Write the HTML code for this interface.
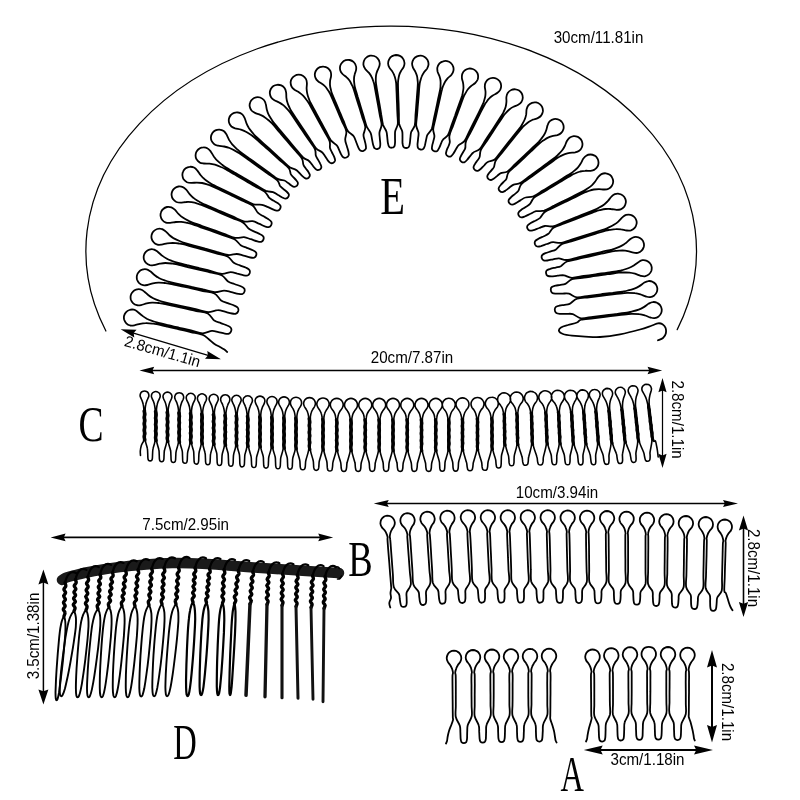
<!DOCTYPE html>
<html><head><meta charset="utf-8"><title>combs</title>
<style>
html,body{margin:0;padding:0;background:#fff;}
body{width:800px;height:800px;overflow:hidden;font-family:"Liberation Sans",sans-serif;}
svg{display:block;}
text{font-family:"Liberation Sans",sans-serif;fill:#000;}
.ser{font-family:"Liberation Serif",serif;}
</style></head><body>
<svg width="800" height="800" viewBox="0 0 800 800">
<rect width="800" height="800" fill="#fff"/>
<g opacity="0.999">
<path d="M105.9 331 A305.3 224.9 0 1 1 677.2 329.6" fill="none" stroke="#000" stroke-width="1.25" stroke-linecap="round"/>
<path d="M227.2 352.0C226.7 351.6 225.2 350.1 224.0 349.3C222.8 348.5 221.6 347.9 220.0 347.0C218.4 346.1 216.4 345.3 214.5 344.0C212.6 342.7 210.5 340.5 208.5 339.0C206.5 337.5 205.3 335.9 202.3 334.7C199.4 333.6 194.5 332.9 190.7 332.0C186.8 331.1 182.9 330.2 179.0 329.4C175.1 328.5 171.1 327.5 167.3 326.7C163.5 325.8 158.9 324.7 156.4 324.2C153.8 323.7 153.9 323.8 152.2 323.6C150.4 323.4 147.7 323.1 145.7 323.2C143.7 323.2 142.0 323.4 140.1 323.8C138.3 324.2 136.0 325.1 134.4 325.3C132.7 325.6 131.5 325.8 130.2 325.5C128.8 325.1 127.3 324.3 126.3 323.3C125.3 322.3 124.6 320.9 124.2 319.7C123.8 318.4 123.8 317.0 124.1 315.8C124.4 314.5 125.0 313.3 125.9 312.3C126.8 311.3 128.1 310.4 129.4 310.0C130.7 309.5 132.5 309.4 133.8 309.7C135.2 310.0 136.2 310.7 137.5 311.7C138.9 312.7 140.5 314.5 142.1 315.6C143.6 316.8 145.0 317.7 146.8 318.7C148.6 319.6 151.1 320.5 152.7 321.1C154.4 321.8 154.3 321.8 156.8 322.4C159.3 323.1 163.9 324.2 167.7 325.1C171.4 325.9 175.5 326.9 179.3 327.8C183.2 328.7 187.1 329.6 191.0 330.5C194.9 331.4 199.2 333.2 202.7 333.3C206.2 333.3 209.3 331.1 211.9 330.9C214.5 330.7 216.3 331.7 218.4 332.1C220.6 332.6 223.1 333.4 224.8 333.6C226.6 333.9 228.0 334.1 229.0 333.7C230.1 333.2 230.9 332.1 231.2 331.1C231.5 330.1 231.5 328.6 230.8 327.7C230.1 326.7 228.9 326.2 227.2 325.5C225.6 324.7 222.9 324.0 220.8 323.1C218.6 322.3 216.5 322.2 214.3 320.6C212.2 319.0 210.8 315.1 207.8 313.5C204.8 311.9 200.2 311.8 196.3 311.0C192.5 310.1 188.7 309.3 184.8 308.4C181.0 307.6 177.0 306.7 173.3 305.9C169.6 305.1 165.0 304.0 162.5 303.6C160.0 303.1 160.1 303.2 158.4 303.0C156.7 302.9 154.1 302.6 152.1 302.7C150.2 302.8 148.6 303.0 146.7 303.4C144.9 303.8 142.7 304.8 141.1 305.1C139.4 305.4 138.2 305.6 136.9 305.2C135.5 304.9 134.0 304.1 133.0 303.1C131.9 302.1 131.2 300.7 130.8 299.5C130.5 298.2 130.5 296.8 130.7 295.6C131.0 294.3 131.6 293.0 132.5 292.1C133.4 291.1 134.6 290.1 135.9 289.7C137.3 289.2 139.0 289.1 140.4 289.4C141.8 289.7 142.8 290.4 144.1 291.4C145.5 292.3 147.0 294.1 148.5 295.2C150.0 296.4 151.4 297.3 153.2 298.2C154.9 299.1 157.3 300.0 159.0 300.6C160.6 301.2 160.5 301.2 162.9 301.8C165.4 302.4 170.0 303.5 173.7 304.3C177.4 305.1 181.3 306.0 185.2 306.9C189.0 307.7 192.8 308.6 196.7 309.5C200.5 310.3 204.7 312.0 208.2 312.1C211.7 312.2 214.9 310.2 217.7 310.2C220.5 310.1 222.5 311.1 224.9 311.7C227.2 312.3 230.1 313.2 232.0 313.5C233.8 313.8 235.0 314.0 236.0 313.6C237.1 313.2 237.9 312.0 238.2 311.1C238.5 310.1 238.5 308.7 237.8 307.8C237.2 306.8 236.1 306.3 234.4 305.6C232.7 304.8 229.9 304.0 227.7 303.1C225.5 302.2 223.3 302.0 221.1 300.4C218.9 298.8 217.5 295.1 214.4 293.5C211.4 292.0 206.7 291.8 202.9 291.0C199.0 290.1 195.2 289.3 191.3 288.4C187.4 287.6 183.5 286.7 179.7 285.9C176.0 285.1 171.4 284.0 168.9 283.6C166.4 283.1 166.5 283.2 164.7 283.0C163.0 282.9 160.4 282.6 158.4 282.7C156.5 282.8 154.8 283.0 152.9 283.4C151.1 283.8 148.9 284.7 147.3 285.0C145.6 285.3 144.4 285.5 143.1 285.2C141.7 284.9 140.2 284.0 139.2 283.1C138.2 282.1 137.4 280.7 137.0 279.5C136.7 278.2 136.7 276.8 136.9 275.6C137.2 274.3 137.8 273.0 138.7 272.1C139.5 271.1 140.8 270.1 142.1 269.7C143.5 269.2 145.2 269.1 146.6 269.4C148.0 269.7 148.9 270.4 150.3 271.3C151.7 272.3 153.3 274.1 154.8 275.2C156.3 276.4 157.7 277.3 159.4 278.2C161.2 279.1 163.7 280.0 165.3 280.6C166.9 281.2 166.8 281.2 169.3 281.8C171.7 282.4 176.4 283.5 180.1 284.3C183.8 285.1 187.8 286.0 191.6 286.9C195.5 287.7 199.4 288.6 203.2 289.5C207.1 290.3 211.3 291.9 214.8 292.1C218.2 292.3 221.3 290.6 224.1 290.6C226.9 290.6 228.9 291.6 231.4 292.1C233.8 292.7 236.7 293.6 238.5 293.9C240.4 294.2 241.5 294.4 242.5 294.0C243.5 293.6 244.3 292.5 244.5 291.6C244.8 290.6 244.8 289.3 244.1 288.4C243.5 287.5 242.4 287.0 240.8 286.3C239.2 285.6 236.5 284.8 234.4 284.0C232.3 283.2 230.2 282.9 228.1 281.5C225.9 280.0 224.6 276.7 221.6 275.2C218.6 273.7 213.8 273.3 210.0 272.4C206.1 271.5 202.3 270.5 198.4 269.6C194.5 268.6 190.5 267.7 186.8 266.8C183.1 265.9 178.4 264.7 175.9 264.2C173.4 263.6 173.5 263.7 171.7 263.5C170.0 263.3 167.4 263.0 165.4 263.0C163.4 263.0 161.7 263.3 159.8 263.6C157.9 264.0 155.7 264.8 154.0 265.1C152.4 265.3 151.2 265.5 149.9 265.2C148.5 264.8 147.0 263.9 146.0 262.9C145.0 262.0 144.3 260.6 143.9 259.3C143.6 258.0 143.6 256.6 143.9 255.4C144.2 254.1 144.9 252.9 145.8 251.9C146.6 251.0 147.9 250.0 149.3 249.6C150.6 249.2 152.4 249.1 153.7 249.5C155.1 249.8 156.0 250.5 157.4 251.5C158.7 252.5 160.3 254.3 161.8 255.4C163.3 256.6 164.7 257.6 166.5 258.5C168.2 259.5 170.7 260.4 172.4 261.1C174.0 261.7 173.9 261.7 176.3 262.4C178.8 263.1 183.5 264.2 187.2 265.2C190.9 266.1 194.9 267.1 198.8 268.0C202.6 269.0 206.5 269.9 210.3 270.9C214.2 271.9 218.5 273.6 221.9 273.8C225.3 274.0 228.1 272.2 230.7 272.2C233.3 272.2 235.1 273.1 237.2 273.7C239.4 274.2 242.0 275.0 243.7 275.3C245.4 275.6 246.6 275.8 247.6 275.5C248.6 275.1 249.4 274.0 249.7 273.1C250.0 272.1 250.0 270.8 249.4 269.9C248.8 269.0 247.7 268.5 246.1 267.7C244.5 267.0 242.0 266.2 239.9 265.4C237.9 264.6 235.8 264.3 233.8 262.8C231.7 261.3 230.5 258.0 227.5 256.5C224.6 254.9 220.0 254.4 216.2 253.3C212.4 252.3 208.7 251.3 204.9 250.2C201.1 249.2 197.2 248.1 193.6 247.1C189.9 246.1 185.4 244.8 183.0 244.2C180.5 243.6 180.6 243.7 178.9 243.5C177.2 243.2 174.6 242.9 172.7 242.8C170.7 242.8 169.1 243.0 167.2 243.3C165.4 243.6 163.2 244.4 161.6 244.6C159.9 244.8 158.7 245.0 157.4 244.6C156.0 244.2 154.5 243.3 153.6 242.2C152.6 241.2 151.9 239.8 151.6 238.5C151.3 237.2 151.4 235.8 151.7 234.6C152.1 233.4 152.7 232.1 153.7 231.2C154.6 230.3 155.9 229.4 157.2 229.0C158.6 228.6 160.4 228.6 161.7 229.0C163.0 229.3 164.0 230.1 165.3 231.1C166.6 232.1 168.1 234.0 169.5 235.2C170.9 236.4 172.3 237.4 173.9 238.4C175.6 239.4 178.0 240.4 179.6 241.0C181.2 241.7 181.0 241.8 183.4 242.5C185.8 243.2 190.4 244.5 194.0 245.5C197.7 246.5 201.6 247.6 205.3 248.7C209.1 249.7 212.9 250.8 216.6 251.9C220.4 252.9 224.6 254.7 228.0 255.0C231.3 255.4 234.2 253.9 236.8 254.0C239.4 254.1 241.4 255.1 243.6 255.6C245.9 256.2 248.6 257.2 250.4 257.5C252.1 257.8 253.2 258.0 254.2 257.7C255.1 257.3 255.9 256.3 256.2 255.4C256.5 254.5 256.5 253.2 255.9 252.3C255.4 251.4 254.3 250.9 252.8 250.2C251.2 249.4 248.7 248.6 246.7 247.8C244.7 247.0 242.7 246.6 240.7 245.2C238.7 243.8 237.4 240.9 234.5 239.2C231.7 237.6 227.2 236.6 223.6 235.3C219.9 234.0 216.2 232.7 212.6 231.4C208.9 230.1 205.1 228.8 201.6 227.6C198.0 226.3 193.6 224.7 191.3 224.0C188.9 223.2 189.0 223.3 187.3 222.9C185.6 222.6 183.1 222.1 181.2 221.9C179.3 221.7 177.7 221.8 175.8 222.0C174.0 222.2 171.8 222.8 170.1 222.9C168.5 223.0 167.2 223.1 165.9 222.6C164.6 222.1 163.2 221.1 162.3 220.0C161.4 218.9 160.8 217.4 160.6 216.2C160.4 214.9 160.6 213.4 161.0 212.3C161.4 211.1 162.2 209.8 163.2 209.0C164.2 208.1 165.5 207.3 166.9 207.0C168.3 206.8 170.0 206.9 171.4 207.3C172.7 207.8 173.6 208.6 174.8 209.7C176.0 210.8 177.3 212.8 178.7 214.1C180.0 215.4 181.2 216.5 182.8 217.5C184.4 218.6 186.6 219.8 188.2 220.6C189.7 221.4 189.5 221.4 191.9 222.3C194.2 223.2 198.6 224.7 202.1 226.0C205.7 227.3 209.4 228.6 213.1 229.9C216.8 231.2 220.4 232.6 224.1 233.9C227.7 235.2 231.7 237.2 235.1 237.8C238.4 238.4 241.4 237.0 244.0 237.2C246.6 237.5 248.5 238.5 250.8 239.2C253.0 239.9 255.7 241.0 257.5 241.4C259.2 241.8 260.2 242.1 261.2 241.8C262.2 241.5 263.1 240.5 263.4 239.6C263.8 238.7 263.8 237.4 263.3 236.5C262.7 235.6 261.7 235.0 260.2 234.2C258.8 233.4 256.4 232.5 254.5 231.6C252.6 230.7 250.7 230.3 248.9 228.8C247.0 227.4 245.9 224.5 243.2 222.7C240.5 220.9 236.1 219.7 232.6 218.1C229.0 216.6 225.5 215.1 221.9 213.6C218.4 212.1 214.7 210.5 211.3 209.0C207.9 207.6 203.7 205.7 201.4 204.8C199.1 203.9 199.2 204.0 197.5 203.6C195.9 203.1 193.5 202.5 191.6 202.2C189.7 201.9 188.1 201.9 186.3 202.0C184.4 202.0 182.2 202.6 180.6 202.6C178.9 202.6 177.7 202.5 176.4 202.0C175.2 201.4 173.8 200.3 173.0 199.1C172.2 198.0 171.7 196.5 171.6 195.2C171.4 193.9 171.7 192.5 172.2 191.3C172.7 190.1 173.5 189.0 174.6 188.2C175.6 187.4 177.0 186.7 178.4 186.5C179.8 186.3 181.6 186.5 182.9 187.1C184.1 187.6 185.0 188.5 186.2 189.7C187.3 190.8 188.4 192.8 189.6 194.2C190.8 195.6 192.0 196.8 193.5 197.9C194.9 199.1 197.1 200.4 198.5 201.3C200.0 202.1 199.8 202.1 202.1 203.2C204.3 204.2 208.5 206.0 212.0 207.5C215.4 209.0 219.0 210.6 222.6 212.1C226.1 213.7 229.6 215.2 233.2 216.7C236.7 218.2 240.6 220.6 243.8 221.3C247.0 222.1 250.1 220.8 252.6 221.2C255.2 221.6 256.8 222.8 258.8 223.7C260.9 224.5 263.3 225.8 264.9 226.4C266.6 226.9 267.7 227.3 268.7 227.1C269.8 226.9 270.8 226.0 271.2 225.1C271.7 224.2 271.8 222.9 271.4 221.9C270.9 221.0 269.9 220.3 268.5 219.3C267.1 218.3 264.9 217.2 263.1 216.1C261.3 215.0 259.5 214.5 257.8 212.7C256.1 211.0 255.4 207.7 252.9 205.7C250.3 203.7 245.9 202.3 242.4 200.7C239.0 199.0 235.5 197.4 232.0 195.7C228.5 194.0 224.9 192.3 221.6 190.7C218.2 189.1 214.0 187.1 211.8 186.1C209.5 185.1 209.6 185.2 208.0 184.7C206.4 184.2 204.0 183.4 202.1 183.0C200.3 182.7 198.7 182.6 196.8 182.6C195.0 182.6 192.7 183.0 191.1 182.9C189.5 182.9 188.2 182.8 187.0 182.2C185.7 181.5 184.4 180.3 183.6 179.2C182.9 178.0 182.5 176.5 182.4 175.2C182.3 173.9 182.6 172.5 183.2 171.3C183.7 170.2 184.6 169.1 185.7 168.3C186.8 167.5 188.2 166.9 189.6 166.8C191.0 166.6 192.7 166.9 194.0 167.5C195.3 168.1 196.1 169.0 197.2 170.3C198.3 171.5 199.3 173.5 200.5 175.0C201.6 176.4 202.7 177.6 204.2 178.8C205.6 180.1 207.7 181.5 209.1 182.4C210.5 183.3 210.4 183.3 212.5 184.5C214.7 185.6 218.9 187.6 222.3 189.2C225.6 190.8 229.2 192.6 232.7 194.2C236.2 195.9 239.6 197.6 243.1 199.3C246.6 201.0 250.4 203.4 253.5 204.3C256.7 205.2 259.5 204.3 261.9 204.8C264.4 205.3 266.1 206.4 268.1 207.2C270.2 208.1 272.6 209.3 274.2 209.9C275.8 210.4 276.9 210.8 277.9 210.6C278.9 210.4 279.8 209.4 280.2 208.6C280.6 207.8 280.8 206.5 280.4 205.6C279.9 204.6 278.7 203.9 277.6 203.0C276.4 202.2 274.7 201.4 273.4 200.6C272.0 199.7 270.6 199.3 269.3 197.9C267.9 196.5 267.5 194.1 265.1 192.1C262.7 190.2 258.3 188.2 254.9 186.2C251.4 184.2 248.0 182.2 244.6 180.2C241.2 178.3 237.6 176.2 234.3 174.3C231.0 172.4 226.9 170.0 224.7 168.8C222.5 167.5 222.5 167.6 220.9 167.0C219.3 166.3 216.9 165.3 215.0 164.7C213.1 164.2 211.4 163.9 209.5 163.7C207.6 163.6 205.3 163.8 203.6 163.5C202.0 163.3 200.8 163.2 199.6 162.4C198.4 161.7 197.1 160.4 196.5 159.2C195.8 158.0 195.5 156.4 195.6 155.1C195.6 153.8 196.0 152.5 196.6 151.4C197.3 150.3 198.3 149.2 199.4 148.6C200.5 147.9 202.0 147.4 203.4 147.4C204.8 147.3 206.5 147.8 207.7 148.5C208.9 149.1 209.7 150.1 210.7 151.4C211.7 152.8 212.7 154.9 213.8 156.5C214.9 158.0 215.9 159.4 217.3 160.7C218.7 162.1 220.8 163.7 222.2 164.8C223.6 165.9 223.4 165.9 225.6 167.2C227.8 168.6 231.9 170.9 235.2 172.9C238.5 174.8 242.0 176.9 245.4 178.9C248.8 180.9 252.2 182.9 255.6 184.9C259.1 186.9 263.0 189.6 265.9 190.9C268.8 192.1 271.0 191.5 273.0 192.1C275.0 192.8 276.2 193.8 277.7 194.7C279.3 195.6 281.0 196.8 282.3 197.5C283.6 198.1 284.7 198.7 285.7 198.7C286.7 198.6 287.7 197.9 288.2 197.1C288.7 196.4 289.0 195.2 288.8 194.3C288.5 193.3 287.4 192.4 286.5 191.5C285.5 190.6 284.3 189.8 283.2 188.8C282.2 187.9 281.1 187.4 280.1 186.0C279.2 184.6 279.4 182.5 277.3 180.4C275.2 178.3 270.8 175.7 267.6 173.4C264.3 171.1 261.1 168.8 257.8 166.5C254.6 164.1 251.2 161.8 248.1 159.5C244.9 157.3 241.1 154.5 238.9 153.0C236.8 151.6 236.8 151.7 235.3 150.9C233.7 150.0 231.4 148.8 229.5 148.0C227.7 147.3 226.0 146.9 224.1 146.5C222.2 146.1 219.8 146.1 218.2 145.7C216.6 145.3 215.4 145.1 214.3 144.2C213.2 143.4 212.1 142.0 211.5 140.7C211.0 139.5 210.8 137.9 211.0 136.6C211.1 135.3 211.7 134.0 212.4 132.9C213.1 131.9 214.2 131.0 215.4 130.4C216.6 129.8 218.1 129.5 219.5 129.6C220.9 129.7 222.6 130.3 223.7 131.1C224.8 131.9 225.5 132.9 226.4 134.3C227.2 135.7 228.0 138.0 229.0 139.7C230.0 141.3 230.9 142.8 232.2 144.3C233.5 145.8 235.5 147.6 236.7 148.8C238.0 150.0 237.9 150.0 240.0 151.6C242.0 153.1 245.9 155.9 249.0 158.2C252.2 160.4 255.5 162.8 258.8 165.2C262.0 167.5 265.2 169.8 268.5 172.2C271.7 174.5 275.5 177.8 278.2 179.1C280.8 180.5 282.8 179.9 284.4 180.5C286.0 181.1 286.7 182.0 287.8 182.8C289.0 183.6 290.1 184.6 291.1 185.3C292.2 186.0 293.4 186.8 294.3 186.9C295.3 186.9 296.4 186.3 297.0 185.7C297.6 185.0 298.0 183.9 297.9 182.9C297.7 181.9 296.7 180.9 295.9 179.9C295.2 179.0 294.2 178.1 293.3 177.1C292.5 176.2 291.6 175.7 290.8 174.2C290.1 172.7 290.6 170.6 288.8 168.3C287.0 166.0 283.0 163.1 280.1 160.5C277.2 157.9 274.3 155.2 271.4 152.6C268.5 150.0 265.5 147.3 262.6 144.8C259.8 142.3 256.4 139.1 254.4 137.5C252.5 135.9 252.6 136.0 251.2 135.0C249.7 134.1 247.6 132.6 245.9 131.7C244.2 130.8 242.6 130.3 240.9 129.7C239.1 129.1 236.7 128.9 235.2 128.4C233.6 127.8 232.5 127.4 231.4 126.5C230.4 125.5 229.5 124.0 229.1 122.7C228.7 121.3 228.7 119.7 229.0 118.5C229.3 117.2 230.0 115.9 230.9 115.0C231.7 114.1 232.9 113.2 234.1 112.8C235.3 112.4 236.9 112.2 238.3 112.5C239.7 112.7 241.3 113.5 242.3 114.4C243.4 115.3 243.9 116.4 244.6 117.9C245.3 119.4 245.8 121.7 246.5 123.4C247.2 125.2 248.0 126.7 249.0 128.3C250.1 129.9 251.8 131.8 252.9 133.2C254.0 134.5 253.8 134.4 255.6 136.2C257.5 137.9 260.9 141.0 263.7 143.6C266.5 146.1 269.5 148.8 272.4 151.4C275.3 154.1 278.2 156.7 281.1 159.3C284.0 161.9 287.3 165.4 289.8 167.2C292.3 168.9 294.4 168.9 296.0 169.9C297.7 170.8 298.4 172.0 299.6 173.1C300.7 174.3 301.9 175.7 303.0 176.6C304.0 177.5 305.0 178.3 305.9 178.5C306.9 178.7 308.0 178.3 308.7 177.7C309.3 177.1 309.9 176.1 309.9 175.1C309.8 174.1 309.1 173.0 308.4 171.9C307.7 170.8 306.6 169.6 305.8 168.4C305.0 167.2 304.0 166.4 303.4 164.7C302.7 163.1 303.4 161.0 301.9 158.5C300.4 156.0 296.9 152.6 294.5 149.7C292.0 146.8 289.5 143.9 287.0 141.0C284.5 138.0 281.9 135.0 279.5 132.2C277.1 129.4 274.2 125.9 272.5 124.0C270.9 122.2 270.9 122.4 269.7 121.3C268.4 120.2 266.6 118.5 265.0 117.4C263.5 116.3 262.0 115.6 260.4 114.9C258.7 114.1 256.5 113.6 255.0 112.9C253.5 112.2 252.4 111.6 251.5 110.5C250.7 109.4 249.9 107.8 249.7 106.4C249.5 105.1 249.7 103.5 250.2 102.3C250.7 101.0 251.5 99.9 252.5 99.1C253.5 98.2 254.7 97.6 256.0 97.3C257.3 97.1 258.9 97.1 260.2 97.5C261.5 98.0 263.0 99.0 263.9 100.0C264.9 101.1 265.3 102.2 265.7 103.8C266.2 105.4 266.3 107.6 266.8 109.4C267.3 111.2 267.7 112.7 268.5 114.4C269.3 116.1 270.7 118.2 271.6 119.6C272.5 121.0 272.3 121.0 273.9 122.9C275.4 124.8 278.4 128.3 280.8 131.1C283.2 134.0 285.7 137.0 288.2 139.9C290.7 142.9 293.2 145.8 295.6 148.7C298.1 151.7 300.9 155.5 303.1 157.5C305.2 159.5 307.3 159.6 308.7 160.7C310.1 161.8 310.7 163.0 311.7 164.2C312.6 165.3 313.5 166.7 314.4 167.7C315.4 168.7 316.2 169.7 317.1 170.0C318.0 170.2 319.2 169.9 319.9 169.5C320.6 169.0 321.3 168.0 321.4 167.1C321.5 166.1 320.9 165.0 320.3 163.8C319.7 162.5 318.7 161.1 318.0 159.7C317.2 158.4 316.3 157.4 315.8 155.6C315.3 153.8 316.1 151.8 314.9 149.1C313.7 146.5 310.7 142.9 308.6 139.8C306.5 136.7 304.4 133.6 302.3 130.5C300.2 127.4 298.0 124.2 296.0 121.2C294.0 118.2 291.5 114.5 290.1 112.5C288.7 110.6 288.8 110.8 287.7 109.6C286.6 108.4 285.0 106.6 283.6 105.4C282.2 104.3 280.9 103.4 279.4 102.6C277.8 101.7 275.7 101.0 274.4 100.2C273.0 99.3 272.0 98.6 271.2 97.4C270.4 96.2 269.9 94.5 269.8 93.1C269.8 91.8 270.2 90.2 270.8 89.0C271.4 87.9 272.4 86.8 273.4 86.1C274.5 85.4 275.8 84.9 277.1 84.8C278.4 84.7 280.0 84.9 281.3 85.4C282.5 86.0 283.9 87.2 284.7 88.3C285.5 89.5 285.8 90.7 286.1 92.3C286.4 93.9 286.2 96.1 286.4 97.8C286.6 99.6 286.9 101.1 287.5 102.8C288.0 104.6 289.1 106.7 289.8 108.2C290.5 109.6 290.3 109.5 291.6 111.5C292.9 113.6 295.4 117.3 297.4 120.3C299.4 123.3 301.5 126.5 303.6 129.6C305.7 132.7 307.8 135.8 309.9 138.9C312.0 142.1 314.1 146.1 316.1 148.3C318.1 150.5 320.5 150.9 322.0 152.2C323.5 153.5 324.1 154.9 325.1 156.3C326.0 157.7 327.0 159.4 327.9 160.6C328.8 161.7 329.6 162.7 330.5 163.0C331.4 163.4 332.6 163.2 333.4 162.7C334.1 162.3 334.9 161.3 335.1 160.4C335.2 159.4 334.7 158.2 334.2 156.9C333.7 155.6 332.7 154.0 332.0 152.5C331.3 151.0 330.4 149.9 330.0 148.0C329.6 146.1 330.5 143.9 329.6 141.1C328.6 138.3 326.1 134.7 324.3 131.4C322.5 128.2 320.8 125.0 319.0 121.7C317.2 118.5 315.4 115.2 313.7 112.0C312.0 108.9 309.9 105.1 308.7 103.0C307.5 101.0 307.6 101.2 306.6 100.0C305.7 98.7 304.3 96.9 303.1 95.6C301.8 94.4 300.6 93.5 299.2 92.5C297.8 91.5 295.8 90.7 294.5 89.8C293.2 88.8 292.2 88.0 291.6 86.7C290.9 85.5 290.6 83.7 290.6 82.3C290.7 80.9 291.2 79.4 292.0 78.3C292.7 77.2 293.7 76.3 294.9 75.7C296.0 75.0 297.4 74.7 298.7 74.7C300.0 74.7 301.6 75.0 302.8 75.7C304.0 76.4 305.2 77.7 305.9 78.9C306.6 80.1 306.8 81.4 306.9 83.0C307.0 84.6 306.6 86.7 306.6 88.4C306.7 90.2 306.8 91.7 307.2 93.4C307.5 95.1 308.3 97.3 308.9 98.8C309.4 100.2 309.3 100.1 310.3 102.2C311.4 104.3 313.5 108.1 315.2 111.3C316.8 114.4 318.7 117.7 320.4 121.0C322.2 124.2 323.9 127.4 325.7 130.7C327.4 133.9 329.1 137.9 330.9 140.4C332.8 142.8 335.5 143.8 336.8 145.4C338.2 146.9 338.3 148.2 339.0 149.7C339.7 151.2 340.3 152.9 341.0 154.1C341.7 155.4 342.3 156.7 343.2 157.3C344.1 157.9 345.5 157.9 346.4 157.5C347.3 157.2 348.3 156.4 348.7 155.3C349.0 154.3 348.7 153.1 348.4 151.5C348.1 149.8 347.2 147.6 346.7 145.6C346.1 143.6 345.2 142.0 345.2 139.6C345.1 137.2 346.8 134.3 346.3 131.3C345.8 128.3 343.6 125.0 342.2 121.8C340.9 118.6 339.5 115.5 338.2 112.3C336.8 109.1 335.4 105.8 334.1 102.8C332.8 99.7 331.2 95.9 330.2 94.0C329.3 92.0 329.4 92.3 328.6 91.1C327.8 89.9 326.7 88.2 325.7 87.0C324.6 85.8 323.6 84.9 322.3 84.0C321.0 83.0 319.2 82.3 318.1 81.3C316.9 80.3 316.0 79.3 315.5 77.9C314.9 76.6 314.7 74.9 314.9 73.5C315.1 72.1 315.8 70.6 316.6 69.6C317.4 68.5 318.6 67.7 319.8 67.2C321.0 66.7 322.4 66.4 323.7 66.6C325.0 66.7 326.6 67.2 327.7 68.0C328.8 68.8 330.0 70.2 330.6 71.5C331.1 72.8 331.2 74.2 331.1 75.7C331.1 77.2 330.3 79.0 330.1 80.6C330.0 82.2 329.9 83.6 330.0 85.1C330.1 86.7 330.6 88.8 331.0 90.1C331.3 91.5 331.1 91.3 331.9 93.3C332.7 95.3 334.3 99.1 335.6 102.1C336.9 105.2 338.3 108.5 339.6 111.7C341.0 114.8 342.3 118.0 343.7 121.2C345.0 124.4 346.0 128.2 347.7 130.7C349.4 133.2 352.3 134.5 353.7 136.3C355.1 138.2 355.3 139.9 356.1 141.7C356.8 143.6 357.5 145.8 358.2 147.2C358.9 148.7 359.4 149.9 360.3 150.5C361.2 151.1 362.6 151.1 363.5 150.8C364.4 150.5 365.5 149.7 365.9 148.7C366.2 147.7 365.9 146.3 365.7 144.8C365.5 143.4 364.9 141.5 364.5 139.8C364.1 138.1 363.4 136.9 363.5 134.7C363.7 132.6 365.5 129.9 365.3 127.0C365.1 124.0 363.3 120.4 362.2 117.1C361.2 113.8 360.2 110.4 359.2 107.1C358.2 103.8 357.1 100.4 356.1 97.2C355.2 94.1 354.0 90.1 353.3 88.1C352.6 86.0 352.6 86.2 351.9 85.0C351.3 83.8 350.4 81.9 349.5 80.6C348.6 79.3 347.6 78.3 346.4 77.2C345.3 76.1 343.5 75.2 342.5 74.0C341.5 72.9 340.7 71.8 340.3 70.4C339.9 69.1 339.9 67.3 340.2 65.9C340.5 64.6 341.4 63.2 342.3 62.3C343.2 61.3 344.5 60.6 345.7 60.2C346.9 59.8 348.4 59.7 349.7 60.0C351.0 60.3 352.4 60.9 353.5 61.9C354.5 62.8 355.5 64.3 355.9 65.7C356.4 67.0 356.3 68.4 356.1 69.9C355.9 71.4 354.9 73.1 354.6 74.7C354.2 76.2 354.0 77.6 354.0 79.2C353.9 80.8 354.2 82.9 354.4 84.3C354.6 85.6 354.4 85.4 355.0 87.5C355.5 89.6 356.8 93.6 357.7 96.8C358.7 99.9 359.7 103.4 360.7 106.7C361.7 110.0 362.7 113.3 363.7 116.6C364.7 119.9 365.6 123.8 366.7 126.5C367.9 129.3 369.8 131.1 370.7 133.2C371.6 135.3 371.6 137.1 372.0 139.1C372.4 141.1 372.7 143.5 373.2 145.0C373.6 146.5 373.9 147.6 374.6 148.2C375.3 148.9 376.5 149.2 377.3 149.0C378.2 148.9 379.3 148.4 379.8 147.5C380.3 146.7 380.3 145.6 380.3 144.0C380.3 142.5 379.9 140.1 379.8 138.2C379.7 136.2 379.2 134.5 379.5 132.3C379.8 130.1 381.5 127.9 381.6 124.9C381.6 122.0 380.3 118.1 379.7 114.6C379.1 111.2 378.5 107.8 377.9 104.3C377.3 100.9 376.6 97.4 376.0 94.1C375.4 90.8 374.7 86.6 374.3 84.5C373.8 82.4 373.8 82.6 373.3 81.3C372.9 79.9 372.2 77.9 371.4 76.5C370.7 75.1 369.8 73.9 368.8 72.7C367.8 71.5 366.2 70.3 365.3 69.1C364.4 67.8 363.7 66.6 363.5 65.2C363.3 63.8 363.5 62.0 364.0 60.7C364.5 59.4 365.5 58.2 366.5 57.4C367.5 56.5 368.9 56.0 370.1 55.7C371.4 55.5 372.8 55.6 374.1 56.0C375.3 56.4 376.7 57.3 377.6 58.3C378.6 59.4 379.4 61.0 379.6 62.4C379.9 63.8 379.7 65.1 379.2 66.6C378.8 68.1 377.7 69.7 377.2 71.2C376.6 72.7 376.2 74.1 376.0 75.7C375.8 77.3 375.8 79.4 375.8 80.8C375.9 82.2 375.8 82.0 376.1 84.2C376.4 86.4 377.1 90.5 377.7 93.8C378.2 97.1 378.9 100.6 379.5 104.1C380.1 107.5 380.7 110.9 381.2 114.4C381.8 117.8 382.2 121.8 383.0 124.7C383.9 127.5 385.7 129.4 386.4 131.6C387.1 133.7 387.0 135.5 387.3 137.5C387.5 139.5 387.6 141.9 388.0 143.4C388.3 145.0 388.5 146.0 389.1 146.7C389.7 147.5 390.9 147.8 391.8 147.7C392.6 147.7 393.8 147.2 394.3 146.4C394.9 145.6 394.9 144.6 395.0 143.0C395.2 141.5 395.0 139.1 395.0 137.1C395.1 135.1 394.8 133.4 395.2 131.2C395.7 129.0 397.4 126.9 397.8 124.0C398.1 121.1 397.5 117.2 397.4 113.7C397.2 110.3 397.1 106.9 397.0 103.5C396.8 100.0 396.7 96.5 396.6 93.2C396.4 89.9 396.3 85.8 396.2 83.7C396.0 81.5 395.9 81.8 395.7 80.4C395.4 79.1 395.0 77.0 394.4 75.6C393.9 74.1 393.2 72.9 392.4 71.6C391.5 70.2 390.1 68.9 389.4 67.6C388.7 66.3 388.1 64.9 388.1 63.5C388.1 62.1 388.5 60.4 389.2 59.2C389.9 57.9 391.1 56.8 392.2 56.1C393.3 55.5 394.7 55.1 396.0 55.0C397.3 55.0 398.7 55.3 399.9 55.9C401.1 56.5 402.3 57.5 403.1 58.7C403.9 59.8 404.4 61.5 404.5 63.0C404.6 64.4 404.2 65.7 403.6 67.1C403.0 68.5 401.6 69.9 400.9 71.3C400.1 72.6 399.5 73.9 399.1 75.4C398.7 76.9 398.4 79.0 398.2 80.3C398.0 81.7 398.0 81.5 398.0 83.6C398.0 85.7 398.1 89.8 398.2 93.1C398.3 96.4 398.4 100.0 398.6 103.4C398.7 106.8 398.8 110.3 398.9 113.7C399.0 117.1 398.7 121.0 399.2 124.0C399.8 126.9 401.6 129.0 402.2 131.2C402.7 133.4 402.4 135.2 402.5 137.2C402.5 139.2 402.4 141.6 402.5 143.2C402.7 144.8 402.8 145.9 403.4 146.7C403.9 147.5 405.1 148.0 406.0 148.0C406.9 148.1 408.1 147.7 408.7 147.0C409.4 146.2 409.6 145.1 409.8 143.5C410.1 142.0 410.2 139.7 410.4 137.8C410.7 135.9 410.5 134.1 411.2 132.0C412.0 129.9 414.0 128.1 414.8 125.2C415.5 122.3 415.3 118.3 415.5 114.8C415.8 111.4 416.1 107.9 416.3 104.5C416.6 101.0 416.9 97.4 417.1 94.1C417.4 90.8 417.7 86.6 417.8 84.5C417.9 82.3 417.8 82.5 417.7 81.1C417.5 79.7 417.4 77.6 417.0 76.1C416.6 74.5 416.1 73.2 415.4 71.8C414.7 70.4 413.5 68.9 412.9 67.4C412.4 66.0 412.0 64.7 412.1 63.3C412.3 61.9 412.9 60.2 413.7 59.0C414.5 57.9 415.8 57.0 417.0 56.4C418.2 55.9 419.7 55.6 420.9 55.7C422.2 55.8 423.6 56.3 424.7 57.0C425.8 57.7 426.9 58.9 427.6 60.1C428.2 61.4 428.6 63.2 428.5 64.6C428.4 66.0 427.8 67.2 427.1 68.6C426.3 69.9 424.8 71.2 423.9 72.5C423.0 73.8 422.3 75.0 421.7 76.5C421.1 77.9 420.6 80.0 420.2 81.3C419.9 82.7 419.8 82.5 419.6 84.6C419.3 86.8 419.0 90.9 418.8 94.2C418.5 97.6 418.2 101.1 417.9 104.6C417.6 108.0 417.4 111.5 417.1 114.9C416.8 118.4 416.0 122.3 416.2 125.3C416.5 128.3 418.1 130.5 418.5 132.7C418.8 134.9 418.3 136.6 418.1 138.5C418.0 140.5 417.6 142.7 417.5 144.3C417.5 145.9 417.5 147.1 418.0 147.9C418.5 148.8 419.6 149.4 420.5 149.5C421.4 149.7 422.6 149.5 423.3 148.8C424.1 148.1 424.4 146.9 424.9 145.5C425.3 144.0 425.6 141.9 426.0 140.2C426.5 138.4 426.5 136.8 427.4 134.9C428.4 133.0 430.7 131.5 431.8 128.8C432.8 126.1 433.2 122.1 433.9 118.7C434.6 115.3 435.4 112.0 436.1 108.6C436.8 105.2 437.6 101.7 438.2 98.5C438.9 95.2 439.8 91.2 440.2 89.1C440.6 87.0 440.5 87.2 440.5 85.8C440.6 84.4 440.7 82.3 440.5 80.7C440.4 79.1 440.0 77.8 439.5 76.3C439.0 74.8 438.0 73.1 437.6 71.7C437.3 70.2 437.1 68.8 437.4 67.4C437.7 66.0 438.6 64.5 439.5 63.4C440.5 62.4 441.9 61.6 443.2 61.3C444.4 60.9 445.9 60.9 447.1 61.1C448.4 61.4 449.7 62.0 450.7 62.9C451.7 63.8 452.7 65.0 453.1 66.4C453.6 67.7 453.7 69.5 453.4 70.9C453.2 72.3 452.4 73.5 451.5 74.7C450.6 75.9 448.9 76.9 447.8 78.1C446.8 79.3 445.9 80.3 445.1 81.7C444.3 83.1 443.5 85.0 443.0 86.3C442.5 87.6 442.5 87.4 442.0 89.4C441.4 91.5 440.6 95.6 439.9 98.8C439.1 102.1 438.4 105.6 437.6 108.9C436.9 112.3 436.2 115.7 435.4 119.0C434.7 122.4 433.4 126.3 433.2 129.2C433.1 132.0 434.4 134.1 434.4 136.1C434.5 138.0 433.8 139.3 433.4 140.9C433.1 142.5 432.4 144.2 432.2 145.6C432.0 147.0 431.7 148.3 432.0 149.2C432.4 150.2 433.4 150.9 434.2 151.2C435.1 151.5 436.3 151.5 437.2 151.0C438.0 150.4 438.6 149.1 439.2 147.9C439.9 146.7 440.4 145.1 441.0 143.7C441.6 142.3 441.8 141.0 443.0 139.6C444.2 138.1 446.6 137.4 448.0 135.0C449.5 132.6 450.4 128.4 451.6 125.1C452.8 121.8 454.0 118.5 455.2 115.2C456.3 111.9 457.6 108.5 458.7 105.3C459.8 102.2 461.3 98.2 462.0 96.1C462.6 94.1 462.5 94.2 462.8 92.8C463.0 91.4 463.4 89.3 463.5 87.7C463.5 86.1 463.4 84.7 463.1 83.1C462.9 81.5 462.0 79.7 461.9 78.1C461.8 76.6 461.8 75.2 462.3 73.9C462.8 72.6 463.8 71.1 464.9 70.3C466.0 69.4 467.5 68.8 468.8 68.6C470.1 68.4 471.5 68.6 472.7 69.0C473.9 69.4 475.2 70.2 476.0 71.2C476.9 72.2 477.7 73.6 478.0 75.0C478.2 76.4 478.1 78.2 477.7 79.5C477.2 80.8 476.3 81.9 475.2 83.0C474.1 84.0 472.3 84.9 471.1 86.0C469.9 87.0 468.9 88.0 467.9 89.3C466.9 90.6 465.9 92.5 465.2 93.7C464.4 95.0 464.5 94.7 463.6 96.8C462.8 98.8 461.4 102.7 460.3 105.9C459.1 109.1 457.9 112.5 456.7 115.8C455.5 119.1 454.3 122.3 453.1 125.6C451.9 128.9 450.0 132.7 449.5 135.5C448.9 138.3 450.0 140.4 449.8 142.2C449.6 144.0 448.9 145.0 448.4 146.3C447.8 147.7 447.1 149.0 446.7 150.3C446.3 151.6 445.8 152.9 446.0 153.9C446.2 154.9 447.1 155.8 447.9 156.2C448.7 156.6 450.0 156.8 450.9 156.4C451.8 156.0 452.5 154.8 453.3 153.7C454.2 152.5 455.0 150.8 455.9 149.3C456.8 147.9 457.3 146.5 458.7 145.1C460.2 143.7 462.8 143.2 464.6 140.9C466.3 138.7 467.7 134.7 469.2 131.6C470.8 128.5 472.3 125.3 473.9 122.2C475.5 119.1 477.1 115.9 478.6 112.9C480.1 109.9 481.9 106.2 482.8 104.2C483.7 102.2 483.6 102.4 484.0 101.0C484.4 99.7 485.1 97.7 485.3 96.1C485.5 94.5 485.6 93.1 485.5 91.5C485.4 89.9 484.8 88.0 484.8 86.5C484.8 84.9 485.0 83.6 485.7 82.3C486.3 81.1 487.5 79.7 488.7 79.0C489.9 78.2 491.5 77.9 492.8 77.8C494.1 77.7 495.5 78.1 496.7 78.7C497.8 79.2 498.9 80.2 499.7 81.3C500.4 82.3 501.0 83.8 501.1 85.2C501.3 86.6 500.9 88.4 500.3 89.7C499.7 90.9 498.7 91.9 497.5 92.8C496.3 93.8 494.4 94.4 493.1 95.3C491.7 96.2 490.6 97.0 489.5 98.2C488.4 99.3 487.1 101.0 486.3 102.2C485.4 103.3 485.5 103.1 484.5 105.0C483.4 106.9 481.6 110.6 480.0 113.6C478.5 116.6 476.9 119.8 475.3 123.0C473.8 126.1 472.2 129.2 470.6 132.3C469.1 135.4 466.8 138.9 465.9 141.6C465.0 144.2 465.7 146.4 465.3 148.1C464.8 149.9 463.9 150.7 463.2 152.0C462.5 153.3 461.6 154.6 461.0 155.8C460.5 157.0 459.8 158.2 459.8 159.2C459.9 160.2 460.6 161.2 461.4 161.7C462.1 162.2 463.3 162.6 464.3 162.3C465.2 162.0 466.1 161.0 467.0 160.0C468.0 158.9 469.1 157.4 470.1 156.1C471.2 154.8 471.8 153.5 473.4 152.4C475.0 151.2 477.6 151.1 479.6 149.1C481.6 147.1 483.5 143.2 485.4 140.3C487.3 137.4 489.2 134.4 491.2 131.5C493.1 128.6 495.1 125.5 496.9 122.7C498.8 119.9 501.1 116.4 502.2 114.5C503.4 112.7 503.2 112.8 503.8 111.5C504.4 110.2 505.3 108.2 505.7 106.7C506.1 105.1 506.3 103.7 506.4 102.1C506.6 100.5 506.2 98.5 506.4 97.0C506.6 95.5 507.0 94.1 507.7 93.0C508.5 91.8 509.9 90.6 511.2 90.0C512.4 89.4 514.0 89.2 515.4 89.3C516.7 89.4 518.0 89.9 519.1 90.6C520.2 91.3 521.2 92.4 521.8 93.5C522.4 94.7 522.8 96.3 522.8 97.7C522.7 99.1 522.2 100.8 521.4 102.0C520.7 103.2 519.6 104.0 518.2 104.8C516.9 105.6 515.0 106.0 513.5 106.8C512.1 107.5 510.9 108.2 509.6 109.2C508.3 110.3 506.9 111.8 505.9 112.9C504.9 113.9 505.0 113.7 503.7 115.5C502.5 117.3 500.2 120.8 498.3 123.6C496.4 126.4 494.4 129.5 492.5 132.4C490.6 135.3 488.6 138.2 486.7 141.2C484.7 144.1 482.1 147.3 480.9 149.9C479.7 152.6 480.2 155.3 479.6 157.0C479.0 158.8 478.2 159.4 477.4 160.5C476.7 161.6 475.7 162.7 475.1 163.8C474.4 164.9 473.6 166.2 473.5 167.2C473.5 168.2 474.1 169.3 474.8 169.9C475.5 170.5 476.8 171.0 477.8 170.8C478.8 170.6 479.8 169.6 480.9 168.7C482.0 167.8 483.1 166.4 484.3 165.3C485.4 164.1 486.1 162.9 487.8 162.0C489.6 161.0 492.4 161.3 494.7 159.5C496.9 157.7 499.1 154.0 501.3 151.2C503.5 148.4 505.7 145.6 507.9 142.8C510.1 140.1 512.4 137.2 514.5 134.5C516.7 131.8 519.3 128.5 520.7 126.7C522.0 124.9 521.8 125.0 522.5 123.7C523.2 122.5 524.3 120.6 524.9 119.0C525.6 117.5 525.9 116.0 526.2 114.4C526.4 112.8 526.3 110.8 526.6 109.3C527.0 107.8 527.4 106.5 528.3 105.4C529.2 104.3 530.7 103.3 532.0 102.8C533.3 102.3 534.9 102.2 536.2 102.4C537.5 102.7 538.8 103.3 539.8 104.1C540.8 104.9 541.7 106.0 542.2 107.2C542.7 108.4 543.0 110.0 542.9 111.4C542.7 112.8 542.0 114.5 541.1 115.6C540.3 116.7 539.1 117.4 537.7 118.1C536.3 118.8 534.3 119.1 532.8 119.7C531.3 120.4 530.0 121.0 528.6 121.9C527.2 122.9 525.6 124.3 524.5 125.3C523.4 126.3 523.5 126.1 522.1 127.8C520.6 129.5 518.0 132.8 515.8 135.5C513.7 138.2 511.4 141.1 509.2 143.8C506.9 146.6 504.7 149.4 502.5 152.1C500.3 154.9 497.3 158.0 495.8 160.5C494.4 162.9 494.7 165.4 494.0 167.0C493.3 168.6 492.4 169.1 491.6 170.1C490.8 171.1 489.9 172.0 489.1 173.0C488.4 174.0 487.4 175.1 487.3 176.1C487.2 177.1 487.7 178.3 488.3 178.9C489.0 179.6 490.1 180.1 491.1 180.0C492.1 179.9 493.2 179.0 494.3 178.3C495.4 177.6 496.4 176.5 497.5 175.6C498.6 174.8 499.3 173.8 500.9 173.1C502.6 172.4 505.1 173.0 507.5 171.5C509.9 169.9 512.8 166.4 515.4 163.9C518.1 161.4 520.7 158.9 523.4 156.4C526.0 153.9 528.8 151.3 531.3 148.8C533.9 146.4 537.1 143.4 538.7 141.8C540.3 140.1 540.2 140.2 541.1 139.0C542.0 137.8 543.5 136.0 544.3 134.5C545.2 133.0 545.8 131.6 546.3 130.0C546.9 128.3 547.1 126.2 547.7 124.8C548.3 123.3 548.9 122.1 549.9 121.2C551.0 120.2 552.5 119.4 553.9 119.1C555.3 118.8 556.9 119.0 558.1 119.4C559.4 119.8 560.6 120.6 561.5 121.5C562.3 122.4 563.1 123.7 563.4 125.0C563.7 126.2 563.8 127.8 563.4 129.2C563.0 130.5 562.1 132.1 561.1 133.0C560.1 134.0 558.9 134.5 557.4 135.1C555.9 135.6 553.8 135.7 552.2 136.1C550.5 136.6 549.1 137.1 547.5 137.9C546.0 138.7 544.1 140.0 542.8 140.8C541.6 141.7 541.7 141.5 539.9 143.1C538.2 144.6 535.0 147.6 532.5 150.0C529.9 152.4 527.1 155.0 524.5 157.5C521.8 160.0 519.2 162.5 516.5 165.0C513.8 167.5 510.2 170.3 508.5 172.5C506.8 174.8 507.2 177.2 506.4 178.8C505.6 180.4 504.5 180.9 503.6 182.0C502.6 183.0 501.5 184.0 500.7 185.0C499.8 186.0 498.9 187.1 498.7 188.1C498.5 189.1 499.0 190.2 499.6 190.9C500.2 191.6 501.3 192.2 502.3 192.2C503.3 192.1 504.3 191.3 505.5 190.6C506.8 189.8 508.2 188.5 509.5 187.5C510.9 186.5 511.8 185.4 513.7 184.6C515.5 183.9 517.9 184.3 520.6 182.9C523.2 181.5 526.5 178.5 529.5 176.3C532.4 174.1 535.4 171.9 538.4 169.7C541.3 167.5 544.4 165.3 547.3 163.1C550.1 161.0 553.7 158.4 555.6 157.0C557.4 155.5 557.2 155.6 558.3 154.5C559.4 153.4 561.1 151.7 562.2 150.3C563.3 148.9 564.0 147.6 564.8 146.0C565.6 144.5 566.1 142.4 566.9 141.0C567.7 139.6 568.4 138.5 569.5 137.7C570.6 136.9 572.3 136.3 573.7 136.1C575.1 136.0 576.7 136.4 577.9 136.9C579.1 137.5 580.1 138.4 580.9 139.4C581.7 140.5 582.2 141.8 582.4 143.1C582.6 144.4 582.4 146.0 581.9 147.3C581.4 148.6 580.3 150.0 579.2 150.8C578.0 151.7 576.8 152.0 575.2 152.4C573.7 152.7 571.5 152.6 569.8 152.8C568.1 153.1 566.6 153.5 564.9 154.1C563.3 154.7 561.2 155.8 559.8 156.5C558.4 157.2 558.6 157.1 556.6 158.4C554.7 159.7 551.1 162.4 548.3 164.5C545.4 166.6 542.3 168.8 539.3 171.0C536.3 173.2 533.4 175.4 530.4 177.6C527.4 179.7 523.4 181.9 521.4 184.1C519.4 186.3 519.5 189.1 518.4 190.8C517.3 192.4 516.0 193.0 514.8 194.1C513.6 195.1 512.1 196.2 511.1 197.2C510.0 198.2 509.0 199.1 508.7 200.1C508.4 201.1 508.7 202.4 509.3 203.1C509.8 203.9 510.9 204.7 512.0 204.7C513.0 204.8 514.1 204.2 515.5 203.4C516.9 202.7 518.8 201.3 520.4 200.4C522.1 199.4 523.3 198.1 525.5 197.5C527.6 196.8 530.5 197.5 533.4 196.4C536.3 195.2 539.7 192.5 542.8 190.6C546.0 188.7 549.1 186.7 552.3 184.8C555.4 182.9 558.7 180.9 561.8 179.0C564.8 177.2 568.6 174.9 570.6 173.6C572.5 172.3 572.3 172.4 573.5 171.4C574.7 170.4 576.6 168.9 577.8 167.6C579.0 166.3 579.8 165.0 580.7 163.5C581.7 162.0 582.3 160.0 583.2 158.7C584.2 157.4 585.0 156.4 586.2 155.7C587.4 154.9 589.1 154.5 590.5 154.5C591.9 154.5 593.4 155.0 594.6 155.6C595.7 156.3 596.7 157.3 597.4 158.4C598.0 159.5 598.5 160.8 598.5 162.2C598.6 163.5 598.3 165.0 597.7 166.3C597.0 167.5 595.8 168.8 594.6 169.6C593.4 170.3 592.2 170.6 590.6 170.8C589.0 171.0 586.9 170.6 585.1 170.8C583.4 170.9 581.9 171.1 580.2 171.5C578.5 172.0 576.3 172.9 574.9 173.5C573.4 174.1 573.5 174.0 571.5 175.1C569.4 176.3 565.7 178.6 562.6 180.4C559.5 182.3 556.3 184.3 553.1 186.2C550.0 188.1 546.8 190.0 543.6 191.9C540.5 193.8 536.4 195.6 534.1 197.6C531.9 199.6 531.4 202.3 530.0 203.9C528.6 205.5 527.1 206.0 525.6 207.0C524.1 208.1 522.3 209.1 521.1 210.0C519.9 210.9 518.9 211.7 518.5 212.6C518.1 213.6 518.3 214.8 518.8 215.6C519.2 216.4 520.2 217.3 521.2 217.4C522.2 217.6 523.3 217.1 524.8 216.5C526.3 215.9 528.5 214.7 530.4 213.8C532.3 212.9 533.8 211.8 536.1 211.2C538.4 210.7 541.1 211.5 544.2 210.6C547.2 209.6 550.9 207.2 554.3 205.6C557.6 203.9 561.0 202.2 564.4 200.6C567.7 198.9 571.2 197.2 574.4 195.6C577.7 194.0 581.7 192.0 583.8 190.9C586.0 189.7 585.8 189.8 587.1 188.8C588.4 187.9 590.4 186.6 591.8 185.4C593.1 184.1 594.1 183.0 595.2 181.5C596.3 180.1 597.2 178.1 598.3 176.9C599.3 175.7 600.2 174.7 601.4 174.1C602.7 173.5 604.5 173.2 605.8 173.3C607.2 173.4 608.7 174.1 609.8 174.8C610.9 175.6 611.8 176.7 612.3 177.8C612.9 179.0 613.2 180.4 613.2 181.7C613.1 183.0 612.7 184.5 611.9 185.7C611.2 186.9 609.9 188.1 608.6 188.7C607.4 189.4 606.1 189.5 604.5 189.5C602.9 189.6 600.7 189.1 599.0 189.1C597.2 189.1 595.6 189.2 593.8 189.5C592.0 189.9 589.8 190.6 588.2 191.1C586.7 191.6 586.8 191.5 584.6 192.5C582.5 193.5 578.4 195.5 575.2 197.1C571.9 198.6 568.4 200.4 565.1 202.0C561.7 203.7 558.3 205.3 554.9 207.0C551.6 208.6 547.3 210.1 544.8 211.9C542.4 213.7 541.7 216.4 540.1 217.9C538.5 219.3 536.9 219.8 535.3 220.7C533.7 221.5 531.7 222.4 530.4 223.2C529.1 224.0 528.0 224.7 527.5 225.6C527.0 226.5 527.1 227.8 527.5 228.6C527.9 229.4 528.8 230.4 529.8 230.6C530.8 230.9 531.9 230.5 533.5 230.1C535.0 229.7 537.2 228.6 539.1 228.0C541.0 227.3 542.6 226.3 544.9 226.0C547.2 225.7 549.8 227.0 553.0 226.3C556.1 225.6 560.1 223.5 563.7 222.1C567.3 220.7 570.8 219.3 574.4 217.8C578.0 216.4 581.7 215.0 585.1 213.6C588.6 212.3 592.9 210.6 595.1 209.6C597.4 208.7 597.3 208.7 598.7 207.8C600.2 207.0 602.4 205.8 603.9 204.7C605.4 203.6 606.5 202.4 607.8 201.1C609.1 199.8 610.2 197.8 611.4 196.7C612.6 195.5 613.5 194.7 614.8 194.2C616.1 193.7 617.9 193.5 619.2 193.8C620.6 194.0 622.0 194.7 623.0 195.6C624.0 196.4 624.8 197.6 625.3 198.8C625.8 200.0 626.0 201.4 625.8 202.7C625.6 204.0 625.1 205.5 624.3 206.6C623.4 207.7 622.0 208.8 620.7 209.3C619.4 209.8 618.2 209.8 616.5 209.8C614.9 209.7 612.7 209.1 610.9 209.0C609.1 208.8 607.4 208.8 605.6 209.0C603.7 209.2 601.3 209.8 599.6 210.2C598.0 210.6 598.1 210.5 595.8 211.3C593.5 212.1 589.2 213.8 585.7 215.2C582.3 216.5 578.6 217.9 575.0 219.3C571.4 220.7 567.8 222.1 564.3 223.5C560.7 224.9 556.2 226.0 553.5 227.7C550.9 229.4 550.1 232.3 548.4 233.8C546.7 235.2 545.0 235.6 543.3 236.5C541.6 237.3 539.5 238.2 538.1 239.0C536.7 239.8 535.6 240.4 535.1 241.3C534.6 242.2 534.7 243.5 535.0 244.3C535.4 245.2 536.2 246.2 537.2 246.5C538.2 246.8 539.4 246.5 541.0 246.1C542.6 245.6 544.9 244.7 546.9 244.0C548.9 243.4 550.6 242.4 553.0 242.2C555.4 242.0 558.0 243.3 561.3 242.8C564.5 242.3 568.7 240.5 572.4 239.3C576.1 238.1 579.8 237.0 583.5 235.8C587.2 234.6 591.1 233.4 594.7 232.3C598.3 231.2 602.7 229.8 605.1 229.0C607.4 228.2 607.3 228.2 608.8 227.4C610.4 226.7 612.7 225.7 614.3 224.6C615.9 223.6 617.2 222.6 618.6 221.3C620.0 220.1 621.3 218.2 622.6 217.1C623.8 216.1 624.8 215.3 626.1 214.9C627.5 214.5 629.2 214.5 630.6 214.8C632.0 215.1 633.3 216.0 634.2 216.9C635.2 217.8 635.9 219.0 636.3 220.2C636.7 221.4 636.8 222.9 636.5 224.1C636.2 225.4 635.6 226.9 634.7 227.9C633.8 229.0 632.3 229.9 631.0 230.4C629.6 230.8 628.4 230.7 626.8 230.5C625.1 230.4 622.9 229.6 621.1 229.4C619.2 229.1 617.6 229.0 615.7 229.1C613.8 229.1 611.3 229.6 609.6 229.9C607.9 230.1 608.0 230.0 605.6 230.7C603.2 231.4 598.8 232.8 595.2 233.9C591.6 235.0 587.7 236.2 584.0 237.3C580.3 238.5 576.6 239.6 572.9 240.8C569.2 241.9 564.5 242.8 561.7 244.2C558.9 245.7 557.8 248.2 556.0 249.4C554.2 250.6 552.5 250.8 550.8 251.4C549.0 252.0 546.9 252.6 545.4 253.2C544.0 253.8 542.9 254.3 542.2 255.1C541.6 255.9 541.5 257.2 541.8 258.1C542.0 259.0 542.7 260.0 543.7 260.4C544.6 260.8 545.8 260.7 547.4 260.5C549.0 260.3 551.2 259.7 553.1 259.3C555.0 259.0 556.6 258.3 558.9 258.4C561.1 258.5 563.4 260.2 566.6 260.0C569.8 259.9 574.2 258.3 578.0 257.4C581.9 256.5 585.7 255.6 589.5 254.7C593.3 253.9 597.3 253.0 601.0 252.1C604.7 251.2 609.3 250.2 611.7 249.6C614.1 248.9 614.0 248.9 615.6 248.3C617.2 247.7 619.7 246.8 621.4 245.9C623.1 245.0 624.5 244.1 626.0 242.9C627.5 241.8 629.0 240.0 630.4 239.0C631.7 238.1 632.7 237.4 634.1 237.1C635.4 236.8 637.2 236.9 638.5 237.3C639.8 237.7 641.1 238.7 642.0 239.7C642.9 240.6 643.5 241.9 643.8 243.2C644.1 244.4 644.1 245.8 643.7 247.1C643.3 248.3 642.6 249.7 641.6 250.7C640.6 251.7 639.0 252.5 637.7 252.9C636.3 253.2 635.1 253.0 633.5 252.7C631.8 252.4 629.7 251.5 627.8 251.1C626.0 250.7 624.4 250.5 622.4 250.4C620.5 250.4 617.9 250.6 616.2 250.8C614.5 250.9 614.6 250.8 612.1 251.3C609.6 251.8 605.0 252.9 601.3 253.7C597.6 254.5 593.7 255.4 589.9 256.3C586.0 257.2 582.2 258.0 578.4 258.9C574.6 259.8 569.8 260.3 566.9 261.5C564.0 262.7 562.7 265.1 560.8 266.2C558.9 267.2 557.3 267.1 555.6 267.6C553.8 268.0 551.7 268.3 550.3 268.8C548.8 269.2 547.6 269.6 546.8 270.4C546.1 271.1 545.9 272.4 546.1 273.3C546.2 274.3 546.8 275.4 547.7 275.9C548.6 276.4 549.8 276.4 551.5 276.4C553.2 276.3 555.6 275.9 557.7 275.7C559.8 275.6 561.6 275.0 564.0 275.3C566.3 275.7 568.6 277.6 571.9 277.8C575.2 277.9 579.8 276.6 583.7 276.0C587.7 275.5 591.7 274.9 595.6 274.3C599.6 273.7 603.6 273.2 607.5 272.6C611.3 272.0 616.0 271.4 618.6 270.9C621.1 270.5 621.0 270.5 622.7 270.0C624.4 269.5 627.0 268.8 628.8 268.0C630.7 267.3 632.2 266.4 633.8 265.4C635.4 264.4 637.2 262.8 638.7 261.9C640.1 261.0 641.1 260.4 642.5 260.2C643.9 260.1 645.6 260.3 646.9 260.9C648.2 261.4 649.4 262.4 650.2 263.5C651.0 264.5 651.5 265.9 651.7 267.1C651.8 268.4 651.7 269.8 651.3 271.0C650.8 272.2 649.9 273.6 648.9 274.4C647.8 275.3 646.2 276.0 644.8 276.3C643.4 276.5 642.3 276.2 640.6 275.8C639.0 275.3 636.9 274.3 635.0 273.7C633.1 273.2 631.5 272.8 629.5 272.6C627.5 272.4 624.8 272.5 623.1 272.5C621.3 272.5 621.4 272.4 618.8 272.7C616.3 273.0 611.5 273.7 607.7 274.2C603.9 274.8 599.8 275.3 595.8 275.9C591.9 276.5 587.9 277.0 584.0 277.6C580.0 278.1 575.2 278.2 572.1 279.2C569.0 280.3 567.3 283.0 565.4 283.9C563.4 284.8 562.1 284.6 560.5 284.9C558.9 285.2 557.0 285.3 555.6 285.6C554.1 286.0 552.6 286.2 551.8 287.0C551.0 287.7 550.7 289.0 550.8 290.0C550.8 291.0 551.4 292.3 552.3 292.9C553.2 293.5 554.5 293.5 556.2 293.7C557.9 293.8 560.4 293.5 562.6 293.6C564.7 293.6 566.6 293.1 569.0 293.7C571.3 294.3 573.6 296.9 576.9 297.3C580.2 297.6 584.9 296.3 588.9 295.8C592.8 295.3 596.8 294.8 600.8 294.3C604.8 293.8 608.9 293.2 612.7 292.8C616.6 292.3 621.4 291.7 623.9 291.3C626.5 290.9 626.4 290.9 628.1 290.4C629.9 290.0 632.5 289.3 634.4 288.6C636.2 287.9 637.7 287.1 639.4 286.1C641.1 285.1 642.9 283.5 644.4 282.6C645.8 281.8 646.9 281.2 648.2 281.1C649.6 280.9 651.4 281.2 652.6 281.8C653.9 282.3 655.1 283.4 655.9 284.4C656.6 285.5 657.1 286.8 657.3 288.1C657.4 289.3 657.3 290.8 656.8 292.0C656.3 293.2 655.4 294.5 654.3 295.4C653.2 296.2 651.6 296.9 650.2 297.1C648.8 297.3 647.7 297.0 646.1 296.5C644.4 296.1 642.3 295.0 640.4 294.4C638.6 293.8 636.9 293.4 634.9 293.2C632.9 292.9 630.2 292.9 628.4 292.9C626.6 292.9 626.7 292.8 624.2 293.1C621.6 293.3 616.8 293.9 612.9 294.4C609.1 294.9 605.0 295.4 601.0 295.8C597.0 296.3 593.0 296.8 589.0 297.3C585.1 297.8 580.3 297.6 577.1 298.7C573.8 299.8 571.6 302.9 569.6 303.9C567.5 304.9 566.3 304.5 564.7 304.8C563.1 305.1 561.3 305.2 559.8 305.5C558.4 305.8 556.8 306.1 555.9 306.9C555.1 307.6 554.7 309.0 554.8 310.0C554.8 311.0 555.4 312.4 556.3 313.0C557.2 313.6 558.6 313.7 560.3 313.9C562.1 314.0 564.5 313.8 566.6 313.9C568.7 313.9 570.4 313.4 572.8 314.1C575.2 314.8 577.6 317.8 580.9 318.3C584.3 318.7 588.9 317.3 592.9 316.8C596.9 316.3 600.9 315.8 604.9 315.3C608.9 314.8 613.0 314.2 616.9 313.8C620.8 313.3 625.6 312.7 628.2 312.3C630.8 311.9 630.6 311.9 632.4 311.4C634.1 311.0 636.8 310.3 638.7 309.6C640.6 308.9 642.1 308.1 643.8 307.1C645.5 306.1 647.3 304.5 648.8 303.6C650.3 302.8 651.3 302.2 652.7 302.1C654.0 301.9 655.8 302.2 657.1 302.8C658.3 303.3 659.5 304.4 660.3 305.4C661.0 306.5 661.5 307.8 661.7 309.1C661.8 310.3 661.7 311.8 661.2 313.0C660.7 314.2 659.8 315.5 658.7 316.4C657.6 317.2 656.0 317.9 654.6 318.1C653.2 318.3 652.1 318.0 650.5 317.5C648.8 317.1 646.7 315.9 644.8 315.4C642.9 314.8 641.3 314.4 639.2 314.2C637.2 313.9 634.5 313.9 632.7 313.9C630.9 313.9 631.0 313.8 628.4 314.1C625.8 314.3 621.0 314.9 617.1 315.4C613.2 315.9 609.1 316.4 605.1 316.8C601.1 317.3 597.1 317.8 593.1 318.3C589.1 318.8 583.8 319.0 581.1 319.7C578.4 320.4 579.2 321.6 577.0 322.5C574.8 323.4 570.7 324.2 568.0 325.0C565.3 325.8 562.5 326.5 561.0 327.5C559.5 328.5 558.7 329.9 559.0 331.0C559.3 332.1 560.8 333.2 563.0 334.0C565.2 334.8 568.3 335.2 572.0 335.6C575.7 336.0 580.3 336.4 585.0 336.6C589.7 336.8 594.2 337.4 600.0 337.0C605.8 336.6 613.3 335.6 620.0 334.3C626.7 333.1 634.7 331.0 640.0 329.5C645.3 328.0 649.0 326.5 652.0 325.5C655.0 324.5 656.2 323.5 658.0 323.3C659.8 323.1 661.2 323.4 662.5 324.2C663.8 325.0 665.1 326.4 665.6 328.0C666.1 329.6 666.2 331.8 665.8 333.5C665.4 335.2 664.3 336.9 663.0 338.0C661.7 339.1 658.8 339.9 658.0 340.3" fill="none" stroke="#000" stroke-width="1.80" stroke-linecap="round" stroke-linejoin="round"/>
<path d="M390.3 607.5C390.1 606.8 389.2 604.6 389.3 603.0C389.4 601.4 390.8 599.7 391.0 598.0C391.2 596.3 390.4 594.7 390.5 593.0C390.6 591.3 391.2 589.0 391.3 588.0C391.4 587.0 391.4 589.3 391.2 587.1C391.0 584.9 390.6 579.1 390.2 575.0C389.9 571.0 389.6 567.0 389.3 563.0C389.0 559.0 388.6 554.8 388.3 550.9C388.0 547.0 387.6 541.9 387.5 539.6C387.4 537.3 387.8 538.1 387.6 537.0C387.4 535.9 386.9 534.3 386.3 533.2C385.8 532.0 385.2 531.1 384.4 530.0C383.6 529.0 382.3 528.1 381.7 527.0C381.0 525.9 380.5 524.7 380.4 523.5C380.4 522.2 380.7 520.7 381.2 519.6C381.8 518.5 382.8 517.5 383.8 516.8C384.7 516.2 385.9 515.8 387.1 515.7C388.2 515.7 389.4 515.8 390.5 516.3C391.5 516.8 392.7 517.6 393.4 518.7C394.1 519.7 394.7 521.1 394.8 522.4C394.9 523.6 394.6 524.9 394.1 526.0C393.6 527.2 392.5 528.3 391.9 529.5C391.2 530.6 390.8 531.6 390.4 532.9C390.1 534.1 389.8 535.7 389.8 536.8C389.8 537.9 390.0 537.1 390.2 539.4C390.5 541.7 390.8 546.8 391.1 550.7C391.4 554.6 391.7 558.8 392.0 562.8C392.3 566.8 392.6 570.8 392.9 574.8C393.2 578.9 392.8 583.7 393.8 586.9C394.8 590.1 397.9 592.0 398.9 594.0C399.9 595.9 399.5 597.0 399.7 598.5C400.0 600.1 400.1 601.9 400.4 603.1C400.6 604.4 400.8 605.4 401.4 606.1C402.0 606.7 403.1 607.0 403.8 606.9C404.6 606.9 405.6 606.4 406.1 605.7C406.6 605.0 406.6 604.0 406.7 602.7C406.8 601.3 406.6 599.2 406.6 597.5C406.6 595.8 406.1 594.5 406.7 592.3C407.4 590.2 410.2 587.9 410.8 584.6C411.3 581.3 410.2 576.6 409.9 572.5C409.6 568.5 409.3 564.5 409.0 560.5C408.7 556.5 408.4 552.3 408.1 548.4C407.8 544.5 407.5 539.4 407.3 537.1C407.2 534.8 407.6 535.6 407.4 534.5C407.2 533.4 406.7 531.8 406.2 530.7C405.7 529.5 405.1 528.6 404.3 527.5C403.5 526.5 402.2 525.6 401.6 524.5C400.9 523.4 400.4 522.2 400.4 520.9C400.3 519.7 400.6 518.2 401.2 517.1C401.8 516.0 402.8 515.0 403.7 514.3C404.7 513.7 405.9 513.3 407.1 513.2C408.2 513.2 409.4 513.4 410.5 513.9C411.5 514.3 412.7 515.2 413.4 516.2C414.1 517.2 414.6 518.7 414.7 519.9C414.8 521.2 414.5 522.4 414.0 523.6C413.5 524.8 412.4 525.9 411.8 527.0C411.2 528.1 410.7 529.1 410.3 530.4C410.0 531.6 409.7 533.2 409.7 534.3C409.6 535.4 409.9 534.6 410.1 536.9C410.3 539.2 410.7 544.3 410.9 548.2C411.2 552.1 411.5 556.3 411.7 560.3C412.0 564.3 412.3 568.3 412.5 572.3C412.8 576.4 412.4 581.2 413.4 584.4C414.3 587.6 417.4 589.5 418.4 591.5C419.4 593.4 419.0 594.7 419.2 596.3C419.4 597.9 419.6 599.8 419.8 601.1C420.1 602.4 420.3 603.4 420.9 604.1C421.4 604.7 422.5 605.0 423.3 605.0C424.0 604.9 425.0 604.5 425.5 603.8C426.0 603.1 426.1 602.0 426.2 600.7C426.3 599.4 426.1 597.4 426.1 595.7C426.1 594.1 425.6 592.9 426.3 590.8C427.0 588.6 429.8 586.4 430.3 583.1C430.9 579.8 429.8 575.0 429.5 571.0C429.2 567.0 429.0 563.0 428.7 559.0C428.4 554.9 428.1 550.8 427.9 546.9C427.6 543.0 427.3 537.9 427.2 535.6C427.1 533.3 427.5 534.1 427.3 533.0C427.1 531.9 426.6 530.3 426.1 529.1C425.6 528.0 425.0 527.0 424.2 526.0C423.4 525.0 422.2 524.0 421.5 522.9C420.9 521.8 420.4 520.6 420.3 519.4C420.3 518.2 420.6 516.6 421.2 515.5C421.7 514.4 422.7 513.4 423.7 512.8C424.7 512.2 425.9 511.8 427.0 511.7C428.2 511.7 429.4 511.9 430.5 512.4C431.5 512.9 432.7 513.7 433.4 514.7C434.1 515.8 434.6 517.2 434.7 518.5C434.8 519.7 434.5 521.0 434.0 522.1C433.5 523.3 432.3 524.4 431.7 525.5C431.1 526.7 430.6 527.7 430.2 528.9C429.8 530.1 429.6 531.8 429.5 532.8C429.5 533.9 429.7 533.1 429.9 535.4C430.1 537.7 430.5 542.8 430.7 546.7C431.0 550.6 431.2 554.8 431.4 558.8C431.7 562.8 431.9 566.8 432.2 570.9C432.4 574.9 432.0 579.7 432.9 582.9C433.9 586.1 436.9 588.0 437.9 590.0C438.9 592.0 438.5 593.3 438.7 594.9C438.9 596.6 439.0 598.6 439.3 599.9C439.6 601.2 439.7 602.2 440.3 602.8C440.9 603.5 441.9 603.8 442.7 603.7C443.5 603.7 444.5 603.2 445.0 602.5C445.4 601.8 445.5 600.8 445.6 599.5C445.7 598.2 445.6 596.2 445.6 594.6C445.6 593.0 445.1 591.8 445.8 589.7C446.5 587.6 449.3 585.4 449.9 582.1C450.4 578.8 449.4 574.0 449.1 570.0C448.9 566.0 448.7 562.0 448.4 558.0C448.2 553.9 447.9 549.8 447.7 545.9C447.4 542.0 447.1 536.9 447.0 534.6C447.0 532.3 447.3 533.1 447.2 532.0C447.0 530.9 446.5 529.3 446.0 528.1C445.5 527.0 444.9 526.0 444.1 525.0C443.4 524.0 442.1 523.0 441.4 521.9C440.8 520.8 440.3 519.6 440.3 518.4C440.2 517.1 440.6 515.6 441.1 514.5C441.7 513.4 442.7 512.4 443.7 511.8C444.7 511.2 445.9 510.8 447.0 510.7C448.2 510.7 449.4 510.9 450.5 511.4C451.5 511.9 452.6 512.8 453.3 513.8C454.0 514.8 454.6 516.3 454.6 517.5C454.7 518.8 454.4 520.0 453.9 521.2C453.4 522.3 452.2 523.4 451.6 524.6C451.0 525.7 450.5 526.7 450.1 527.9C449.7 529.1 449.4 530.8 449.4 531.8C449.3 532.9 449.6 532.1 449.8 534.4C450.0 536.7 450.3 541.8 450.5 545.7C450.7 549.6 450.9 553.8 451.2 557.8C451.4 561.8 451.6 565.8 451.8 569.9C452.0 573.9 451.5 578.7 452.5 581.9C453.4 585.2 456.6 587.2 457.6 589.2C458.5 591.3 458.1 592.5 458.3 594.1C458.6 595.8 458.6 597.7 458.9 599.0C459.2 600.3 459.4 601.4 459.9 602.0C460.5 602.7 461.6 603.0 462.4 603.0C463.2 602.9 464.2 602.5 464.7 601.8C465.2 601.1 465.3 599.9 465.4 598.7C465.5 597.4 465.4 595.6 465.4 594.0C465.5 592.5 464.9 591.5 465.7 589.4C466.4 587.3 469.3 584.9 469.9 581.6C470.5 578.3 469.5 573.5 469.3 569.5C469.1 565.5 468.8 561.5 468.6 557.5C468.4 553.4 468.2 549.3 467.9 545.4C467.7 541.5 467.5 536.4 467.4 534.1C467.3 531.8 467.7 532.5 467.5 531.5C467.3 530.4 466.9 528.8 466.4 527.6C465.9 526.5 465.3 525.5 464.5 524.5C463.8 523.4 462.5 522.5 461.9 521.4C461.2 520.2 460.8 519.0 460.7 517.8C460.7 516.6 461.0 515.0 461.6 513.9C462.2 512.9 463.2 511.9 464.2 511.3C465.2 510.6 466.4 510.3 467.5 510.2C468.7 510.2 469.9 510.4 471.0 510.9C472.0 511.4 473.1 512.3 473.8 513.3C474.5 514.3 475.0 515.8 475.1 517.1C475.2 518.3 474.8 519.5 474.3 520.7C473.8 521.9 472.6 523.0 472.0 524.1C471.4 525.2 470.9 526.2 470.5 527.4C470.1 528.6 469.8 530.3 469.8 531.4C469.7 532.4 470.0 531.6 470.1 533.9C470.3 536.3 470.6 541.4 470.8 545.2C471.0 549.1 471.2 553.3 471.4 557.3C471.6 561.3 471.7 565.4 471.9 569.4C472.1 573.4 471.6 578.2 472.5 581.4C473.4 584.6 476.5 586.5 477.4 588.5C478.4 590.6 477.9 592.0 478.2 593.7C478.4 595.4 478.4 597.5 478.7 598.8C478.9 600.2 479.1 601.2 479.7 601.8C480.2 602.5 481.3 602.8 482.1 602.7C482.8 602.7 483.8 602.3 484.3 601.6C484.8 600.9 484.9 599.8 485.0 598.5C485.1 597.2 485.0 595.4 485.1 593.8C485.1 592.3 484.6 591.2 485.3 589.1C486.1 587.1 488.9 584.8 489.5 581.6C490.1 578.3 489.1 573.5 488.9 569.5C488.7 565.5 488.5 561.5 488.3 557.4C488.1 553.4 487.9 549.3 487.7 545.4C487.5 541.5 487.3 536.4 487.2 534.1C487.2 531.8 487.5 532.5 487.4 531.5C487.2 530.4 486.8 528.8 486.3 527.6C485.8 526.4 485.2 525.5 484.4 524.5C483.7 523.4 482.4 522.4 481.8 521.3C481.2 520.2 480.7 519.0 480.7 517.8C480.6 516.5 481.0 515.0 481.6 513.9C482.2 512.8 483.2 511.9 484.2 511.2C485.2 510.6 486.4 510.3 487.5 510.2C488.7 510.2 489.9 510.4 490.9 510.9C492.0 511.5 493.1 512.3 493.8 513.4C494.5 514.4 495.0 515.9 495.1 517.1C495.1 518.3 494.8 519.6 494.3 520.8C493.7 521.9 492.6 523.0 491.9 524.1C491.3 525.2 490.8 526.2 490.4 527.4C490.0 528.6 489.7 530.3 489.6 531.4C489.6 532.4 489.8 531.6 490.0 533.9C490.2 536.3 490.4 541.4 490.5 545.3C490.7 549.2 490.9 553.3 491.1 557.3C491.2 561.3 491.4 565.4 491.6 569.4C491.7 573.4 491.2 578.2 492.1 581.4C493.0 584.6 496.0 586.5 496.9 588.6C497.9 590.6 497.4 592.0 497.6 593.7C497.8 595.4 497.9 597.5 498.1 598.8C498.4 600.2 498.6 601.1 499.1 601.8C499.7 602.4 500.7 602.8 501.5 602.7C502.3 602.7 503.3 602.3 503.8 601.6C504.3 600.9 504.3 599.9 504.5 598.6C504.6 597.3 504.5 595.4 504.6 593.8C504.6 592.2 504.1 591.1 504.8 589.1C505.6 587.0 508.4 584.8 509.1 581.6C509.7 578.3 508.7 573.5 508.5 569.5C508.4 565.5 508.2 561.5 508.0 557.4C507.9 553.4 507.7 549.3 507.5 545.4C507.4 541.5 507.1 536.4 507.1 534.1C507.1 531.7 507.4 532.5 507.2 531.5C507.1 530.4 506.6 528.8 506.2 527.6C505.7 526.4 505.1 525.5 504.3 524.4C503.6 523.4 502.3 522.4 501.7 521.3C501.1 520.2 500.6 519.0 500.6 517.7C500.6 516.5 501.0 515.0 501.6 513.9C502.2 512.8 503.2 511.8 504.2 511.2C505.2 510.6 506.4 510.3 507.5 510.2C508.7 510.2 509.9 510.4 510.9 511.0C512.0 511.5 513.1 512.4 513.8 513.4C514.4 514.4 514.9 515.9 515.0 517.2C515.1 518.4 514.7 519.6 514.2 520.8C513.7 522.0 512.5 523.0 511.8 524.1C511.2 525.2 510.7 526.2 510.3 527.4C509.9 528.6 509.6 530.3 509.5 531.4C509.4 532.5 509.7 531.6 509.8 534.0C510.0 536.3 510.2 541.4 510.3 545.3C510.5 549.2 510.6 553.3 510.8 557.3C510.9 561.3 511.1 565.4 511.2 569.4C511.4 573.4 510.8 578.2 511.7 581.4C512.5 584.7 515.5 586.6 516.5 588.6C517.4 590.7 516.9 592.0 517.1 593.7C517.3 595.4 517.4 597.5 517.6 598.8C517.8 600.2 518.0 601.1 518.5 601.8C519.1 602.4 520.1 602.8 520.9 602.7C521.7 602.7 522.7 602.3 523.2 601.6C523.7 600.9 523.8 599.9 523.9 598.6C524.1 597.3 524.0 595.4 524.0 593.8C524.1 592.2 523.6 591.1 524.3 589.0C525.1 587.0 528.0 584.8 528.6 581.5C529.2 578.3 528.3 573.5 528.2 569.5C528.0 565.5 527.9 561.4 527.7 557.4C527.6 553.4 527.4 549.3 527.3 545.4C527.2 541.5 527.0 536.4 526.9 534.1C526.9 531.7 527.3 532.5 527.1 531.5C527.0 530.4 526.5 528.8 526.0 527.6C525.6 526.4 525.0 525.5 524.3 524.4C523.5 523.4 522.3 522.4 521.7 521.3C521.0 520.1 520.6 518.9 520.6 517.7C520.6 516.5 520.9 514.9 521.5 513.8C522.1 512.8 523.2 511.8 524.2 511.2C525.2 510.6 526.4 510.3 527.5 510.2C528.7 510.2 529.9 510.4 530.9 511.0C532.0 511.5 533.1 512.4 533.7 513.4C534.4 514.5 534.9 516.0 535.0 517.2C535.0 518.4 534.7 519.7 534.1 520.8C533.6 522.0 532.4 523.1 531.7 524.2C531.1 525.3 530.6 526.3 530.2 527.5C529.8 528.7 529.4 530.3 529.4 531.4C529.3 532.5 529.6 531.6 529.7 534.0C529.8 536.3 530.0 541.4 530.1 545.3C530.2 549.2 530.4 553.3 530.5 557.3C530.6 561.4 530.7 565.4 530.8 569.4C531.0 573.4 530.4 578.2 531.2 581.5C532.1 584.7 535.1 586.6 536.0 588.7C536.9 590.7 536.4 592.0 536.6 593.7C536.8 595.4 536.8 597.5 537.1 598.8C537.3 600.1 537.4 601.1 538.0 601.8C538.5 602.4 539.6 602.8 540.3 602.7C541.1 602.7 542.1 602.3 542.6 601.6C543.1 600.9 543.2 599.9 543.4 598.6C543.5 597.3 543.4 595.4 543.5 593.8C543.6 592.2 543.1 591.1 543.9 589.0C544.6 587.0 547.5 584.8 548.2 581.5C548.8 578.3 547.9 573.5 547.8 569.5C547.7 565.5 547.6 561.4 547.4 557.4C547.3 553.4 547.2 549.3 547.1 545.4C547.0 541.5 546.8 536.4 546.8 534.0C546.8 531.7 547.1 532.5 547.0 531.4C546.8 530.4 546.4 528.8 545.9 527.6C545.5 526.4 544.9 525.5 544.2 524.4C543.4 523.3 542.2 522.3 541.6 521.2C541.0 520.1 540.5 518.9 540.5 517.6C540.5 516.4 540.9 514.9 541.5 513.8C542.1 512.7 543.2 511.8 544.2 511.2C545.2 510.6 546.4 510.3 547.5 510.2C548.6 510.2 549.9 510.5 550.9 511.0C552.0 511.5 553.1 512.4 553.7 513.5C554.4 514.5 554.9 516.0 554.9 517.3C555.0 518.5 554.6 519.7 554.0 520.9C553.5 522.0 552.3 523.1 551.6 524.2C551.0 525.3 550.5 526.3 550.1 527.5C549.6 528.7 549.3 530.3 549.2 531.4C549.1 532.5 549.4 531.7 549.5 534.0C549.7 536.3 549.8 541.4 549.9 545.3C550.0 549.2 550.1 553.3 550.2 557.3C550.3 561.4 550.4 565.4 550.5 569.4C550.6 573.4 549.9 578.2 550.8 581.5C551.6 584.7 554.6 586.6 555.5 588.7C556.4 590.8 555.9 592.1 556.1 593.8C556.3 595.5 556.3 597.5 556.5 598.9C556.7 600.2 556.9 601.2 557.4 601.9C558.0 602.5 559.0 602.9 559.8 602.8C560.5 602.8 561.6 602.4 562.1 601.8C562.6 601.1 562.7 600.0 562.8 598.7C563.0 597.4 562.9 595.6 563.0 594.0C563.1 592.4 562.6 591.2 563.4 589.2C564.2 587.1 567.1 585.0 567.7 581.7C568.4 578.5 567.5 573.7 567.4 569.7C567.3 565.6 567.2 561.6 567.1 557.6C567.0 553.6 566.9 549.4 566.8 545.5C566.8 541.7 566.6 536.6 566.6 534.2C566.6 531.9 567.0 532.7 566.8 531.6C566.7 530.6 566.3 529.0 565.8 527.8C565.4 526.6 564.8 525.6 564.1 524.6C563.4 523.5 562.1 522.5 561.5 521.4C560.9 520.3 560.5 519.0 560.5 517.8C560.5 516.6 560.9 515.0 561.5 514.0C562.1 512.9 563.1 511.9 564.2 511.4C565.2 510.8 566.4 510.5 567.5 510.4C568.6 510.4 569.9 510.7 570.9 511.2C571.9 511.8 573.0 512.7 573.7 513.7C574.4 514.7 574.8 516.3 574.9 517.5C574.9 518.7 574.5 520.0 574.0 521.1C573.4 522.3 572.2 523.3 571.6 524.4C570.9 525.5 570.4 526.5 569.9 527.7C569.5 528.9 569.2 530.5 569.1 531.6C569.0 532.7 569.3 531.9 569.4 534.2C569.5 536.5 569.6 541.6 569.7 545.5C569.8 549.4 569.8 553.5 569.9 557.6C570.0 561.6 570.0 565.6 570.1 569.6C570.2 573.6 569.5 578.5 570.3 581.7C571.1 584.9 574.0 586.7 574.8 588.7C575.7 590.8 575.3 592.2 575.4 594.0C575.6 595.7 575.6 597.9 575.8 599.2C576.0 600.6 576.1 601.5 576.7 602.1C577.2 602.8 578.2 603.1 578.9 603.1C579.7 603.1 580.7 602.7 581.2 602.0C581.7 601.4 581.8 600.4 582.0 599.1C582.1 597.8 582.1 595.8 582.1 594.2C582.2 592.5 581.8 591.2 582.5 589.2C583.3 587.2 586.1 585.2 586.8 582.0C587.5 578.8 586.6 574.0 586.6 570.0C586.5 565.9 586.4 561.9 586.3 557.9C586.3 553.9 586.2 549.7 586.1 545.8C586.1 541.9 586.0 536.8 586.0 534.5C586.0 532.2 586.3 533.0 586.2 531.9C586.1 530.9 585.7 529.2 585.2 528.1C584.8 526.9 584.2 525.9 583.5 524.8C582.8 523.8 581.5 522.8 580.9 521.6C580.3 520.5 579.9 519.3 579.9 518.1C579.9 516.8 580.3 515.3 581.0 514.2C581.6 513.2 582.6 512.2 583.6 511.6C584.7 511.1 585.9 510.8 587.0 510.7C588.1 510.7 589.4 511.0 590.4 511.5C591.4 512.1 592.5 513.0 593.2 514.0C593.8 515.1 594.3 516.6 594.3 517.8C594.4 519.1 594.0 520.3 593.4 521.5C592.9 522.6 591.6 523.6 591.0 524.7C590.3 525.8 589.7 526.8 589.3 528.0C588.9 529.2 588.6 530.8 588.5 531.9C588.4 533.0 588.7 532.2 588.7 534.5C588.8 536.8 588.9 541.9 589.0 545.8C589.0 549.7 589.1 553.8 589.1 557.9C589.1 561.9 589.2 565.9 589.2 569.9C589.3 573.9 588.6 578.8 589.4 582.0C590.2 585.2 593.2 587.2 594.0 589.3C594.9 591.3 594.4 592.6 594.6 594.3C594.7 596.0 594.7 598.1 594.9 599.4C595.1 600.7 595.3 601.7 595.8 602.4C596.3 603.1 597.3 603.4 598.1 603.4C598.9 603.4 599.9 603.0 600.4 602.3C601.0 601.7 601.1 600.6 601.2 599.3C601.4 598.0 601.4 596.1 601.5 594.5C601.6 592.9 601.1 591.7 601.9 589.7C602.7 587.7 605.6 585.6 606.3 582.3C607.1 579.1 606.2 574.3 606.2 570.3C606.2 566.2 606.1 562.2 606.1 558.2C606.0 554.2 605.9 550.0 605.9 546.1C605.9 542.2 605.8 537.1 605.8 534.8C605.9 532.5 606.2 533.3 606.1 532.2C606.0 531.1 605.6 529.5 605.1 528.3C604.7 527.2 604.1 526.2 603.4 525.1C602.7 524.0 601.5 523.0 600.9 521.9C600.3 520.8 599.9 519.6 599.9 518.3C599.9 517.1 600.3 515.6 600.9 514.5C601.6 513.4 602.6 512.5 603.6 511.9C604.6 511.3 605.9 511.1 607.0 511.0C608.1 511.0 609.4 511.3 610.4 511.9C611.4 512.4 612.5 513.3 613.1 514.4C613.8 515.4 614.2 516.9 614.3 518.2C614.3 519.4 613.9 520.6 613.3 521.8C612.8 522.9 611.6 524.0 610.9 525.1C610.2 526.1 609.6 527.1 609.2 528.3C608.8 529.5 608.4 531.1 608.3 532.2C608.2 533.3 608.5 532.5 608.6 534.8C608.7 537.1 608.7 542.2 608.7 546.1C608.8 550.0 608.8 554.1 608.8 558.2C608.8 562.2 608.9 566.2 608.9 570.2C608.9 574.2 608.2 579.1 608.9 582.3C609.7 585.5 612.6 587.4 613.4 589.4C614.2 591.5 613.8 592.9 613.9 594.7C614.0 596.4 614.0 598.6 614.2 600.0C614.4 601.3 614.5 602.2 615.1 602.9C615.6 603.6 616.6 603.9 617.4 603.9C618.1 603.9 619.1 603.5 619.6 602.9C620.1 602.2 620.3 601.2 620.4 599.9C620.6 598.6 620.6 596.7 620.7 595.1C620.8 593.4 620.3 592.2 621.1 590.2C621.9 588.2 624.8 586.2 625.5 583.0C626.2 579.8 625.5 575.0 625.4 570.9C625.4 566.9 625.4 562.9 625.4 558.9C625.3 554.9 625.3 550.7 625.3 546.8C625.3 542.9 625.3 537.8 625.3 535.5C625.3 533.2 625.7 534.0 625.5 532.9C625.4 531.8 625.0 530.2 624.6 529.0C624.2 527.8 623.6 526.9 622.9 525.8C622.2 524.7 621.0 523.7 620.4 522.6C619.8 521.4 619.4 520.2 619.4 519.0C619.4 517.7 619.9 516.2 620.5 515.2C621.1 514.1 622.2 513.2 623.2 512.6C624.2 512.0 625.5 511.8 626.6 511.7C627.7 511.7 629.0 512.0 630.0 512.6C631.0 513.1 632.1 514.1 632.7 515.1C633.4 516.2 633.8 517.7 633.8 518.9C633.8 520.2 633.4 521.4 632.9 522.5C632.3 523.7 631.1 524.7 630.4 525.8C629.7 526.9 629.1 527.8 628.7 529.0C628.3 530.2 627.9 531.8 627.8 532.9C627.7 534.0 628.0 533.2 628.0 535.5C628.1 537.8 628.1 542.9 628.1 546.8C628.1 550.7 628.1 554.9 628.1 558.9C628.1 562.9 628.1 566.9 628.1 570.9C628.1 575.0 627.3 579.7 628.1 583.0C628.9 586.3 631.9 588.4 632.8 590.5C633.6 592.6 633.1 593.9 633.3 595.6C633.4 597.3 633.4 599.3 633.6 600.6C633.7 602.0 633.9 603.0 634.4 603.7C634.9 604.4 636.0 604.7 636.8 604.7C637.6 604.8 638.6 604.4 639.2 603.7C639.7 603.0 639.8 601.9 640.0 600.6C640.2 599.4 640.2 597.6 640.3 596.1C640.4 594.6 639.9 593.5 640.8 591.5C641.7 589.5 644.7 587.3 645.5 584.0C646.2 580.7 645.5 576.0 645.5 571.9C645.5 567.9 645.5 563.9 645.5 559.9C645.5 555.9 645.5 551.7 645.5 547.8C645.5 543.9 645.5 538.8 645.5 536.5C645.6 534.2 645.9 535.0 645.8 533.9C645.7 532.8 645.3 531.2 644.9 530.0C644.5 528.8 643.9 527.9 643.2 526.8C642.5 525.7 641.3 524.7 640.7 523.5C640.2 522.4 639.7 521.2 639.8 519.9C639.8 518.7 640.2 517.2 640.9 516.1C641.5 515.1 642.6 514.1 643.6 513.6C644.6 513.0 645.9 512.7 647.0 512.7C648.1 512.8 649.4 513.0 650.4 513.6C651.4 514.2 652.5 515.1 653.1 516.2C653.7 517.2 654.2 518.7 654.2 520.0C654.2 521.2 653.8 522.4 653.2 523.6C652.6 524.7 651.4 525.7 650.7 526.8C650.0 527.9 649.4 528.9 649.0 530.0C648.6 531.2 648.2 532.8 648.1 533.9C647.9 535.0 648.3 534.2 648.3 536.5C648.3 538.8 648.3 543.9 648.3 547.8C648.3 551.7 648.2 555.9 648.2 559.9C648.2 563.9 648.2 567.9 648.1 571.9C648.1 576.0 647.4 580.8 648.1 584.0C648.8 587.2 651.6 589.0 652.4 591.1C653.2 593.2 652.7 594.8 652.8 596.6C653.0 598.4 652.9 600.6 653.1 602.0C653.3 603.4 653.4 604.3 653.9 605.0C654.4 605.6 655.4 606.0 656.2 606.0C656.9 606.0 657.9 605.7 658.4 605.0C659.0 604.4 659.1 603.4 659.3 602.1C659.5 600.8 659.5 598.9 659.6 597.3C659.7 595.7 659.3 594.5 660.1 592.6C660.9 590.6 663.8 588.7 664.5 585.5C665.3 582.3 664.6 577.4 664.6 573.4C664.6 569.4 664.6 565.4 664.7 561.4C664.7 557.3 664.7 553.2 664.8 549.3C664.8 545.4 664.8 540.3 664.9 538.0C665.0 535.7 665.3 536.5 665.2 535.4C665.1 534.3 664.7 532.7 664.3 531.5C663.8 530.3 663.3 529.3 662.6 528.3C661.9 527.2 660.7 526.1 660.2 525.0C659.6 523.8 659.2 522.6 659.2 521.4C659.3 520.1 659.7 518.6 660.4 517.6C661.0 516.5 662.1 515.6 663.1 515.1C664.1 514.5 665.4 514.2 666.5 514.2C667.6 514.3 668.9 514.6 669.9 515.1C670.9 515.7 671.9 516.6 672.6 517.7C673.2 518.8 673.6 520.3 673.6 521.5C673.6 522.8 673.2 524.0 672.6 525.1C672.0 526.2 670.8 527.3 670.1 528.3C669.4 529.4 668.8 530.4 668.4 531.5C667.9 532.7 667.5 534.3 667.4 535.4C667.3 536.5 667.6 535.7 667.6 538.0C667.7 540.3 667.6 545.4 667.6 549.3C667.5 553.2 667.5 557.4 667.4 561.4C667.4 565.4 667.3 569.4 667.3 573.5C667.2 577.5 666.4 582.3 667.1 585.5C667.8 588.7 670.6 590.6 671.4 592.7C672.2 594.8 671.7 596.3 671.8 598.2C671.9 600.0 671.9 602.3 672.0 603.7C672.2 605.1 672.3 605.9 672.8 606.6C673.3 607.3 674.3 607.6 675.1 607.6C675.8 607.7 676.9 607.3 677.4 606.7C677.9 606.0 678.0 605.0 678.2 603.7C678.4 602.5 678.4 600.6 678.6 599.0C678.7 597.5 678.3 596.3 679.1 594.3C679.9 592.4 682.8 590.5 683.6 587.3C684.4 584.1 683.7 579.2 683.7 575.2C683.8 571.2 683.8 567.2 683.9 563.2C683.9 559.1 684.0 555.0 684.0 551.1C684.1 547.2 684.2 542.1 684.2 539.8C684.3 537.5 684.6 538.3 684.5 537.2C684.4 536.1 684.1 534.5 683.7 533.3C683.2 532.1 682.7 531.1 682.0 530.0C681.4 528.9 680.1 527.9 679.6 526.8C679.0 525.6 678.6 524.4 678.7 523.1C678.7 521.9 679.2 520.4 679.8 519.3C680.5 518.3 681.6 517.4 682.6 516.8C683.6 516.3 684.9 516.0 686.0 516.0C687.1 516.1 688.3 516.4 689.4 516.9C690.4 517.5 691.4 518.5 692.0 519.5C692.7 520.6 693.1 522.1 693.1 523.4C693.1 524.6 692.6 525.8 692.1 526.9C691.5 528.1 690.2 529.1 689.5 530.1C688.8 531.2 688.2 532.2 687.8 533.4C687.3 534.5 686.9 536.2 686.8 537.2C686.7 538.3 687.0 537.5 687.0 539.8C687.0 542.1 686.9 547.2 686.9 551.1C686.8 555.0 686.7 559.2 686.6 563.2C686.6 567.2 686.5 571.2 686.4 575.3C686.3 579.3 685.5 584.1 686.2 587.3C686.9 590.6 689.8 592.7 690.6 594.8C691.4 596.9 690.9 598.2 691.0 599.9C691.1 601.6 691.0 603.6 691.2 604.9C691.3 606.3 691.4 607.3 692.0 608.0C692.5 608.7 693.5 609.0 694.3 609.0C695.0 609.1 696.1 608.7 696.6 608.1C697.2 607.4 697.3 606.4 697.5 605.1C697.7 603.8 697.7 601.9 697.9 600.3C698.0 598.7 697.6 597.5 698.5 595.5C699.3 593.5 702.3 591.5 703.1 588.3C704.0 585.0 703.3 580.2 703.4 576.2C703.4 572.2 703.5 568.2 703.6 564.2C703.7 560.1 703.7 556.0 703.8 552.1C703.9 548.2 704.0 543.1 704.1 540.8C704.2 538.5 704.5 539.3 704.4 538.2C704.3 537.1 704.0 535.5 703.6 534.3C703.1 533.1 702.6 532.1 701.9 531.0C701.3 529.9 700.1 528.9 699.5 527.7C699.0 526.6 698.6 525.3 698.6 524.1C698.7 522.9 699.1 521.3 699.8 520.3C700.5 519.3 701.6 518.4 702.6 517.8C703.6 517.3 704.9 517.0 706.0 517.0C707.1 517.1 708.3 517.4 709.3 518.0C710.4 518.6 711.4 519.5 712.0 520.6C712.6 521.6 713.0 523.2 713.0 524.4C713.0 525.6 712.6 526.9 712.0 528.0C711.4 529.1 710.1 530.1 709.4 531.2C708.7 532.2 708.1 533.2 707.7 534.4C707.2 535.6 706.8 537.2 706.6 538.2C706.5 539.3 706.8 538.5 706.8 540.8C706.8 543.2 706.7 548.3 706.6 552.2C706.6 556.0 706.4 560.2 706.3 564.2C706.2 568.2 706.1 572.2 706.0 576.3C705.9 580.3 705.1 585.2 705.7 588.3C706.4 591.5 709.1 593.2 709.8 595.3C710.5 597.4 710.1 599.2 710.1 601.1C710.2 603.0 710.1 605.4 710.3 606.9C710.4 608.3 710.5 609.1 711.0 609.8C711.5 610.4 712.5 610.8 713.2 610.8C713.9 610.8 714.9 610.5 715.4 609.9C716.0 609.2 716.1 608.3 716.3 607.0C716.5 605.7 716.6 603.8 716.7 602.3C716.9 600.7 716.5 599.5 717.3 597.5C718.1 595.6 720.9 593.9 721.7 590.8C722.5 587.6 721.9 582.7 722.0 578.7C722.1 574.7 722.2 570.7 722.3 566.6C722.4 562.6 722.5 558.5 722.6 554.6C722.7 550.7 722.8 545.6 722.9 543.3C723.1 541.0 723.4 541.8 723.3 540.7C723.2 539.6 722.8 538.0 722.4 536.8C722.0 535.6 721.5 534.6 720.8 533.5C720.2 532.4 719.0 531.3 718.4 530.2C717.9 529.0 717.5 527.8 717.6 526.5C717.6 525.3 718.1 523.8 718.8 522.8C719.4 521.7 720.5 520.8 721.6 520.3C722.6 519.8 723.9 519.5 725.0 519.5C726.1 519.6 727.3 519.9 728.3 520.5C729.3 521.1 730.4 522.0 731.0 523.1C731.6 524.2 732.0 525.7 732.0 526.9C732.0 528.2 731.5 529.4 730.9 530.5C730.3 531.6 729.1 532.6 728.3 533.7C727.6 534.8 727.0 535.7 726.6 536.9C726.1 538.1 725.7 539.7 725.5 540.7C725.4 541.8 725.7 541.0 725.7 543.3C725.7 545.7 725.5 550.8 725.4 554.7C725.3 558.6 725.2 562.7 725.0 566.7C724.9 570.7 724.8 574.8 724.7 578.8C724.5 582.8 724.1 588.5 724.3 590.8C724.5 593.2 725.3 591.8 725.8 593.0C726.3 594.2 727.0 596.3 727.5 598.0C728.0 599.7 728.5 601.4 729.0 603.0C729.5 604.6 730.2 606.3 730.8 607.5C731.4 608.7 732.2 609.8 732.5 610.3" fill="none" stroke="#000" stroke-width="1.80" stroke-linecap="round" stroke-linejoin="round"/>
<path d="M446.0 743.5C446.2 743.1 446.7 742.1 447.0 741.0C447.3 739.9 447.3 738.7 447.6 737.0C447.9 735.3 448.4 733.0 449.0 731.0C449.6 729.0 450.6 726.8 451.3 725.0C452.0 723.2 452.7 721.3 453.0 720.0C453.3 718.7 452.8 719.3 452.8 717.0C452.8 714.7 452.7 710.0 452.7 706.5C452.7 702.9 452.6 699.4 452.6 695.9C452.6 692.4 452.5 688.7 452.5 685.3C452.5 682.0 452.4 677.6 452.5 675.5C452.6 673.5 453.0 673.9 453.0 672.8C452.9 671.6 452.4 669.9 452.0 668.6C451.5 667.4 451.0 666.3 450.3 665.2C449.6 664.0 448.3 662.9 447.7 661.7C447.1 660.5 446.7 659.3 446.7 658.1C446.8 656.8 447.2 655.3 447.8 654.2C448.5 653.1 449.6 652.2 450.6 651.6C451.6 651.0 452.9 650.8 454.0 650.7C455.1 650.7 456.4 651.0 457.4 651.6C458.5 652.2 459.6 653.1 460.2 654.2C460.9 655.2 461.3 656.8 461.3 658.0C461.4 659.3 461.0 660.5 460.4 661.7C459.8 662.9 458.6 664.0 457.9 665.1C457.2 666.3 456.6 667.3 456.2 668.6C455.7 669.9 455.3 671.6 455.2 672.8C455.2 673.9 455.6 673.4 455.7 675.5C455.8 677.6 455.8 681.9 455.8 685.3C455.8 688.7 455.8 692.4 455.8 695.9C455.8 699.4 455.8 702.9 455.8 706.4C455.8 710.0 455.1 713.7 455.8 717.0C456.5 720.2 459.1 723.4 459.9 726.0C460.6 728.6 460.2 730.4 460.4 732.6C460.5 734.8 460.5 737.6 460.7 739.2C460.9 740.8 461.0 741.5 461.5 742.2C462.1 742.8 463.1 743.2 463.8 743.2C464.6 743.2 465.6 742.8 466.2 742.2C466.7 741.5 466.8 740.8 467.0 739.2C467.2 737.5 467.1 734.6 467.2 732.2C467.4 729.9 467.0 728.0 467.7 725.3C468.4 722.7 471.0 719.6 471.7 716.3C472.4 713.0 471.6 709.3 471.6 705.8C471.6 702.2 471.6 698.7 471.5 695.2C471.5 691.7 471.5 688.0 471.5 684.6C471.4 681.3 471.4 676.9 471.5 674.8C471.5 672.7 472.0 673.2 471.9 672.1C471.8 670.9 471.4 669.2 471.0 667.9C470.5 666.7 470.0 665.6 469.3 664.5C468.5 663.3 467.3 662.2 466.7 661.0C466.1 659.8 465.7 658.6 465.7 657.4C465.7 656.1 466.2 654.6 466.8 653.5C467.5 652.4 468.5 651.5 469.6 650.9C470.6 650.3 471.9 650.1 473.0 650.0C474.1 650.0 475.4 650.3 476.4 650.9C477.5 651.5 478.6 652.4 479.2 653.5C479.9 654.5 480.3 656.1 480.3 657.3C480.3 658.6 479.9 659.8 479.4 661.0C478.8 662.2 477.5 663.3 476.8 664.4C476.1 665.6 475.6 666.6 475.1 667.9C474.7 669.2 474.3 670.9 474.2 672.1C474.1 673.2 474.6 672.7 474.7 674.8C474.8 676.9 474.7 681.2 474.8 684.6C474.8 688.0 474.7 691.7 474.7 695.2C474.7 698.7 474.7 702.2 474.7 705.7C474.7 709.3 474.0 713.0 474.7 716.3C475.4 719.6 478.0 722.7 478.7 725.3C479.5 727.9 479.1 729.7 479.2 731.9C479.4 734.2 479.4 737.0 479.6 738.6C479.7 740.2 479.9 740.9 480.4 741.6C480.9 742.2 481.9 742.6 482.7 742.6C483.5 742.6 484.5 742.2 485.0 741.6C485.5 740.9 485.7 740.2 485.9 738.6C486.0 736.9 486.0 734.0 486.1 731.7C486.2 729.4 485.8 727.5 486.6 724.8C487.3 722.2 489.9 719.1 490.6 715.8C491.3 712.5 490.6 708.8 490.5 705.2C490.5 701.7 490.5 698.2 490.5 694.7C490.4 691.2 490.4 687.5 490.4 684.1C490.4 680.8 490.3 676.4 490.4 674.3C490.5 672.2 491.0 672.7 490.9 671.6C490.8 670.4 490.4 668.7 489.9 667.4C489.5 666.2 488.9 665.1 488.2 664.0C487.5 662.8 486.3 661.7 485.7 660.5C485.1 659.3 484.7 658.1 484.7 656.9C484.7 655.6 485.2 654.1 485.8 653.0C486.5 651.9 487.5 651.0 488.6 650.4C489.6 649.8 490.9 649.6 492.0 649.5C493.1 649.5 494.4 649.8 495.4 650.4C496.5 651.0 497.5 651.9 498.2 653.0C498.8 654.0 499.3 655.6 499.3 656.8C499.3 658.1 498.9 659.3 498.3 660.5C497.8 661.7 496.5 662.8 495.8 664.0C495.1 665.1 494.6 666.1 494.1 667.4C493.7 668.7 493.2 670.4 493.2 671.6C493.1 672.7 493.6 672.2 493.7 674.3C493.7 676.4 493.7 680.7 493.7 684.1C493.7 687.5 493.7 691.2 493.7 694.7C493.7 698.2 493.6 701.7 493.6 705.2C493.6 708.8 492.9 712.5 493.6 715.8C494.3 719.1 496.9 722.2 497.6 724.8C498.4 727.4 498.0 729.3 498.1 731.5C498.3 733.7 498.2 736.6 498.4 738.2C498.6 739.8 498.7 740.5 499.3 741.2C499.8 741.8 500.8 742.2 501.6 742.2C502.3 742.2 503.4 741.8 503.9 741.2C504.4 740.5 504.5 739.8 504.7 738.2C504.9 736.5 504.9 733.6 505.0 731.3C505.1 729.1 504.7 727.1 505.5 724.5C506.2 721.9 508.8 718.8 509.5 715.5C510.2 712.2 509.5 708.5 509.4 704.9C509.4 701.4 509.4 697.9 509.4 694.4C509.4 690.9 509.4 687.2 509.4 683.8C509.3 680.4 509.3 676.1 509.4 674.0C509.5 671.9 509.9 672.4 509.9 671.3C509.8 670.1 509.4 668.4 508.9 667.1C508.5 665.9 507.9 664.8 507.2 663.7C506.5 662.5 505.3 661.4 504.7 660.2C504.1 659.0 503.7 657.8 503.7 656.5C503.7 655.3 504.2 653.8 504.8 652.7C505.5 651.6 506.5 650.7 507.6 650.1C508.6 649.5 509.9 649.2 511.0 649.2C512.1 649.2 513.4 649.5 514.4 650.1C515.5 650.7 516.5 651.6 517.2 652.7C517.8 653.8 518.3 655.3 518.3 656.5C518.3 657.8 517.9 659.0 517.3 660.2C516.7 661.4 515.5 662.5 514.8 663.7C514.1 664.8 513.5 665.9 513.1 667.1C512.6 668.4 512.2 670.1 512.1 671.3C512.1 672.4 512.5 671.9 512.6 674.0C512.7 676.1 512.7 680.4 512.6 683.8C512.6 687.2 512.6 690.9 512.6 694.4C512.6 697.9 512.6 701.4 512.5 704.9C512.5 708.5 511.8 712.2 512.5 715.5C513.2 718.8 515.8 721.9 516.5 724.5C517.3 727.1 516.9 729.0 517.0 731.2C517.1 733.4 517.1 736.3 517.3 737.9C517.5 739.5 517.6 740.2 518.1 740.9C518.6 741.5 519.7 741.9 520.4 741.9C521.2 741.9 522.2 741.5 522.7 740.9C523.3 740.2 523.4 739.5 523.6 737.9C523.8 736.2 523.7 733.3 523.9 731.0C524.0 728.8 523.6 726.8 524.4 724.2C525.1 721.6 527.7 718.5 528.4 715.2C529.1 711.9 528.4 708.2 528.4 704.6C528.4 701.1 528.3 697.6 528.3 694.1C528.3 690.6 528.3 686.9 528.3 683.5C528.3 680.1 528.3 675.8 528.3 673.7C528.4 671.6 528.9 672.1 528.8 671.0C528.8 669.8 528.3 668.1 527.9 666.8C527.4 665.5 526.9 664.5 526.2 663.4C525.5 662.2 524.2 661.1 523.7 659.9C523.1 658.7 522.7 657.5 522.7 656.2C522.7 655.0 523.2 653.4 523.8 652.4C524.5 651.3 525.5 650.4 526.6 649.8C527.6 649.2 528.9 648.9 530.0 648.9C531.1 649.0 532.4 649.2 533.4 649.8C534.5 650.4 535.5 651.3 536.2 652.4C536.8 653.5 537.3 655.0 537.3 656.3C537.3 657.5 536.9 658.7 536.3 659.9C535.7 661.1 534.5 662.2 533.8 663.4C533.1 664.5 532.5 665.6 532.1 666.8C531.6 668.1 531.2 669.8 531.1 671.0C531.0 672.1 531.5 671.6 531.6 673.7C531.7 675.8 531.6 680.2 531.6 683.5C531.6 686.9 531.6 690.6 531.5 694.1C531.5 697.6 531.5 701.1 531.5 704.6C531.4 708.2 530.7 711.9 531.4 715.2C532.1 718.5 534.7 721.6 535.4 724.2C536.2 726.8 535.8 728.7 535.9 730.9C536.0 733.2 536.0 736.0 536.2 737.6C536.3 739.2 536.5 739.9 537.0 740.6C537.5 741.3 538.5 741.6 539.3 741.6C540.1 741.7 541.1 741.3 541.6 740.6C542.1 740.0 542.3 739.3 542.4 737.6C542.6 736.0 542.6 733.1 542.8 730.8C542.9 728.5 542.5 726.6 543.3 724.0C544.0 721.3 546.6 718.3 547.3 715.0C548.0 711.7 547.3 708.0 547.3 704.4C547.3 700.9 547.3 697.4 547.3 693.9C547.3 690.4 547.2 686.7 547.2 683.3C547.3 679.9 547.2 675.6 547.3 673.5C547.4 671.4 547.9 671.9 547.8 670.8C547.7 669.6 547.3 667.9 546.9 666.6C546.4 665.3 545.9 664.3 545.2 663.1C544.5 662.0 543.2 660.9 542.6 659.7C542.1 658.5 541.7 657.3 541.7 656.0C541.7 654.8 542.1 653.2 542.8 652.2C543.4 651.1 544.5 650.2 545.6 649.6C546.6 649.0 547.9 648.7 549.0 648.7C550.1 648.8 551.4 649.0 552.4 649.6C553.5 650.2 554.5 651.1 555.2 652.2C555.8 653.3 556.3 654.8 556.3 656.1C556.3 657.3 555.9 658.5 555.3 659.7C554.7 660.9 553.5 662.0 552.7 663.2C552.0 664.3 551.5 665.4 551.0 666.6C550.6 667.9 550.2 669.6 550.1 670.8C550.0 671.9 550.5 671.4 550.5 673.5C550.6 675.6 550.6 680.0 550.5 683.3C550.5 686.7 550.5 690.4 550.5 693.9C550.4 697.4 550.4 700.9 550.4 704.5C550.4 708.0 550.3 712.6 550.3 715.0C550.3 717.4 550.0 717.3 550.3 719.0C550.6 720.7 551.7 723.0 552.3 725.0C552.9 727.0 553.5 729.0 554.0 731.0C554.5 733.0 554.7 735.4 555.0 737.0C555.3 738.6 555.3 739.6 555.6 740.5C555.9 741.4 556.4 742.2 556.6 742.5" fill="none" stroke="#000" stroke-width="1.80" stroke-linecap="round" stroke-linejoin="round"/>
<path d="M586.0 741.5C586.2 741.1 586.7 740.1 587.0 739.0C587.3 737.9 587.3 736.7 587.6 735.0C587.9 733.3 588.3 731.0 588.8 729.0C589.3 727.0 590.0 724.8 590.5 723.0C591.0 721.2 591.6 719.2 591.7 718.0C591.8 716.8 591.4 717.9 591.3 715.8C591.2 713.6 591.2 708.7 591.2 705.2C591.2 701.7 591.1 698.2 591.1 694.7C591.1 691.1 591.0 687.5 591.0 684.1C591.0 680.7 590.9 676.4 591.0 674.3C591.1 672.2 591.5 672.7 591.5 671.5C591.4 670.4 590.9 668.6 590.5 667.4C590.0 666.1 589.5 665.1 588.8 663.9C588.1 662.8 586.8 661.7 586.2 660.5C585.6 659.3 585.2 658.1 585.2 656.8C585.3 655.6 585.7 654.0 586.3 653.0C587.0 651.9 588.1 650.9 589.1 650.4C590.1 649.8 591.4 649.5 592.5 649.5C593.6 649.5 594.9 649.8 595.9 650.3C597.0 650.9 598.1 651.8 598.7 652.9C599.4 654.0 599.8 655.5 599.8 656.8C599.9 658.0 599.5 659.2 598.9 660.4C598.3 661.6 597.1 662.7 596.4 663.9C595.7 665.0 595.1 666.1 594.7 667.4C594.2 668.6 593.8 670.4 593.7 671.5C593.7 672.7 594.1 672.2 594.2 674.3C594.3 676.4 594.3 680.7 594.3 684.1C594.3 687.5 594.3 691.1 594.3 694.6C594.3 698.2 594.3 701.7 594.3 705.2C594.3 708.7 593.6 712.5 594.3 715.7C595.0 719.0 597.5 722.0 598.3 724.6C599.0 727.1 598.6 728.9 598.8 731.1C598.9 733.3 598.9 736.1 599.1 737.7C599.3 739.3 599.4 740.0 599.9 740.7C600.5 741.3 601.5 741.7 602.2 741.7C603.0 741.7 604.0 741.3 604.5 740.6C605.0 740.0 605.1 739.4 605.3 737.7C605.5 736.0 605.5 732.9 605.6 730.5C605.7 728.1 605.3 726.0 606.0 723.4C606.8 720.7 609.3 717.7 610.0 714.5C610.6 711.3 609.9 707.5 609.9 704.0C609.8 700.4 609.8 696.9 609.8 693.4C609.8 689.9 609.7 686.2 609.7 682.8C609.7 679.5 609.6 675.1 609.7 673.0C609.8 670.9 610.3 671.4 610.2 670.3C610.1 669.1 609.7 667.4 609.2 666.1C608.8 664.9 608.2 663.8 607.5 662.7C606.8 661.5 605.6 660.4 605.0 659.2C604.4 658.0 604.0 656.8 604.0 655.6C604.0 654.3 604.4 652.8 605.1 651.7C605.7 650.6 606.8 649.7 607.8 649.1C608.9 648.5 610.1 648.3 611.3 648.2C612.4 648.2 613.6 648.5 614.7 649.1C615.7 649.7 616.8 650.6 617.5 651.7C618.1 652.7 618.5 654.3 618.6 655.5C618.6 656.8 618.2 658.0 617.6 659.2C617.0 660.4 615.8 661.5 615.1 662.6C614.4 663.8 613.8 664.8 613.4 666.1C613.0 667.4 612.5 669.1 612.5 670.3C612.4 671.4 612.8 670.9 612.9 673.0C613.0 675.1 613.0 679.4 613.0 682.8C613.0 686.2 613.0 689.9 613.0 693.4C613.0 696.9 613.0 700.4 613.0 703.9C613.0 707.5 612.3 711.3 612.9 714.5C613.6 717.7 616.2 720.7 616.9 723.3C617.7 725.9 617.3 727.7 617.4 730.0C617.5 732.2 617.5 735.0 617.7 736.6C617.9 738.2 618.0 738.9 618.5 739.5C619.1 740.2 620.1 740.6 620.8 740.5C621.6 740.5 622.6 740.2 623.1 739.5C623.6 738.9 623.8 738.3 623.9 736.6C624.1 734.9 624.1 731.8 624.2 729.5C624.3 727.1 623.9 725.0 624.7 722.3C625.4 719.7 628.0 716.7 628.6 713.5C629.2 710.3 628.6 706.5 628.5 702.9C628.5 699.4 628.5 695.9 628.5 692.4C628.4 688.9 628.4 685.2 628.4 681.8C628.4 678.5 628.3 674.1 628.4 672.0C628.5 669.9 629.0 670.4 628.9 669.3C628.8 668.1 628.4 666.4 627.9 665.1C627.5 663.9 626.9 662.8 626.2 661.7C625.5 660.5 624.3 659.4 623.7 658.2C623.1 657.0 622.7 655.8 622.7 654.6C622.7 653.3 623.2 651.8 623.8 650.7C624.5 649.6 625.5 648.7 626.6 648.1C627.6 647.5 628.9 647.3 630.0 647.2C631.1 647.2 632.4 647.5 633.4 648.1C634.5 648.7 635.5 649.6 636.2 650.7C636.8 651.7 637.3 653.3 637.3 654.5C637.3 655.8 636.9 657.0 636.3 658.2C635.8 659.4 634.5 660.5 633.8 661.7C633.1 662.8 632.6 663.8 632.1 665.1C631.7 666.4 631.2 668.1 631.2 669.3C631.1 670.4 631.6 669.9 631.7 672.0C631.7 674.1 631.7 678.4 631.7 681.8C631.7 685.2 631.7 688.9 631.7 692.4C631.7 695.9 631.6 699.4 631.6 702.9C631.6 706.5 630.9 710.3 631.6 713.5C632.3 716.7 634.8 719.7 635.6 722.3C636.3 724.9 635.9 726.8 636.0 729.1C636.2 731.3 636.1 734.2 636.3 735.8C636.5 737.5 636.6 738.1 637.2 738.8C637.7 739.4 638.7 739.8 639.4 739.8C640.2 739.8 641.2 739.4 641.7 738.8C642.2 738.1 642.4 737.5 642.6 735.8C642.7 734.2 642.7 731.2 642.8 728.8C643.0 726.5 642.6 724.5 643.3 721.8C644.0 719.2 646.6 716.2 647.2 713.0C647.9 709.8 647.2 706.0 647.2 702.4C647.2 698.9 647.2 695.4 647.1 691.9C647.1 688.4 647.1 684.7 647.1 681.3C647.1 677.9 647.0 673.6 647.1 671.5C647.2 669.4 647.7 669.9 647.6 668.8C647.5 667.6 647.1 665.9 646.7 664.6C646.2 663.4 645.7 662.3 645.0 661.2C644.3 660.0 643.0 658.9 642.4 657.7C641.8 656.5 641.4 655.3 641.5 654.0C641.5 652.8 641.9 651.3 642.6 650.2C643.2 649.1 644.3 648.2 645.3 647.6C646.4 647.0 647.6 646.8 648.8 646.8C649.9 646.8 651.1 647.0 652.2 647.6C653.2 648.2 654.3 649.1 654.9 650.2C655.6 651.3 656.0 652.8 656.0 654.0C656.1 655.3 655.7 656.5 655.1 657.7C654.5 658.9 653.2 660.0 652.5 661.2C651.8 662.3 651.3 663.4 650.8 664.6C650.4 665.9 650.0 667.6 649.9 668.8C649.8 669.9 650.3 669.4 650.4 671.5C650.5 673.6 650.4 677.9 650.4 681.3C650.4 684.7 650.4 688.4 650.4 691.9C650.3 695.4 650.3 698.9 650.3 702.4C650.3 706.0 649.6 709.7 650.2 713.0C650.9 716.3 653.6 719.5 654.3 722.2C655.1 724.8 654.7 726.6 654.8 728.9C655.0 731.1 654.9 734.0 655.1 735.6C655.3 737.3 655.4 738.0 656.0 738.7C656.5 739.3 657.5 739.7 658.3 739.7C659.1 739.7 660.1 739.3 660.7 738.7C661.2 738.0 661.3 737.2 661.5 735.6C661.7 734.0 661.7 731.2 661.8 729.0C661.9 726.8 661.5 725.1 662.3 722.5C663.1 719.8 665.7 716.6 666.4 713.3C667.1 710.0 666.4 706.3 666.4 702.7C666.4 699.2 666.3 695.7 666.3 692.2C666.3 688.7 666.3 685.0 666.3 681.6C666.3 678.2 666.3 673.9 666.3 671.8C666.4 669.7 666.9 670.2 666.8 669.1C666.8 667.9 666.3 666.2 665.9 664.9C665.4 663.6 664.9 662.6 664.2 661.5C663.5 660.3 662.2 659.2 661.7 658.0C661.1 656.8 660.7 655.6 660.7 654.3C660.7 653.1 661.2 651.5 661.8 650.5C662.5 649.4 663.5 648.5 664.6 647.9C665.6 647.3 666.9 647.0 668.0 647.0C669.1 647.1 670.4 647.3 671.4 647.9C672.5 648.5 673.5 649.4 674.2 650.5C674.8 651.6 675.3 653.1 675.3 654.4C675.3 655.6 674.9 656.8 674.3 658.0C673.7 659.2 672.5 660.3 671.8 661.5C671.1 662.6 670.5 663.7 670.1 664.9C669.6 666.2 669.2 667.9 669.1 669.1C669.0 670.2 669.5 669.7 669.6 671.8C669.7 673.9 669.6 678.3 669.6 681.6C669.6 685.0 669.6 688.7 669.5 692.2C669.5 695.7 669.5 699.2 669.5 702.7C669.4 706.3 668.7 710.0 669.4 713.3C670.1 716.6 672.8 719.9 673.6 722.6C674.3 725.3 673.9 727.1 674.0 729.3C674.2 731.6 674.1 734.4 674.3 736.1C674.5 737.7 674.6 738.4 675.2 739.1C675.7 739.8 676.7 740.2 677.5 740.2C678.3 740.2 679.4 739.8 679.9 739.1C680.5 738.5 680.6 737.7 680.8 736.1C681.0 734.5 681.0 731.8 681.1 729.7C681.2 727.6 680.8 725.9 681.6 723.3C682.4 720.7 685.1 717.3 685.8 714.0C686.5 710.7 685.8 707.0 685.8 703.4C685.8 699.9 685.8 696.4 685.8 692.9C685.8 689.4 685.7 685.7 685.7 682.3C685.8 678.9 685.7 674.6 685.8 672.5C685.9 670.4 686.4 670.9 686.3 669.8C686.2 668.6 685.8 666.9 685.4 665.6C684.9 664.3 684.4 663.3 683.7 662.1C683.0 661.0 681.7 659.9 681.1 658.7C680.6 657.5 680.2 656.3 680.2 655.0C680.2 653.8 680.6 652.2 681.3 651.2C681.9 650.1 683.0 649.2 684.1 648.6C685.1 648.0 686.4 647.7 687.5 647.7C688.6 647.8 689.9 648.0 690.9 648.6C692.0 649.2 693.0 650.1 693.7 651.2C694.3 652.3 694.8 653.8 694.8 655.1C694.8 656.3 694.4 657.5 693.8 658.7C693.2 659.9 692.0 661.0 691.2 662.2C690.5 663.3 690.0 664.4 689.5 665.6C689.1 666.9 688.7 668.6 688.6 669.8C688.5 670.9 689.0 670.4 689.0 672.5C689.1 674.6 689.1 679.0 689.0 682.3C689.0 685.7 689.0 689.4 689.0 692.9C688.9 696.4 688.9 699.9 688.9 703.5C688.9 707.0 688.8 711.7 688.8 714.0C688.8 716.3 688.5 715.5 688.8 717.0C689.1 718.5 690.2 721.0 690.8 723.0C691.4 725.0 691.8 727.0 692.3 729.0C692.8 731.0 693.2 733.4 693.5 735.0C693.8 736.6 693.8 737.6 694.0 738.5C694.2 739.4 694.7 740.2 694.8 740.5" fill="none" stroke="#000" stroke-width="1.80" stroke-linecap="round" stroke-linejoin="round"/>
<path d="M140.5 455.5C140.5 454.8 140.2 452.6 140.3 451.0C140.4 449.4 140.8 447.4 141.2 446.0C141.6 444.6 142.4 443.4 142.8 442.5C143.2 441.6 143.5 442.4 143.6 440.8C143.7 439.3 143.6 435.7 143.6 433.2C143.6 430.7 143.6 428.2 143.6 425.6C143.6 423.1 143.6 420.4 143.6 418.0C143.6 415.6 143.6 412.8 143.6 411.2C143.7 409.6 143.9 409.6 143.8 408.5C143.7 407.4 143.5 405.6 143.2 404.4C143.0 403.2 142.6 402.1 142.2 401.0C141.8 399.9 141.0 398.5 140.7 397.6C140.3 396.7 140.1 396.1 140.1 395.4C140.1 394.6 140.4 393.7 140.8 393.0C141.1 392.4 141.8 391.8 142.4 391.5C143.1 391.1 143.8 391.0 144.5 391.0C145.2 391.0 145.9 391.1 146.6 391.5C147.2 391.8 147.9 392.4 148.2 393.0C148.6 393.7 148.9 394.6 148.9 395.4C148.9 396.1 148.7 396.7 148.3 397.6C148.0 398.5 147.2 399.9 146.8 401.0C146.4 402.1 146.0 403.2 145.8 404.4C145.5 405.6 145.3 407.4 145.2 408.5C145.1 409.6 145.3 409.6 145.4 411.2C145.4 412.8 145.4 415.6 145.4 418.0C145.4 420.4 145.4 423.1 145.4 425.6C145.4 428.2 145.4 430.7 145.4 433.2C145.4 435.7 145.1 438.3 145.4 440.8C145.7 443.3 147.0 446.1 147.3 448.2C147.7 450.2 147.6 451.5 147.7 453.1C147.8 454.8 147.8 456.9 147.9 458.1C148.0 459.2 148.1 459.7 148.5 460.2C148.9 460.7 149.6 460.9 150.2 460.9C150.7 460.9 151.4 460.7 151.8 460.2C152.2 459.7 152.3 459.2 152.4 458.1C152.5 456.9 152.5 455.0 152.6 453.5C152.7 452.0 152.6 450.9 153.0 448.9C153.3 446.9 154.6 444.1 154.9 441.6C155.2 439.1 154.9 436.5 154.9 434.0C154.9 431.4 154.9 428.9 154.9 426.3C154.9 423.8 154.9 421.1 154.9 418.7C154.9 416.3 154.9 413.5 154.9 411.9C155.0 410.3 155.2 410.3 155.1 409.1C155.0 408.0 154.8 406.3 154.5 405.0C154.3 403.8 153.9 402.8 153.5 401.6C153.1 400.5 152.3 399.1 152.0 398.2C151.6 397.3 151.3 396.7 151.4 396.0C151.4 395.2 151.6 394.3 152.0 393.6C152.4 393.0 153.1 392.4 153.7 392.1C154.3 391.7 155.1 391.5 155.8 391.5C156.5 391.5 157.3 391.7 157.9 392.1C158.5 392.4 159.2 393.0 159.6 393.6C160.0 394.3 160.2 395.2 160.2 396.0C160.3 396.7 160.0 397.3 159.6 398.2C159.3 399.1 158.5 400.5 158.1 401.6C157.7 402.8 157.3 403.8 157.1 405.0C156.8 406.3 156.6 408.0 156.5 409.1C156.4 410.3 156.6 410.3 156.7 411.9C156.7 413.5 156.7 416.3 156.7 418.7C156.7 421.1 156.7 423.8 156.7 426.3C156.7 428.9 156.7 431.4 156.7 434.0C156.7 436.5 156.3 439.0 156.7 441.6C157.1 444.2 158.4 447.4 158.8 449.5C159.3 451.6 159.1 452.6 159.2 454.2C159.3 455.7 159.3 457.7 159.4 458.9C159.5 460.0 159.6 460.5 160.0 461.0C160.4 461.5 161.1 461.7 161.7 461.7C162.2 461.7 162.9 461.5 163.3 461.0C163.7 460.5 163.8 459.9 163.9 458.9C164.0 457.8 164.0 456.0 164.1 454.6C164.2 453.2 164.0 452.4 164.5 450.3C164.9 448.3 166.2 445.0 166.6 442.4C167.0 439.8 166.6 437.3 166.6 434.7C166.6 432.2 166.6 429.6 166.6 427.1C166.6 424.5 166.6 421.9 166.6 419.4C166.6 417.0 166.6 414.1 166.6 412.5C166.7 410.9 166.9 410.9 166.8 409.8C166.7 408.6 166.5 406.9 166.2 405.7C165.9 404.4 165.6 403.4 165.2 402.3C164.7 401.1 164.0 399.8 163.6 398.8C163.3 397.9 163.0 397.4 163.0 396.6C163.0 395.8 163.3 394.9 163.7 394.2C164.1 393.6 164.8 393.0 165.4 392.6C166.0 392.3 166.8 392.1 167.5 392.1C168.2 392.1 169.0 392.3 169.6 392.6C170.2 393.0 170.9 393.6 171.3 394.2C171.7 394.9 172.0 395.8 172.0 396.6C172.0 397.4 171.7 397.9 171.4 398.8C171.0 399.8 170.3 401.1 169.8 402.3C169.4 403.4 169.1 404.4 168.8 405.7C168.5 406.9 168.3 408.6 168.2 409.8C168.1 410.9 168.3 410.9 168.4 412.5C168.4 414.1 168.4 417.0 168.4 419.4C168.4 421.9 168.4 424.5 168.4 427.1C168.4 429.6 168.4 432.2 168.4 434.7C168.4 437.3 168.0 439.8 168.4 442.4C168.8 445.0 170.1 448.2 170.5 450.3C171.0 452.4 170.8 453.4 170.9 455.0C171.0 456.5 171.0 458.5 171.1 459.6C171.2 460.8 171.3 461.3 171.7 461.8C172.1 462.3 172.8 462.5 173.3 462.5C173.9 462.5 174.6 462.3 175.0 461.8C175.4 461.3 175.5 460.7 175.6 459.6C175.7 458.6 175.7 456.8 175.8 455.4C175.9 454.0 175.7 453.2 176.2 451.1C176.6 449.1 177.9 445.8 178.3 443.2C178.7 440.6 178.3 438.1 178.3 435.5C178.3 432.9 178.3 430.4 178.3 427.8C178.3 425.2 178.3 422.6 178.3 420.1C178.3 417.7 178.3 414.8 178.3 413.2C178.4 411.6 178.6 411.6 178.5 410.5C178.4 409.3 178.2 407.6 177.9 406.3C177.6 405.1 177.3 404.0 176.9 402.9C176.4 401.8 175.7 400.4 175.3 399.5C174.9 398.5 174.7 398.0 174.7 397.2C174.7 396.4 175.0 395.5 175.4 394.8C175.8 394.2 176.4 393.6 177.1 393.2C177.7 392.9 178.5 392.7 179.2 392.7C179.9 392.7 180.7 392.9 181.3 393.2C182.0 393.6 182.6 394.2 183.0 394.8C183.4 395.5 183.7 396.4 183.7 397.2C183.7 398.0 183.5 398.5 183.1 399.5C182.7 400.4 182.0 401.8 181.5 402.9C181.1 404.0 180.8 405.1 180.5 406.3C180.2 407.6 180.0 409.3 179.9 410.5C179.8 411.6 180.0 411.6 180.1 413.2C180.1 414.8 180.1 417.7 180.1 420.1C180.1 422.6 180.1 425.2 180.1 427.8C180.1 430.4 180.1 432.9 180.1 435.5C180.1 438.1 179.8 440.6 180.1 443.2C180.4 445.7 181.8 448.8 182.2 450.9C182.6 453.0 182.4 454.1 182.5 455.7C182.6 457.3 182.6 459.3 182.7 460.4C182.9 461.6 182.9 462.1 183.3 462.6C183.7 463.1 184.4 463.3 185.0 463.3C185.5 463.3 186.3 463.1 186.6 462.6C187.0 462.1 187.1 461.5 187.2 460.4C187.4 459.4 187.3 457.5 187.4 456.1C187.5 454.6 187.4 453.7 187.8 451.7C188.2 449.7 189.5 446.5 189.8 444.0C190.2 441.4 189.8 438.8 189.8 436.2C189.8 433.7 189.8 431.1 189.8 428.5C189.8 426.0 189.8 423.3 189.8 420.8C189.9 418.4 189.9 415.5 189.9 413.9C189.9 412.2 190.1 412.3 190.0 411.1C190.0 410.0 189.7 408.2 189.5 407.0C189.2 405.7 188.8 404.7 188.4 403.5C188.0 402.4 187.2 401.0 186.8 400.1C186.5 399.1 186.2 398.6 186.2 397.8C186.2 397.0 186.5 396.1 186.9 395.4C187.3 394.8 188.0 394.2 188.6 393.8C189.3 393.5 190.0 393.3 190.8 393.3C191.5 393.3 192.2 393.5 192.9 393.8C193.5 394.2 194.2 394.8 194.6 395.4C195.0 396.1 195.3 397.0 195.3 397.8C195.3 398.6 195.0 399.1 194.7 400.1C194.3 401.0 193.5 402.4 193.1 403.5C192.7 404.7 192.3 405.7 192.0 407.0C191.8 408.2 191.5 410.0 191.5 411.1C191.4 412.3 191.6 412.2 191.6 413.9C191.6 415.5 191.6 418.4 191.7 420.8C191.7 423.3 191.7 426.0 191.7 428.5C191.7 431.1 191.7 433.7 191.7 436.2C191.7 438.8 191.3 441.5 191.7 444.0C192.0 446.5 193.2 449.2 193.6 451.2C193.9 453.3 193.8 454.6 193.9 456.2C194.0 457.9 194.0 460.0 194.1 461.2C194.3 462.4 194.3 462.9 194.7 463.3C195.1 463.8 195.8 464.1 196.4 464.1C196.9 464.1 197.7 463.8 198.0 463.3C198.4 462.9 198.5 462.3 198.6 461.2C198.8 460.1 198.7 458.1 198.8 456.6C198.9 455.1 198.8 454.0 199.2 452.0C199.6 450.0 200.8 447.2 201.1 444.7C201.4 442.2 201.1 439.5 201.1 437.0C201.1 434.4 201.1 431.8 201.1 429.2C201.1 426.6 201.1 423.9 201.1 421.5C201.1 419.0 201.1 416.1 201.1 414.5C201.2 412.9 201.4 412.9 201.3 411.7C201.2 410.6 201.0 408.9 200.7 407.6C200.4 406.3 200.1 405.3 199.6 404.1C199.2 403.0 198.4 401.6 198.0 400.7C197.7 399.7 197.4 399.2 197.4 398.4C197.4 397.6 197.7 396.7 198.1 396.0C198.5 395.3 199.2 394.7 199.9 394.4C200.5 394.0 201.3 393.8 202.0 393.8C202.7 393.8 203.5 394.0 204.1 394.4C204.8 394.7 205.5 395.3 205.9 396.0C206.3 396.7 206.6 397.6 206.6 398.4C206.6 399.2 206.3 399.7 206.0 400.7C205.6 401.6 204.8 403.0 204.4 404.1C203.9 405.3 203.6 406.3 203.3 407.6C203.0 408.9 202.8 410.6 202.7 411.7C202.6 412.9 202.8 412.9 202.9 414.5C202.9 416.1 202.9 419.0 202.9 421.5C202.9 423.9 202.9 426.6 202.9 429.2C202.9 431.8 202.9 434.4 202.9 437.0C202.9 439.5 202.5 442.1 202.9 444.7C203.3 447.3 204.6 450.6 205.0 452.7C205.5 454.8 205.3 455.8 205.4 457.3C205.5 458.8 205.5 460.8 205.6 461.9C205.7 463.1 205.8 463.6 206.2 464.1C206.6 464.6 207.3 464.8 207.8 464.8C208.4 464.8 209.1 464.6 209.5 464.1C209.9 463.6 210.0 463.0 210.1 461.9C210.2 460.9 210.2 459.1 210.3 457.6C210.4 456.2 210.2 455.4 210.7 453.4C211.1 451.3 212.4 448.0 212.8 445.4C213.2 442.8 212.8 440.2 212.8 437.6C212.8 435.0 212.8 432.5 212.8 429.9C212.8 427.3 212.8 424.5 212.8 422.1C212.8 419.6 212.8 416.7 212.8 415.1C212.9 413.4 213.1 413.4 213.0 412.3C212.9 411.1 212.7 409.4 212.4 408.1C212.1 406.9 211.8 405.8 211.3 404.7C210.9 403.5 210.1 402.2 209.7 401.2C209.3 400.3 209.1 399.7 209.1 398.9C209.1 398.1 209.4 397.2 209.8 396.5C210.2 395.8 210.9 395.2 211.5 394.9C212.2 394.5 213.0 394.3 213.7 394.3C214.4 394.3 215.2 394.5 215.9 394.9C216.5 395.2 217.2 395.8 217.6 396.5C218.0 397.2 218.3 398.1 218.3 398.9C218.3 399.7 218.1 400.3 217.7 401.2C217.3 402.2 216.5 403.5 216.1 404.7C215.6 405.8 215.3 406.9 215.0 408.1C214.7 409.4 214.5 411.1 214.4 412.3C214.3 413.4 214.5 413.4 214.6 415.1C214.6 416.7 214.6 419.6 214.6 422.1C214.6 424.5 214.6 427.3 214.6 429.9C214.6 432.5 214.6 435.0 214.6 437.6C214.6 440.2 214.3 442.8 214.6 445.4C214.9 448.0 216.3 451.1 216.7 453.1C217.1 455.2 216.9 456.3 217.0 457.9C217.1 459.5 217.1 461.5 217.2 462.6C217.4 463.8 217.4 464.3 217.8 464.8C218.2 465.2 218.9 465.5 219.5 465.5C220.0 465.5 220.8 465.2 221.1 464.8C221.5 464.3 221.6 463.7 221.7 462.6C221.9 461.5 221.8 459.7 221.9 458.2C222.0 456.8 221.9 455.8 222.3 453.8C222.7 451.8 224.0 448.7 224.3 446.1C224.7 443.5 224.3 440.9 224.3 438.3C224.3 435.7 224.3 433.1 224.3 430.5C224.3 427.9 224.3 425.2 224.3 422.7C224.4 420.2 224.4 417.3 224.4 415.6C224.4 414.0 224.6 414.0 224.5 412.8C224.4 411.7 224.2 410.0 223.9 408.7C223.6 407.4 223.3 406.4 222.8 405.2C222.4 404.1 221.6 402.7 221.2 401.8C220.9 400.8 220.6 400.2 220.6 399.4C220.6 398.6 220.9 397.7 221.3 397.0C221.7 396.3 222.4 395.7 223.1 395.3C223.7 395.0 224.5 394.8 225.2 394.8C226.0 394.8 226.8 395.0 227.4 395.3C228.1 395.7 228.8 396.3 229.2 397.0C229.6 397.7 229.9 398.6 229.9 399.4C229.9 400.2 229.6 400.8 229.3 401.8C228.9 402.7 228.1 404.1 227.7 405.2C227.2 406.4 226.9 407.4 226.6 408.7C226.3 410.0 226.1 411.7 226.0 412.8C225.9 414.0 226.1 414.0 226.1 415.6C226.1 417.3 226.1 420.2 226.2 422.7C226.2 425.2 226.2 427.9 226.2 430.5C226.2 433.1 226.2 435.7 226.2 438.3C226.2 440.9 225.8 443.6 226.2 446.1C226.5 448.6 227.7 451.3 228.1 453.4C228.4 455.4 228.3 456.7 228.4 458.3C228.5 460.0 228.5 462.1 228.6 463.3C228.8 464.5 228.8 465.0 229.2 465.5C229.6 465.9 230.3 466.2 230.9 466.2C231.4 466.2 232.2 465.9 232.5 465.5C232.9 465.0 233.0 464.4 233.1 463.3C233.3 462.2 233.2 460.2 233.3 458.7C233.4 457.1 233.3 456.0 233.7 454.1C234.1 452.1 235.3 449.3 235.6 446.8C235.9 444.3 235.6 441.5 235.6 438.9C235.6 436.3 235.6 433.7 235.6 431.1C235.6 428.5 235.6 425.7 235.6 423.3C235.6 420.8 235.6 417.8 235.6 416.2C235.7 414.5 235.9 414.6 235.8 413.4C235.7 412.2 235.5 410.5 235.2 409.2C234.9 407.9 234.5 406.9 234.1 405.7C233.6 404.6 232.8 403.2 232.5 402.3C232.1 401.3 231.8 400.7 231.8 399.9C231.9 399.1 232.1 398.1 232.5 397.5C233.0 396.8 233.7 396.2 234.3 395.8C235.0 395.5 235.8 395.3 236.5 395.3C237.2 395.3 238.0 395.5 238.7 395.8C239.3 396.2 240.0 396.8 240.5 397.5C240.9 398.1 241.1 399.1 241.2 399.9C241.2 400.7 240.9 401.3 240.5 402.3C240.2 403.2 239.4 404.6 238.9 405.7C238.5 406.9 238.1 407.9 237.8 409.2C237.5 410.5 237.3 412.2 237.2 413.4C237.1 414.6 237.3 414.5 237.4 416.2C237.4 417.8 237.4 420.8 237.4 423.3C237.4 425.7 237.4 428.5 237.4 431.1C237.4 433.7 237.4 436.3 237.4 438.9C237.4 441.5 237.1 444.3 237.4 446.8C237.7 449.3 238.9 452.0 239.3 454.1C239.7 456.1 239.6 457.4 239.7 459.0C239.8 460.7 239.7 462.8 239.9 464.0C240.0 465.2 240.1 465.6 240.5 466.1C240.8 466.6 241.6 466.9 242.1 466.9C242.7 466.9 243.4 466.6 243.8 466.1C244.2 465.6 244.2 465.1 244.4 464.0C244.5 462.9 244.5 460.9 244.6 459.4C244.7 457.8 244.6 456.7 244.9 454.7C245.3 452.7 246.5 450.0 246.8 447.4C247.2 444.9 246.8 442.2 246.8 439.6C246.8 437.0 246.8 434.3 246.8 431.7C246.8 429.1 246.8 426.3 246.8 423.8C246.9 421.3 246.9 418.4 246.9 416.7C246.9 415.1 247.1 415.1 247.0 413.9C246.9 412.8 246.7 411.0 246.4 409.8C246.1 408.5 245.8 407.4 245.3 406.3C244.9 405.1 244.1 403.8 243.7 402.8C243.3 401.8 243.0 401.2 243.1 400.4C243.1 399.6 243.4 398.6 243.8 397.9C244.2 397.3 244.9 396.7 245.5 396.3C246.2 395.9 247.0 395.7 247.8 395.7C248.5 395.7 249.3 395.9 250.0 396.3C250.6 396.7 251.3 397.3 251.7 397.9C252.1 398.6 252.4 399.6 252.4 400.4C252.5 401.2 252.2 401.8 251.8 402.8C251.4 403.8 250.6 405.1 250.2 406.3C249.7 407.4 249.4 408.5 249.1 409.8C248.8 411.0 248.6 412.8 248.5 413.9C248.4 415.1 248.6 415.1 248.6 416.7C248.6 418.4 248.6 421.3 248.7 423.8C248.7 426.3 248.7 429.1 248.7 431.7C248.7 434.3 248.7 437.0 248.7 439.6C248.7 442.2 248.3 444.7 248.7 447.4C249.0 450.2 250.6 454.0 251.0 456.1C251.5 458.3 251.3 458.9 251.4 460.4C251.5 461.8 251.5 463.5 251.6 464.6C251.7 465.6 251.8 466.3 252.2 466.7C252.6 467.2 253.3 467.5 253.9 467.5C254.4 467.5 255.2 467.2 255.6 466.7C255.9 466.3 256.0 465.6 256.2 464.6C256.3 463.6 256.3 462.0 256.4 460.7C256.5 459.3 256.3 458.8 256.7 456.7C257.2 454.6 258.7 450.8 259.1 448.0C259.5 445.3 259.1 442.8 259.1 440.1C259.1 437.5 259.1 434.9 259.1 432.2C259.1 429.6 259.1 426.9 259.1 424.3C259.1 421.8 259.1 418.8 259.1 417.2C259.2 415.5 259.3 415.6 259.2 414.4C259.1 413.3 258.9 411.6 258.6 410.3C258.3 409.1 257.9 408.0 257.5 406.9C257.0 405.8 256.1 404.5 255.8 403.5C255.4 402.5 255.1 401.9 255.1 401.0C255.1 400.2 255.4 399.1 255.8 398.4C256.3 397.7 257.0 397.1 257.7 396.7C258.4 396.3 259.2 396.1 260.0 396.1C260.8 396.1 261.6 396.3 262.3 396.7C263.0 397.1 263.7 397.7 264.2 398.4C264.6 399.1 264.9 400.2 264.9 401.0C264.9 401.9 264.6 402.5 264.2 403.5C263.9 404.5 263.0 405.8 262.5 406.9C262.1 408.0 261.7 409.1 261.4 410.3C261.1 411.6 260.9 413.3 260.8 414.4C260.7 415.6 260.8 415.5 260.9 417.2C260.9 418.8 260.9 421.8 260.9 424.3C260.9 426.9 260.9 429.6 260.9 432.2C260.9 434.9 260.9 437.5 260.9 440.1C260.9 442.8 260.5 445.3 260.9 448.0C261.3 450.8 262.8 454.3 263.2 456.4C263.6 458.6 263.4 459.4 263.5 460.8C263.6 462.3 263.6 464.1 263.7 465.2C263.9 466.3 264.0 466.9 264.3 467.3C264.7 467.8 265.4 468.1 266.0 468.1C266.6 468.1 267.3 467.8 267.7 467.3C268.0 466.9 268.1 466.2 268.3 465.2C268.4 464.2 268.4 462.5 268.5 461.1C268.6 459.7 268.4 459.1 268.8 457.0C269.2 454.9 270.7 451.3 271.1 448.6C271.5 445.9 271.1 443.3 271.1 440.7C271.1 438.0 271.1 435.4 271.1 432.8C271.1 430.1 271.1 427.3 271.1 424.8C271.1 422.3 271.1 419.3 271.1 417.6C271.2 416.0 271.3 416.1 271.2 415.0C271.1 413.8 270.8 412.2 270.5 410.9C270.2 409.7 269.8 408.7 269.3 407.6C268.8 406.4 268.0 405.2 267.5 404.2C267.1 403.2 266.8 402.5 266.9 401.6C266.9 400.8 267.2 399.7 267.6 398.9C268.1 398.2 268.9 397.5 269.6 397.1C270.3 396.7 271.2 396.5 272.0 396.5C272.8 396.5 273.7 396.7 274.4 397.1C275.1 397.5 275.9 398.2 276.4 398.9C276.8 399.7 277.1 400.8 277.1 401.6C277.2 402.5 276.9 403.2 276.5 404.2C276.0 405.2 275.2 406.4 274.7 407.6C274.2 408.7 273.8 409.7 273.5 410.9C273.2 412.2 272.9 413.8 272.8 415.0C272.7 416.1 272.8 416.0 272.9 417.6C272.9 419.3 272.9 422.3 272.9 424.8C272.9 427.3 272.9 430.1 272.9 432.8C272.9 435.4 272.9 438.0 272.9 440.7C272.9 443.3 272.5 445.9 272.9 448.6C273.3 451.3 274.8 454.9 275.2 457.0C275.6 459.1 275.4 459.9 275.5 461.4C275.6 462.9 275.6 464.7 275.7 465.8C275.9 466.9 276.0 467.4 276.3 467.9C276.7 468.4 277.4 468.7 278.0 468.7C278.6 468.7 279.3 468.4 279.7 467.9C280.0 467.4 280.1 466.8 280.3 465.8C280.4 464.7 280.4 463.1 280.5 461.7C280.6 460.3 280.4 459.7 280.8 457.6C281.2 455.5 282.7 451.9 283.1 449.2C283.5 446.5 283.1 443.9 283.1 441.2C283.1 438.6 283.1 435.9 283.1 433.3C283.1 430.6 283.1 427.8 283.1 425.3C283.1 422.8 283.1 419.7 283.1 418.1C283.2 416.5 283.3 416.6 283.2 415.5C283.0 414.4 282.8 412.7 282.5 411.5C282.1 410.3 281.7 409.3 281.2 408.2C280.7 407.1 279.8 405.9 279.3 404.9C278.9 403.9 278.6 403.2 278.6 402.3C278.6 401.3 279.0 400.2 279.4 399.4C279.9 398.6 280.7 397.9 281.5 397.5C282.2 397.1 283.2 396.9 284.0 396.9C284.8 396.9 285.8 397.1 286.5 397.5C287.3 397.9 288.1 398.6 288.6 399.4C289.0 400.2 289.4 401.3 289.4 402.3C289.4 403.2 289.1 403.9 288.7 404.9C288.2 405.9 287.3 407.1 286.8 408.2C286.3 409.3 285.9 410.3 285.5 411.5C285.2 412.7 285.0 414.4 284.8 415.5C284.7 416.6 284.8 416.5 284.9 418.1C284.9 419.7 284.9 422.8 284.9 425.3C284.9 427.8 284.9 430.6 284.9 433.3C284.9 435.9 284.9 438.6 284.9 441.2C284.9 443.9 284.5 446.5 284.9 449.2C285.3 451.9 286.8 455.5 287.2 457.6C287.6 459.7 287.4 460.5 287.5 462.0C287.6 463.4 287.6 465.3 287.7 466.4C287.9 467.4 288.0 468.0 288.3 468.5C288.7 469.0 289.4 469.2 290.0 469.2C290.6 469.2 291.3 469.0 291.7 468.5C292.0 468.0 292.1 467.4 292.3 466.4C292.4 465.3 292.4 463.6 292.5 462.3C292.6 460.9 292.4 460.2 292.8 458.2C293.2 456.1 294.7 452.5 295.1 449.8C295.5 447.0 295.1 444.4 295.1 441.8C295.1 439.1 295.1 436.4 295.1 433.8C295.1 431.1 295.1 428.3 295.1 425.8C295.1 423.3 295.1 420.2 295.1 418.6C295.1 416.9 295.2 417.1 295.1 416.0C295.0 414.9 294.7 413.3 294.4 412.1C294.1 410.9 293.6 410.0 293.1 408.9C292.5 407.8 291.6 406.7 291.1 405.7C290.7 404.7 290.4 403.8 290.4 402.9C290.4 401.9 290.7 400.7 291.2 399.9C291.7 399.1 292.6 398.3 293.4 397.9C294.2 397.5 295.1 397.2 296.0 397.2C296.9 397.2 297.8 397.5 298.6 397.9C299.4 398.3 300.3 399.1 300.8 399.9C301.3 400.7 301.6 401.9 301.6 402.9C301.6 403.8 301.3 404.7 300.9 405.7C300.4 406.7 299.5 407.8 298.9 408.9C298.4 410.0 297.9 410.9 297.6 412.1C297.3 413.3 297.0 414.9 296.9 416.0C296.8 417.1 296.9 416.9 296.9 418.6C296.9 420.2 296.9 423.3 296.9 425.8C296.9 428.3 296.9 431.1 296.9 433.8C296.9 436.4 296.9 439.1 296.9 441.8C296.9 444.4 296.4 446.8 296.9 449.8C297.4 452.7 299.1 457.4 299.6 459.6C300.1 461.8 299.9 461.9 300.0 463.1C300.1 464.3 300.1 465.6 300.2 466.6C300.4 467.6 300.5 468.5 300.9 469.0C301.3 469.5 302.1 469.8 302.8 469.8C303.4 469.8 304.2 469.5 304.6 469.0C305.0 468.5 305.1 467.5 305.3 466.6C305.4 465.7 305.4 464.5 305.5 463.4C305.6 462.3 305.4 462.4 305.9 460.2C306.4 458.0 308.1 453.3 308.6 450.4C309.1 447.4 308.6 445.0 308.6 442.3C308.6 439.7 308.6 437.0 308.6 434.3C308.6 431.6 308.6 428.8 308.6 426.3C308.6 423.7 308.6 420.6 308.6 419.0C308.6 417.4 308.7 417.5 308.6 416.5C308.4 415.5 308.2 413.9 307.8 412.7C307.5 411.6 307.0 410.6 306.4 409.6C305.9 408.5 304.9 407.5 304.4 406.5C303.9 405.4 303.6 404.5 303.6 403.5C303.6 402.5 304.0 401.3 304.5 400.4C305.0 399.5 305.9 398.8 306.7 398.3C307.6 397.8 308.6 397.6 309.5 397.6C310.4 397.6 311.4 397.8 312.3 398.3C313.1 398.8 314.0 399.5 314.5 400.4C315.0 401.3 315.4 402.5 315.4 403.5C315.4 404.5 315.1 405.4 314.6 406.5C314.1 407.5 313.1 408.5 312.6 409.6C312.0 410.6 311.5 411.6 311.2 412.7C310.8 413.9 310.6 415.5 310.4 416.5C310.3 417.5 310.4 417.4 310.4 419.0C310.4 420.6 310.4 423.7 310.4 426.3C310.4 428.8 310.4 431.6 310.4 434.3C310.4 437.0 310.4 439.7 310.4 442.3C310.4 445.0 309.9 447.4 310.4 450.4C310.9 453.3 312.6 458.0 313.1 460.2C313.6 462.4 313.4 462.5 313.5 463.7C313.6 464.9 313.6 466.2 313.7 467.2C313.9 468.2 314.0 469.0 314.4 469.6C314.8 470.1 315.6 470.4 316.2 470.4C316.9 470.4 317.7 470.1 318.1 469.6C318.5 469.0 318.6 468.1 318.8 467.2C318.9 466.3 318.9 465.1 319.0 464.0C319.1 462.9 318.9 463.0 319.4 460.8C319.9 458.6 321.6 453.9 322.1 451.0C322.6 448.0 322.1 445.6 322.1 442.9C322.1 440.2 322.1 437.5 322.1 434.8C322.1 432.2 322.1 429.3 322.1 426.8C322.1 424.2 322.2 421.1 322.1 419.5C322.1 417.8 322.2 418.0 322.0 417.0C321.9 416.0 321.6 414.5 321.2 413.3C320.9 412.2 320.4 411.3 319.8 410.3C319.2 409.3 318.2 408.2 317.7 407.2C317.2 406.2 316.8 405.2 316.8 404.1C316.9 403.1 317.2 401.8 317.8 400.9C318.3 400.0 319.2 399.2 320.1 398.7C321.0 398.2 322.0 398.0 323.0 398.0C324.0 398.0 325.0 398.2 325.9 398.7C326.8 399.2 327.7 400.0 328.2 400.9C328.8 401.8 329.1 403.1 329.2 404.1C329.2 405.2 328.8 406.2 328.3 407.2C327.8 408.2 326.8 409.3 326.2 410.3C325.6 411.3 325.1 412.2 324.8 413.3C324.4 414.5 324.1 416.0 324.0 417.0C323.8 418.0 323.9 417.8 323.9 419.5C323.8 421.1 323.9 424.2 323.9 426.8C323.9 429.3 323.9 432.2 323.9 434.8C323.9 437.5 323.9 440.2 323.9 442.9C323.9 445.6 323.4 447.9 323.9 451.0C324.4 454.0 326.2 458.8 326.7 461.0C327.2 463.3 327.0 463.3 327.1 464.4C327.2 465.5 327.2 466.8 327.3 467.7C327.5 468.7 327.6 469.6 328.0 470.2C328.4 470.7 329.2 471.0 329.9 471.0C330.5 471.0 331.3 470.7 331.8 470.2C332.2 469.6 332.3 468.6 332.4 467.7C332.6 466.8 332.6 465.7 332.7 464.7C332.8 463.7 332.5 463.8 333.1 461.6C333.6 459.4 335.4 454.6 335.9 451.6C336.3 448.5 335.9 446.2 335.9 443.5C335.9 440.8 335.9 438.1 335.9 435.4C335.9 432.7 335.8 429.9 335.9 427.3C335.9 424.7 335.9 421.6 335.9 419.9C335.9 418.3 335.9 418.5 335.7 417.6C335.6 416.6 335.3 415.1 334.9 414.0C334.5 412.9 334.0 412.0 333.4 411.0C332.8 410.0 331.7 409.0 331.2 408.0C330.7 407.0 330.3 405.9 330.3 404.8C330.3 403.7 330.7 402.3 331.3 401.4C331.9 400.4 332.8 399.6 333.7 399.1C334.6 398.6 335.7 398.4 336.8 398.4C337.8 398.4 338.9 398.6 339.8 399.1C340.7 399.6 341.6 400.4 342.2 401.4C342.8 402.3 343.2 403.7 343.2 404.8C343.2 405.9 342.8 407.0 342.3 408.0C341.8 409.0 340.7 410.0 340.1 411.0C339.5 412.0 339.0 412.9 338.6 414.0C338.2 415.1 337.9 416.6 337.8 417.6C337.6 418.5 337.6 418.3 337.6 419.9C337.6 421.6 337.6 424.7 337.6 427.3C337.7 429.9 337.6 432.7 337.6 435.4C337.6 438.1 337.6 440.8 337.6 443.5C337.6 446.2 337.2 448.4 337.6 451.6C338.1 454.7 340.0 459.9 340.6 462.1C341.1 464.4 340.9 464.1 341.0 465.1C341.1 466.0 341.1 467.1 341.2 468.0C341.4 468.9 341.5 469.9 341.9 470.5C342.4 471.1 343.2 471.4 343.9 471.4C344.5 471.4 345.4 471.1 345.8 470.5C346.3 469.9 346.4 468.9 346.5 468.0C346.7 467.1 346.7 466.1 346.8 465.1C346.9 464.2 346.6 464.5 347.2 462.3C347.7 460.0 349.6 454.8 350.1 451.7C350.6 448.6 350.1 446.3 350.1 443.6C350.1 440.9 350.1 438.2 350.1 435.5C350.1 432.8 350.1 430.0 350.1 427.4C350.1 424.8 350.2 421.7 350.1 420.1C350.1 418.4 350.2 418.7 350.0 417.7C349.8 416.7 349.5 415.2 349.1 414.1C348.7 413.0 348.3 412.1 347.6 411.2C347.0 410.2 345.9 409.2 345.4 408.2C344.9 407.2 344.5 406.1 344.5 404.9C344.5 403.8 344.9 402.5 345.5 401.5C346.1 400.5 347.0 399.7 347.9 399.2C348.9 398.7 350.0 398.4 351.0 398.4C352.0 398.4 353.1 398.7 354.1 399.2C355.0 399.7 355.9 400.5 356.5 401.5C357.1 402.5 357.5 403.8 357.5 404.9C357.5 406.1 357.1 407.2 356.6 408.2C356.1 409.2 355.0 410.2 354.4 411.2C353.7 412.1 353.3 413.0 352.9 414.1C352.5 415.2 352.2 416.7 352.0 417.7C351.8 418.7 351.9 418.4 351.9 420.1C351.8 421.7 351.9 424.8 351.9 427.4C351.9 430.0 351.9 432.8 351.9 435.5C351.9 438.2 351.9 440.9 351.9 443.6C351.9 446.3 351.4 448.6 351.9 451.7C352.4 454.8 354.3 460.0 354.8 462.3C355.4 464.5 355.1 464.2 355.2 465.2C355.3 466.1 355.3 467.2 355.5 468.1C355.6 469.0 355.7 470.0 356.2 470.6C356.6 471.1 357.5 471.4 358.1 471.4C358.8 471.4 359.6 471.1 360.1 470.6C360.5 470.0 360.6 469.0 360.8 468.1C360.9 467.2 360.9 466.1 361.0 465.2C361.1 464.2 360.9 464.5 361.4 462.3C362.0 460.0 363.9 454.8 364.4 451.7C364.8 448.6 364.4 446.3 364.4 443.6C364.4 440.9 364.4 438.2 364.4 435.5C364.4 432.8 364.3 430.0 364.4 427.4C364.4 424.8 364.4 421.7 364.4 420.1C364.4 418.4 364.4 418.7 364.2 417.7C364.1 416.7 363.8 415.2 363.4 414.1C363.0 413.0 362.5 412.1 361.9 411.2C361.2 410.2 360.1 409.2 359.6 408.2C359.1 407.2 358.7 406.1 358.8 404.9C358.8 403.8 359.2 402.5 359.7 401.5C360.3 400.5 361.3 399.7 362.2 399.2C363.1 398.7 364.2 398.4 365.2 398.4C366.3 398.4 367.4 398.7 368.3 399.2C369.2 399.7 370.2 400.5 370.8 401.5C371.3 402.5 371.7 403.8 371.8 404.9C371.8 406.1 371.4 407.2 370.9 408.2C370.4 409.2 369.3 410.2 368.6 411.2C368.0 412.1 367.5 413.0 367.1 414.1C366.7 415.2 366.4 416.7 366.3 417.7C366.1 418.7 366.1 418.4 366.1 420.1C366.1 421.7 366.1 424.8 366.1 427.4C366.2 430.0 366.1 432.8 366.1 435.5C366.1 438.2 366.1 440.9 366.1 443.6C366.1 446.3 365.7 448.6 366.1 451.7C366.6 454.8 368.5 459.7 369.0 462.0C369.5 464.2 369.3 464.0 369.4 465.1C369.5 466.1 369.5 467.2 369.6 468.1C369.8 469.1 369.9 470.0 370.3 470.6C370.7 471.2 371.6 471.4 372.2 471.4C372.9 471.4 373.7 471.2 374.1 470.6C374.6 470.0 374.7 469.1 374.8 468.1C375.0 467.2 375.0 466.1 375.1 465.1C375.2 464.0 374.9 464.2 375.5 462.0C376.0 459.7 377.8 454.8 378.3 451.7C378.8 448.6 378.3 446.3 378.3 443.6C378.3 440.9 378.3 438.2 378.3 435.5C378.3 432.8 378.3 430.0 378.3 427.4C378.3 424.8 378.4 421.7 378.3 420.1C378.3 418.4 378.4 418.7 378.2 417.7C378.0 416.7 377.7 415.2 377.3 414.1C376.9 413.0 376.5 412.1 375.8 411.2C375.2 410.2 374.1 409.2 373.6 408.2C373.1 407.2 372.7 406.1 372.7 404.9C372.7 403.8 373.1 402.5 373.7 401.5C374.3 400.5 375.2 399.7 376.1 399.2C377.1 398.7 378.2 398.4 379.2 398.4C380.2 398.4 381.3 398.7 382.3 399.2C383.2 399.7 384.1 400.5 384.7 401.5C385.3 402.5 385.7 403.8 385.7 404.9C385.7 406.1 385.3 407.2 384.8 408.2C384.3 409.2 383.2 410.2 382.6 411.2C381.9 412.1 381.5 413.0 381.1 414.1C380.7 415.2 380.4 416.7 380.2 417.7C380.0 418.7 380.1 418.4 380.1 420.1C380.0 421.7 380.1 424.8 380.1 427.4C380.1 430.0 380.1 432.8 380.1 435.5C380.1 438.2 380.1 440.9 380.1 443.6C380.1 446.3 379.6 448.7 380.1 451.7C380.6 454.7 382.4 459.6 382.9 461.8C383.4 464.1 383.2 463.9 383.3 465.0C383.4 466.1 383.4 467.2 383.5 468.2C383.7 469.1 383.8 470.1 384.2 470.6C384.6 471.2 385.5 471.4 386.1 471.4C386.7 471.4 387.6 471.2 388.0 470.6C388.4 470.1 388.5 469.1 388.7 468.2C388.8 467.2 388.8 466.1 388.9 465.0C389.0 463.9 388.8 464.1 389.3 461.8C389.8 459.6 391.6 454.7 392.1 451.7C392.6 448.7 392.1 446.3 392.1 443.6C392.1 440.9 392.1 438.2 392.1 435.5C392.1 432.8 392.1 430.0 392.1 427.4C392.1 424.8 392.2 421.7 392.1 420.1C392.1 418.4 392.2 418.7 392.0 417.7C391.8 416.7 391.5 415.2 391.1 414.1C390.7 413.0 390.3 412.1 389.6 411.2C389.0 410.2 387.9 409.2 387.4 408.2C386.9 407.2 386.5 406.1 386.5 404.9C386.5 403.8 386.9 402.5 387.5 401.5C388.1 400.5 389.0 399.7 389.9 399.2C390.9 398.7 392.0 398.4 393.0 398.4C394.0 398.4 395.1 398.7 396.1 399.2C397.0 399.7 397.9 400.5 398.5 401.5C399.1 402.5 399.5 403.8 399.5 404.9C399.5 406.1 399.1 407.2 398.6 408.2C398.1 409.2 397.0 410.2 396.4 411.2C395.7 412.1 395.3 413.0 394.9 414.1C394.5 415.2 394.2 416.7 394.0 417.7C393.8 418.7 393.9 418.4 393.9 420.1C393.8 421.7 393.9 424.8 393.9 427.4C393.9 430.0 393.9 432.8 393.9 435.5C393.9 438.2 393.9 440.9 393.9 443.6C393.9 446.3 393.4 448.6 393.9 451.7C394.4 454.8 396.3 460.0 396.8 462.3C397.4 464.5 397.1 464.2 397.2 465.2C397.3 466.1 397.3 467.2 397.5 468.1C397.6 469.0 397.7 470.0 398.2 470.6C398.6 471.1 399.5 471.4 400.1 471.4C400.8 471.4 401.6 471.1 402.1 470.6C402.5 470.0 402.6 469.0 402.8 468.1C402.9 467.2 402.9 466.1 403.0 465.2C403.1 464.2 402.9 464.5 403.4 462.3C404.0 460.0 405.9 454.8 406.4 451.7C406.8 448.6 406.4 446.3 406.4 443.6C406.4 440.9 406.4 438.2 406.4 435.5C406.4 432.8 406.3 430.0 406.4 427.4C406.4 424.8 406.4 421.7 406.4 420.1C406.4 418.4 406.4 418.7 406.2 417.7C406.1 416.7 405.8 415.2 405.4 414.1C405.0 413.0 404.5 412.1 403.9 411.2C403.2 410.2 402.1 409.2 401.6 408.2C401.1 407.2 400.7 406.1 400.8 404.9C400.8 403.8 401.2 402.5 401.7 401.5C402.3 400.5 403.3 399.7 404.2 399.2C405.1 398.7 406.2 398.4 407.2 398.4C408.3 398.4 409.4 398.7 410.3 399.2C411.2 399.7 412.2 400.5 412.8 401.5C413.3 402.5 413.7 403.8 413.8 404.9C413.8 406.1 413.4 407.2 412.9 408.2C412.4 409.2 411.3 410.2 410.6 411.2C410.0 412.1 409.5 413.0 409.1 414.1C408.7 415.2 408.4 416.7 408.3 417.7C408.1 418.7 408.1 418.4 408.1 420.1C408.1 421.7 408.1 424.8 408.1 427.4C408.2 430.0 408.1 432.8 408.1 435.5C408.1 438.2 408.1 440.9 408.1 443.6C408.1 446.3 407.7 448.6 408.1 451.7C408.6 454.8 410.5 460.0 411.1 462.3C411.6 464.5 411.4 464.2 411.5 465.2C411.6 466.1 411.6 467.2 411.7 468.1C411.9 469.0 412.0 470.0 412.4 470.6C412.9 471.1 413.7 471.4 414.4 471.4C415.0 471.4 415.9 471.1 416.3 470.6C416.8 470.0 416.9 469.0 417.0 468.1C417.2 467.2 417.2 466.1 417.3 465.2C417.4 464.2 417.1 464.5 417.7 462.3C418.2 460.0 420.1 454.8 420.6 451.7C421.1 448.6 420.6 446.3 420.6 443.6C420.6 440.9 420.6 438.2 420.6 435.5C420.6 432.8 420.6 430.0 420.6 427.4C420.6 424.8 420.7 421.7 420.6 420.1C420.6 418.4 420.7 418.7 420.5 417.7C420.3 416.7 420.0 415.2 419.6 414.1C419.2 413.0 418.8 412.1 418.1 411.2C417.5 410.2 416.4 409.2 415.9 408.2C415.4 407.2 415.0 406.1 415.0 404.9C415.0 403.8 415.4 402.5 416.0 401.5C416.6 400.5 417.5 399.7 418.4 399.2C419.4 398.7 420.5 398.4 421.5 398.4C422.5 398.4 423.6 398.7 424.6 399.2C425.5 399.7 426.4 400.5 427.0 401.5C427.6 402.5 428.0 403.8 428.0 404.9C428.0 406.1 427.6 407.2 427.1 408.2C426.6 409.2 425.5 410.2 424.9 411.2C424.2 412.1 423.8 413.0 423.4 414.1C423.0 415.2 422.7 416.7 422.5 417.7C422.3 418.7 422.4 418.4 422.4 420.1C422.3 421.7 422.4 424.8 422.4 427.4C422.4 430.0 422.4 432.8 422.4 435.5C422.4 438.2 422.4 440.9 422.4 443.6C422.4 446.3 421.9 448.6 422.4 451.7C422.9 454.8 424.8 460.0 425.3 462.3C425.9 464.5 425.6 464.2 425.7 465.2C425.8 466.1 425.8 467.2 426.0 468.1C426.1 469.0 426.2 470.0 426.7 470.6C427.1 471.1 428.0 471.4 428.6 471.4C429.3 471.4 430.1 471.1 430.6 470.6C431.0 470.0 431.1 469.0 431.3 468.1C431.4 467.2 431.4 466.1 431.5 465.2C431.6 464.2 431.4 464.5 431.9 462.3C432.5 460.0 434.4 454.8 434.9 451.7C435.3 448.6 434.9 446.3 434.9 443.6C434.9 440.9 434.9 438.2 434.9 435.5C434.9 432.8 434.8 430.0 434.9 427.4C434.9 424.8 434.9 421.7 434.9 420.1C434.9 418.4 434.9 418.7 434.7 417.7C434.6 416.7 434.3 415.2 433.9 414.1C433.5 413.0 433.0 412.1 432.4 411.2C431.7 410.2 430.6 409.2 430.1 408.2C429.6 407.2 429.2 406.1 429.2 404.9C429.3 403.8 429.7 402.5 430.2 401.5C430.8 400.5 431.8 399.7 432.7 399.2C433.6 398.7 434.7 398.4 435.8 398.4C436.8 398.4 437.9 398.7 438.8 399.2C439.7 399.7 440.7 400.5 441.3 401.5C441.8 402.5 442.2 403.8 442.2 404.9C442.3 406.1 441.9 407.2 441.4 408.2C440.9 409.2 439.8 410.2 439.1 411.2C438.5 412.1 438.0 413.0 437.6 414.1C437.2 415.2 436.9 416.7 436.8 417.7C436.6 418.7 436.6 418.4 436.6 420.1C436.6 421.7 436.6 424.8 436.6 427.4C436.7 430.0 436.6 432.8 436.6 435.5C436.6 438.2 436.6 440.9 436.6 443.6C436.6 446.3 436.2 448.8 436.6 451.7C437.1 454.6 438.8 459.0 439.2 461.1C439.7 463.3 439.5 463.5 439.6 464.7C439.7 465.9 439.7 467.3 439.8 468.2C440.0 469.2 440.1 470.0 440.5 470.5C440.9 471.1 441.7 471.3 442.3 471.3C442.9 471.3 443.7 471.1 444.1 470.5C444.5 470.0 444.6 469.2 444.7 468.2C444.8 467.2 444.8 465.8 444.9 464.6C445.0 463.4 444.8 463.1 445.3 460.9C445.8 458.7 447.5 454.4 447.9 451.5C448.3 448.6 447.9 446.1 447.9 443.4C447.9 440.7 447.9 438.0 447.9 435.3C447.9 432.6 447.9 429.8 447.9 427.2C447.9 424.6 448.0 421.4 447.9 419.8C447.9 418.2 448.0 418.4 447.8 417.5C447.6 416.5 447.3 415.0 446.9 413.9C446.5 412.8 446.1 411.9 445.4 410.9C444.8 410.0 443.7 409.0 443.2 408.0C442.7 406.9 442.3 405.8 442.3 404.7C442.3 403.6 442.7 402.2 443.3 401.3C443.9 400.3 444.8 399.5 445.7 399.0C446.7 398.5 447.8 398.2 448.8 398.2C449.8 398.2 450.9 398.5 451.9 399.0C452.8 399.5 453.7 400.3 454.3 401.3C454.9 402.2 455.3 403.6 455.3 404.7C455.3 405.8 454.9 406.9 454.4 408.0C453.9 409.0 452.8 410.0 452.2 410.9C451.5 411.9 451.1 412.8 450.7 413.9C450.3 415.0 450.0 416.5 449.8 417.5C449.6 418.4 449.7 418.2 449.7 419.8C449.6 421.4 449.7 424.6 449.7 427.2C449.7 429.8 449.7 432.6 449.7 435.3C449.7 438.0 449.7 440.7 449.7 443.4C449.7 446.1 449.2 448.5 449.7 451.5C450.2 454.5 451.9 459.3 452.5 461.5C453.0 463.7 452.8 463.6 452.9 464.7C453.0 465.7 452.9 466.9 453.1 467.8C453.3 468.7 453.3 469.7 453.8 470.2C454.2 470.8 455.0 471.1 455.6 471.1C456.3 471.1 457.1 470.8 457.5 470.2C458.0 469.7 458.0 468.8 458.2 467.8C458.4 466.8 458.3 465.6 458.4 464.5C458.5 463.4 458.3 463.4 458.8 461.2C459.4 459.0 461.1 454.2 461.6 451.1C462.1 448.1 461.6 445.7 461.6 443.0C461.6 440.3 461.6 437.6 461.6 434.9C461.6 432.2 461.6 429.4 461.6 426.8C461.6 424.3 461.7 421.1 461.6 419.5C461.6 417.9 461.7 418.1 461.5 417.1C461.3 416.1 461.0 414.6 460.6 413.6C460.2 412.5 459.8 411.6 459.1 410.6C458.5 409.6 457.4 408.7 456.9 407.6C456.4 406.6 456.0 405.5 456.0 404.4C456.0 403.3 456.4 401.9 457.0 400.9C457.6 400.0 458.5 399.2 459.4 398.6C460.4 398.1 461.5 397.9 462.5 397.9C463.5 397.9 464.6 398.1 465.6 398.6C466.5 399.2 467.4 400.0 468.0 400.9C468.6 401.9 469.0 403.3 469.0 404.4C469.0 405.5 468.6 406.6 468.1 407.6C467.6 408.7 466.5 409.6 465.9 410.6C465.2 411.6 464.8 412.5 464.4 413.6C464.0 414.6 463.7 416.1 463.5 417.1C463.3 418.1 463.4 417.9 463.4 419.5C463.3 421.1 463.4 424.3 463.4 426.8C463.4 429.4 463.4 432.2 463.4 434.9C463.4 437.6 463.4 440.3 463.4 443.0C463.4 445.7 462.9 447.9 463.4 451.1C463.9 454.4 465.9 460.1 466.5 462.4C467.1 464.7 466.8 464.0 466.9 464.8C467.1 465.6 467.0 466.3 467.2 467.1C467.4 468.0 467.5 469.2 467.9 469.8C468.4 470.4 469.3 470.7 470.0 470.7C470.7 470.7 471.6 470.4 472.1 469.8C472.5 469.2 472.6 468.0 472.8 467.1C473.0 466.3 472.9 465.4 473.1 464.6C473.2 463.7 472.9 464.3 473.5 462.0C474.1 459.7 476.1 454.0 476.6 450.8C477.1 447.5 476.6 445.4 476.6 442.7C476.6 440.0 476.6 437.3 476.6 434.6C476.6 431.9 476.6 429.0 476.6 426.5C476.6 423.9 476.7 420.7 476.6 419.1C476.6 417.5 476.7 417.7 476.5 416.7C476.3 415.8 476.0 414.3 475.6 413.2C475.2 412.1 474.8 411.2 474.1 410.2C473.5 409.2 472.4 408.3 471.9 407.3C471.4 406.2 471.0 405.1 471.0 404.0C471.0 402.9 471.4 401.5 472.0 400.6C472.6 399.6 473.5 398.8 474.4 398.3C475.4 397.8 476.5 397.5 477.5 397.5C478.5 397.5 479.6 397.8 480.6 398.3C481.5 398.8 482.4 399.6 483.0 400.6C483.6 401.5 484.0 402.9 484.0 404.0C484.0 405.1 483.6 406.2 483.1 407.3C482.6 408.3 481.5 409.2 480.9 410.2C480.2 411.2 479.8 412.1 479.4 413.2C479.0 414.3 478.7 415.8 478.5 416.7C478.3 417.7 478.4 417.5 478.4 419.1C478.3 420.7 478.4 423.9 478.4 426.5C478.4 429.0 478.4 431.9 478.4 434.6C478.4 437.3 478.4 440.0 478.4 442.7C478.4 445.4 477.9 447.6 478.4 450.8C478.9 453.9 480.9 459.4 481.5 461.7C482.0 463.9 481.8 463.4 481.9 464.3C482.0 465.1 482.0 466.0 482.1 466.9C482.3 467.7 482.4 468.9 482.9 469.5C483.3 470.0 484.2 470.3 484.9 470.3C485.6 470.3 486.4 470.0 486.9 469.4C487.3 468.9 487.4 467.7 487.6 466.8C487.8 466.0 487.7 465.0 487.8 464.1C488.0 463.2 487.7 463.6 488.2 461.3C488.8 459.1 490.7 453.6 491.2 450.4C491.7 447.2 491.2 445.0 491.2 442.3C491.2 439.6 491.1 436.9 491.1 434.2C491.1 431.5 491.1 428.7 491.1 426.1C491.1 423.5 491.1 420.4 491.1 418.8C491.0 417.1 491.1 417.4 490.9 416.4C490.7 415.4 490.4 413.9 490.0 412.8C489.6 411.8 489.1 410.9 488.5 409.9C487.8 408.9 486.7 408.0 486.2 406.9C485.7 405.9 485.3 404.8 485.3 403.7C485.3 402.6 485.7 401.2 486.3 400.3C486.8 399.3 487.8 398.5 488.7 397.9C489.6 397.4 490.7 397.2 491.8 397.2C492.8 397.1 493.9 397.4 494.8 397.9C495.7 398.4 496.7 399.2 497.3 400.2C497.9 401.1 498.3 402.5 498.3 403.6C498.3 404.7 498.0 405.8 497.5 406.9C496.9 407.9 495.8 408.9 495.2 409.8C494.6 410.8 494.1 411.7 493.7 412.8C493.3 413.9 493.1 415.4 492.9 416.4C492.7 417.4 492.8 417.1 492.8 418.8C492.8 420.4 492.8 423.5 492.9 426.1C492.9 428.7 492.9 431.5 492.9 434.2C492.9 436.9 493.0 439.6 493.0 442.3C493.0 445.0 492.6 447.6 493.0 450.4C493.5 453.2 495.0 457.2 495.5 459.1C496.0 461.1 495.8 461.0 495.9 462.0C496.0 463.0 496.0 464.0 496.2 464.9C496.3 465.8 496.4 466.7 496.8 467.3C497.3 467.8 498.1 468.1 498.7 468.0C499.3 468.0 500.1 467.8 500.5 467.2C500.9 466.7 501.0 466.1 501.1 464.9C501.3 463.6 501.2 461.6 501.3 459.9C501.4 458.3 501.2 457.3 501.6 455.0C502.1 452.7 503.5 449.0 503.9 446.2C504.2 443.4 503.8 440.8 503.8 438.1C503.7 435.4 503.7 432.7 503.7 430.0C503.6 427.3 503.6 424.4 503.5 421.9C503.5 419.3 503.5 416.1 503.5 414.5C503.4 412.9 503.5 413.1 503.3 412.1C503.1 411.1 502.8 409.7 502.4 408.6C502.0 407.5 501.5 406.6 500.8 405.6C500.2 404.6 499.1 403.7 498.5 402.7C498.0 401.7 497.6 400.6 497.6 399.4C497.6 398.3 498.0 397.0 498.5 396.0C499.1 395.0 500.1 394.2 501.0 393.7C501.9 393.1 503.0 392.9 504.0 392.8C505.0 392.8 506.1 393.1 507.1 393.6C508.0 394.1 509.0 394.9 509.6 395.8C510.2 396.8 510.6 398.1 510.6 399.3C510.6 400.4 510.3 401.5 509.8 402.5C509.3 403.6 508.2 404.5 507.6 405.5C507.0 406.5 506.5 407.4 506.1 408.5C505.7 409.6 505.5 411.1 505.3 412.1C505.2 413.1 505.2 412.9 505.2 414.5C505.2 416.1 505.3 419.3 505.3 421.8C505.4 424.4 505.4 427.2 505.5 430.0C505.5 432.7 505.5 435.4 505.6 438.1C505.6 440.8 505.2 443.3 505.7 446.2C506.2 449.1 507.9 453.3 508.4 455.4C508.9 457.6 508.7 457.8 508.9 459.1C509.0 460.3 509.0 461.7 509.1 462.7C509.3 463.6 509.4 464.4 509.8 464.9C510.2 465.4 511.0 465.7 511.6 465.7C512.2 465.7 513.0 465.4 513.4 464.9C513.7 464.3 513.8 463.6 514.0 462.6C514.1 461.6 514.0 460.1 514.1 458.8C514.2 457.6 514.0 457.2 514.4 455.1C514.9 452.9 516.4 448.6 516.8 445.7C517.2 442.8 516.7 440.3 516.6 437.5C516.6 434.8 516.5 432.1 516.4 429.4C516.4 426.7 516.3 423.8 516.3 421.2C516.2 418.6 516.2 415.4 516.1 413.8C516.1 412.2 516.1 412.4 515.9 411.4C515.7 410.4 515.4 408.9 515.0 407.8C514.6 406.7 514.1 405.8 513.4 404.9C512.8 403.9 511.6 402.9 511.1 401.9C510.6 400.9 510.2 399.8 510.2 398.7C510.2 397.6 510.5 396.2 511.1 395.2C511.6 394.2 512.6 393.4 513.5 392.9C514.4 392.3 515.5 392.1 516.5 392.0C517.5 392.0 518.7 392.2 519.6 392.7C520.5 393.2 521.5 394.0 522.1 395.0C522.7 395.9 523.1 397.3 523.2 398.4C523.2 399.5 522.9 400.6 522.4 401.7C521.9 402.7 520.8 403.7 520.2 404.7C519.6 405.7 519.1 406.6 518.7 407.7C518.4 408.8 518.1 410.4 518.0 411.4C517.8 412.4 517.8 412.1 517.9 413.8C517.9 415.4 518.0 418.6 518.1 421.2C518.1 423.8 518.2 426.6 518.2 429.3C518.3 432.1 518.4 434.8 518.4 437.5C518.5 440.2 518.0 442.5 518.6 445.7C519.2 448.8 521.3 454.3 521.9 456.6C522.6 458.8 522.3 458.3 522.4 459.2C522.6 460.1 522.6 461.0 522.7 461.9C522.9 462.7 523.1 463.9 523.5 464.4C524.0 465.0 524.9 465.3 525.6 465.3C526.2 465.3 527.1 464.9 527.6 464.3C528.0 463.7 528.1 462.6 528.2 461.7C528.4 460.8 528.3 460.0 528.4 459.1C528.5 458.2 528.2 458.8 528.8 456.5C529.3 454.2 531.1 448.6 531.5 445.4C531.9 442.2 531.3 440.0 531.3 437.2C531.2 434.5 531.1 431.7 531.0 429.0C530.9 426.3 530.8 423.4 530.8 420.8C530.7 418.2 530.7 415.0 530.6 413.3C530.5 411.7 530.6 411.9 530.4 410.9C530.2 409.9 529.8 408.4 529.4 407.3C529.0 406.2 528.4 405.3 527.8 404.3C527.1 403.3 526.0 402.4 525.4 401.3C524.9 400.3 524.5 399.2 524.5 398.1C524.5 397.0 524.8 395.6 525.4 394.6C525.9 393.7 526.8 392.8 527.7 392.3C528.6 391.7 529.8 391.4 530.8 391.4C531.8 391.4 532.9 391.6 533.8 392.1C534.8 392.6 535.8 393.4 536.4 394.3C537.0 395.2 537.4 396.6 537.5 397.7C537.5 398.8 537.2 399.9 536.7 401.0C536.2 402.0 535.1 403.1 534.5 404.1C533.9 405.1 533.5 406.0 533.1 407.2C532.8 408.3 532.5 409.8 532.4 410.8C532.2 411.9 532.3 411.6 532.3 413.3C532.3 414.9 532.5 418.1 532.6 420.7C532.7 423.3 532.7 426.2 532.8 428.9C532.9 431.7 533.0 434.4 533.1 437.2C533.1 439.9 532.7 442.2 533.3 445.4C533.9 448.6 536.1 454.0 536.7 456.2C537.4 458.5 537.1 458.0 537.3 458.9C537.4 459.8 537.4 460.7 537.6 461.6C537.8 462.5 537.9 463.6 538.4 464.2C538.9 464.7 539.8 465.0 540.5 465.0C541.1 465.0 542.0 464.6 542.4 464.0C542.9 463.4 542.9 462.3 543.1 461.4C543.2 460.5 543.2 459.7 543.2 458.8C543.3 458.0 543.1 458.5 543.6 456.2C544.1 454.0 545.8 448.4 546.2 445.2C546.6 441.9 546.0 439.6 545.9 436.9C545.8 434.1 545.7 431.4 545.6 428.6C545.5 425.9 545.4 423.0 545.3 420.4C545.2 417.7 545.1 414.5 545.0 412.9C544.9 411.2 545.0 411.4 544.8 410.4C544.6 409.4 544.2 407.9 543.8 406.8C543.4 405.6 542.8 404.7 542.2 403.7C541.5 402.7 540.3 401.8 539.8 400.8C539.2 399.7 538.8 398.7 538.8 397.5C538.8 396.4 539.1 395.0 539.6 394.1C540.2 393.1 541.1 392.2 542.0 391.7C542.9 391.1 544.0 390.8 545.0 390.8C546.0 390.8 547.2 391.0 548.1 391.4C549.0 391.9 550.0 392.7 550.7 393.6C551.3 394.6 551.7 395.9 551.8 397.0C551.8 398.1 551.5 399.2 551.0 400.3C550.6 401.4 549.5 402.4 548.9 403.5C548.3 404.5 547.9 405.5 547.5 406.6C547.2 407.7 546.9 409.3 546.8 410.3C546.7 411.4 546.7 411.1 546.7 412.8C546.8 414.5 547.0 417.7 547.1 420.3C547.2 422.9 547.3 425.8 547.4 428.6C547.5 431.3 547.6 434.1 547.7 436.8C547.8 439.6 547.5 442.2 548.0 445.1C548.6 448.0 550.4 452.1 551.0 454.3C551.6 456.4 551.4 456.8 551.5 458.0C551.7 459.3 551.7 460.8 551.9 461.8C552.1 462.8 552.2 463.5 552.6 464.0C553.0 464.5 553.8 464.8 554.4 464.7C555.0 464.7 555.8 464.4 556.2 463.9C556.5 463.3 556.6 462.6 556.7 461.6C556.8 460.6 556.7 459.2 556.8 457.9C556.8 456.7 556.6 456.5 557.0 454.3C557.4 452.2 558.8 447.9 559.1 444.9C559.4 442.0 558.9 439.4 558.8 436.6C558.6 433.8 558.5 431.1 558.4 428.3C558.3 425.5 558.1 422.6 558.0 420.0C557.9 417.4 557.8 414.1 557.7 412.4C557.6 410.8 557.6 411.0 557.4 410.0C557.2 408.9 556.9 407.4 556.4 406.3C556.0 405.2 555.4 404.3 554.8 403.2C554.1 402.2 552.9 401.3 552.4 400.2C551.8 399.2 551.4 398.2 551.3 397.0C551.3 395.9 551.6 394.5 552.2 393.6C552.7 392.6 553.6 391.7 554.5 391.1C555.4 390.6 556.5 390.3 557.5 390.2C558.6 390.2 559.7 390.4 560.6 390.9C561.6 391.3 562.6 392.1 563.2 393.0C563.8 394.0 564.3 395.3 564.3 396.4C564.4 397.6 564.1 398.6 563.6 399.7C563.1 400.8 562.1 401.9 561.5 402.9C560.9 404.0 560.5 405.0 560.1 406.1C559.8 407.3 559.6 408.8 559.4 409.9C559.3 410.9 559.3 410.7 559.4 412.4C559.5 414.0 559.7 417.3 559.8 419.9C559.9 422.6 560.1 425.5 560.2 428.2C560.3 431.0 560.4 433.8 560.6 436.5C560.7 439.3 560.4 441.9 560.9 444.8C561.5 447.8 563.5 452.1 564.1 454.3C564.7 456.5 564.5 456.8 564.7 458.0C564.8 459.3 564.9 460.7 565.1 461.7C565.3 462.7 565.4 463.5 565.8 464.0C566.3 464.5 567.1 464.8 567.7 464.8C568.3 464.7 569.1 464.4 569.5 463.9C569.9 463.3 569.9 462.4 570.0 461.5C570.1 460.5 570.0 459.3 570.1 458.2C570.1 457.2 569.9 457.2 570.3 455.0C570.7 452.8 572.2 448.2 572.5 445.2C572.8 442.2 572.2 439.7 572.0 436.9C571.8 434.1 571.7 431.3 571.5 428.5C571.4 425.7 571.2 422.8 571.1 420.2C570.9 417.5 570.8 414.3 570.7 412.6C570.6 410.9 570.6 411.0 570.4 410.0C570.2 408.9 569.9 407.3 569.4 406.1C569.0 404.9 568.4 404.0 567.8 402.9C567.1 401.9 566.0 400.8 565.5 399.8C564.9 398.7 564.5 397.8 564.5 396.7C564.4 395.7 564.7 394.4 565.2 393.4C565.7 392.5 566.6 391.7 567.4 391.1C568.3 390.6 569.3 390.3 570.3 390.2C571.3 390.2 572.3 390.4 573.2 390.8C574.1 391.2 575.1 392.0 575.7 392.8C576.3 393.7 576.7 395.0 576.8 396.1C576.9 397.1 576.6 398.1 576.1 399.2C575.7 400.3 574.7 401.4 574.2 402.6C573.7 403.7 573.2 404.7 572.9 405.9C572.6 407.1 572.4 408.8 572.4 409.9C572.3 410.9 572.3 410.8 572.4 412.5C572.5 414.2 572.7 417.4 572.9 420.1C573.0 422.7 573.2 425.6 573.3 428.4C573.5 431.2 573.6 434.0 573.8 436.8C574.0 439.6 573.7 442.3 574.3 445.1C574.8 448.0 576.7 451.8 577.3 453.9C577.9 456.1 577.7 456.6 577.9 458.0C578.1 459.3 578.1 461.0 578.3 462.0C578.5 463.1 578.7 463.8 579.1 464.2C579.5 464.7 580.3 464.9 580.9 464.9C581.4 464.8 582.2 464.5 582.5 464.0C582.9 463.5 582.9 462.8 583.0 461.8C583.1 460.8 583.0 459.3 583.0 458.0C583.0 456.8 582.8 456.5 583.1 454.3C583.5 452.2 584.8 448.1 585.0 445.2C585.3 442.3 584.7 439.6 584.5 436.8C584.3 434.0 584.1 431.2 583.9 428.4C583.8 425.6 583.6 422.7 583.4 420.0C583.2 417.4 583.0 414.1 582.9 412.4C582.8 410.7 582.9 410.8 582.7 409.6C582.5 408.5 582.1 406.8 581.7 405.6C581.2 404.3 580.7 403.3 580.1 402.2C579.5 401.1 578.4 399.9 577.9 398.9C577.3 397.9 577.0 397.1 576.9 396.1C576.9 395.1 577.1 393.9 577.6 393.0C578.0 392.1 578.9 391.3 579.6 390.8C580.4 390.3 581.4 390.0 582.3 389.9C583.2 389.9 584.2 390.0 585.1 390.4C585.9 390.8 586.8 391.5 587.4 392.3C587.9 393.1 588.4 394.3 588.4 395.3C588.5 396.3 588.3 397.2 587.9 398.3C587.5 399.3 586.6 400.6 586.1 401.8C585.6 403.0 585.2 404.1 585.0 405.3C584.7 406.6 584.6 408.4 584.5 409.5C584.4 410.7 584.5 410.5 584.6 412.3C584.7 414.0 585.0 417.2 585.2 419.9C585.4 422.6 585.5 425.5 585.7 428.3C585.9 431.1 586.1 433.9 586.3 436.7C586.5 439.5 586.2 442.2 586.8 445.1C587.4 448.0 589.3 451.7 589.9 453.9C590.6 456.0 590.4 456.6 590.6 457.9C590.8 459.3 590.9 460.9 591.1 462.0C591.3 463.0 591.4 463.7 591.9 464.1C592.3 464.6 593.1 464.8 593.6 464.8C594.2 464.7 594.9 464.4 595.3 463.9C595.6 463.4 595.7 462.6 595.8 461.6C595.8 460.6 595.7 459.2 595.7 457.9C595.7 456.7 595.5 456.3 595.8 454.2C596.1 452.0 597.4 448.0 597.6 445.1C597.8 442.1 597.2 439.4 597.0 436.6C596.8 433.8 596.6 431.0 596.3 428.2C596.1 425.4 595.9 422.4 595.7 419.7C595.5 417.1 595.3 413.8 595.2 412.0C595.0 410.3 595.2 410.4 595.0 409.2C594.8 408.0 594.4 406.2 593.9 404.9C593.5 403.6 593.0 402.5 592.4 401.4C591.8 400.2 590.8 398.9 590.3 397.9C589.8 396.9 589.4 396.2 589.3 395.3C589.3 394.3 589.5 393.2 589.9 392.3C590.4 391.5 591.1 390.8 591.8 390.3C592.6 389.8 593.5 389.5 594.3 389.5C595.1 389.4 596.1 389.6 596.9 389.9C597.7 390.3 598.5 390.9 599.1 391.7C599.6 392.4 600.0 393.5 600.1 394.4C600.2 395.4 599.9 396.1 599.6 397.2C599.2 398.3 598.4 399.7 598.0 400.9C597.6 402.2 597.2 403.3 597.0 404.6C596.8 406.0 596.7 407.8 596.6 409.0C596.6 410.2 596.7 410.2 596.9 411.9C597.0 413.7 597.3 416.9 597.5 419.6C597.7 422.3 597.9 425.2 598.1 428.0C598.3 430.9 598.6 433.7 598.8 436.5C599.0 439.3 598.7 441.9 599.4 444.9C600.1 447.9 602.2 452.3 602.9 454.4C603.6 456.6 603.3 456.7 603.5 457.9C603.7 459.0 603.8 460.4 604.1 461.3C604.3 462.3 604.4 463.2 604.9 463.6C605.4 464.1 606.2 464.4 606.8 464.3C607.4 464.3 608.2 463.9 608.6 463.4C608.9 462.8 608.9 461.9 609.0 460.9C609.1 460.0 609.0 458.7 609.0 457.6C609.0 456.5 608.8 456.5 609.1 454.3C609.4 452.1 610.8 447.4 611.0 444.3C611.2 441.3 610.5 438.7 610.3 435.9C610.0 433.0 609.8 430.2 609.5 427.4C609.3 424.5 609.0 421.6 608.8 418.9C608.6 416.2 608.3 412.9 608.2 411.1C608.0 409.4 608.2 409.4 608.0 408.2C607.8 406.9 607.3 405.1 606.9 403.7C606.5 402.4 606.0 401.3 605.4 400.1C604.8 398.9 603.8 397.5 603.3 396.5C602.8 395.5 602.4 394.9 602.4 394.0C602.3 393.1 602.5 392.0 602.9 391.2C603.3 390.4 604.0 389.7 604.7 389.3C605.4 388.8 606.3 388.5 607.1 388.4C607.9 388.4 608.8 388.5 609.5 388.8C610.3 389.2 611.1 389.8 611.6 390.5C612.1 391.2 612.5 392.3 612.6 393.1C612.7 394.0 612.5 394.7 612.2 395.8C611.8 396.8 611.1 398.4 610.7 399.6C610.3 400.9 610.0 402.1 609.8 403.5C609.6 404.9 609.6 406.8 609.6 408.0C609.6 409.3 609.7 409.2 609.9 411.0C610.0 412.8 610.3 416.0 610.6 418.7C610.8 421.4 611.1 424.4 611.3 427.2C611.6 430.0 611.8 432.9 612.0 435.7C612.3 438.5 612.1 441.2 612.8 444.2C613.5 447.2 615.6 451.5 616.3 453.6C617.1 455.8 616.8 455.9 617.0 457.1C617.2 458.2 617.3 459.6 617.6 460.6C617.8 461.5 618.0 462.4 618.5 462.9C618.9 463.3 619.7 463.6 620.4 463.5C621.0 463.4 621.7 463.1 622.1 462.5C622.5 462.0 622.5 461.1 622.6 460.1C622.6 459.1 622.5 457.9 622.5 456.8C622.5 455.7 622.2 455.6 622.6 453.4C622.9 451.2 624.2 446.6 624.3 443.5C624.5 440.4 623.8 437.8 623.5 434.9C623.2 432.1 623.0 429.3 622.7 426.4C622.4 423.6 622.1 420.6 621.9 417.9C621.6 415.2 621.3 411.9 621.2 410.1C621.0 408.3 621.2 408.3 620.9 407.0C620.7 405.8 620.3 403.9 619.8 402.5C619.4 401.2 618.9 400.1 618.3 398.9C617.7 397.6 616.7 396.2 616.2 395.2C615.7 394.2 615.4 393.6 615.3 392.8C615.2 391.9 615.4 390.8 615.8 390.0C616.2 389.3 616.9 388.5 617.5 388.1C618.2 387.6 619.0 387.3 619.8 387.3C620.6 387.2 621.5 387.3 622.2 387.6C623.0 388.0 623.8 388.5 624.3 389.2C624.8 389.9 625.2 390.9 625.3 391.8C625.4 392.7 625.2 393.3 624.9 394.4C624.6 395.5 623.9 397.0 623.5 398.4C623.2 399.7 622.9 400.8 622.7 402.3C622.5 403.7 622.5 405.6 622.5 406.9C622.5 408.2 622.7 408.1 622.9 409.9C623.1 411.7 623.4 415.0 623.7 417.7C623.9 420.4 624.2 423.4 624.5 426.2C624.8 429.1 625.0 431.9 625.3 434.8C625.6 437.6 625.4 440.3 626.1 443.3C626.9 446.3 629.1 450.6 629.8 452.8C630.5 454.9 630.3 455.0 630.5 456.1C630.8 457.3 630.9 458.6 631.1 459.5C631.4 460.5 631.5 461.3 632.0 461.8C632.5 462.3 633.3 462.5 633.9 462.4C634.5 462.4 635.3 462.0 635.7 461.4C636.0 460.9 636.0 460.0 636.1 459.0C636.1 458.0 636.0 456.8 636.0 455.6C636.0 454.5 635.7 454.5 636.0 452.3C636.3 450.0 637.6 445.4 637.7 442.3C637.8 439.2 637.1 436.6 636.8 433.7C636.5 430.8 636.2 428.0 635.9 425.1C635.6 422.3 635.2 419.3 635.0 416.5C634.7 413.8 634.3 410.5 634.2 408.7C634.0 406.9 634.2 406.9 633.9 405.6C633.7 404.3 633.2 402.4 632.8 401.0C632.3 399.6 631.8 398.5 631.2 397.3C630.6 396.0 629.6 394.6 629.1 393.6C628.6 392.6 628.3 392.0 628.2 391.2C628.1 390.3 628.3 389.3 628.7 388.5C629.0 387.7 629.7 387.0 630.3 386.6C631.0 386.1 631.8 385.8 632.6 385.7C633.3 385.7 634.2 385.8 634.9 386.1C635.7 386.4 636.5 386.9 637.0 387.6C637.5 388.3 637.9 389.3 638.0 390.1C638.1 391.0 637.9 391.6 637.6 392.7C637.3 393.8 636.7 395.4 636.3 396.7C636.0 398.1 635.7 399.3 635.6 400.7C635.5 402.2 635.4 404.1 635.5 405.4C635.5 406.7 635.7 406.7 635.9 408.5C636.1 410.3 636.5 413.6 636.8 416.4C637.1 419.1 637.4 422.1 637.7 424.9C638.0 427.8 638.3 430.6 638.6 433.5C638.9 436.4 638.7 439.0 639.5 442.1C640.3 445.2 642.8 450.0 643.6 452.2C644.4 454.4 644.1 454.2 644.3 455.2C644.5 456.2 644.6 457.3 644.9 458.2C645.1 459.1 645.3 460.1 645.8 460.6C646.3 461.1 647.2 461.3 647.9 461.2C648.5 461.1 649.3 460.7 649.7 460.1C650.1 459.5 650.1 458.5 650.1 457.6C650.2 456.7 650.1 455.7 650.1 454.7C650.1 453.8 649.8 454.1 650.1 451.9C650.4 449.6 651.7 444.3 651.9 441.1C652.0 437.9 651.2 435.4 650.8 432.5C650.5 429.6 650.2 426.7 649.8 423.9C649.5 421.0 649.1 418.0 648.8 415.2C648.5 412.5 648.1 409.2 647.9 407.3C647.7 405.5 647.9 405.5 647.7 404.2C647.4 402.9 646.9 400.9 646.5 399.5C646.0 398.1 645.5 396.9 644.9 395.7C644.3 394.4 643.3 392.9 642.8 391.9C642.3 390.9 641.9 390.4 641.9 389.6C641.8 388.8 641.9 387.7 642.3 387.0C642.6 386.2 643.3 385.5 643.9 385.1C644.5 384.6 645.3 384.3 646.1 384.2C646.8 384.2 647.7 384.2 648.4 384.5C649.1 384.8 649.9 385.4 650.4 386.0C650.9 386.7 651.3 387.7 651.4 388.5C651.6 389.3 651.3 389.9 651.1 391.0C650.8 392.1 650.2 393.7 649.9 395.1C649.6 396.5 649.4 397.7 649.2 399.2C649.1 400.7 649.1 402.7 649.2 404.0C649.2 405.3 649.4 405.3 649.6 407.1C649.9 409.0 650.3 412.3 650.6 415.0C650.9 417.8 651.3 420.8 651.6 423.6C652.0 426.5 652.3 429.4 652.6 432.3C653.0 435.1 653.2 439.4 653.6 440.9C654.1 442.4 655.0 440.0 655.5 441.0C656.0 442.0 656.4 445.2 656.8 447.0C657.1 448.8 657.4 450.3 657.6 452.0C657.8 453.7 658.1 456.2 658.2 457.0" fill="none" stroke="#000" stroke-width="1.60" stroke-linecap="round" stroke-linejoin="round"/>
<path d="M144.1 411.0C144.2 411.5 144.9 413.1 144.9 414.2C144.9 415.2 144.1 416.3 144.1 417.4C144.1 418.4 144.9 419.5 144.9 420.6C144.9 421.6 144.1 422.7 144.1 423.8C144.1 424.8 144.9 425.9 144.9 427.0C144.9 428.1 144.1 429.1 144.1 430.2C144.1 431.3 144.9 432.3 144.9 433.4C144.9 434.5 144.1 435.5 144.1 436.6C144.1 437.7 144.8 439.3 144.9 439.8" fill="none" stroke="#000" stroke-width="3.29" stroke-linecap="round" stroke-linejoin="round"/>
<path d="M155.4 411.6C155.5 412.1 156.2 413.8 156.2 414.8C156.2 415.9 155.4 417.0 155.4 418.0C155.4 419.1 156.2 420.2 156.2 421.3C156.2 422.3 155.4 423.4 155.4 424.5C155.4 425.6 156.2 426.6 156.2 427.7C156.2 428.8 155.4 429.8 155.4 430.9C155.4 432.0 156.2 433.1 156.2 434.1C156.2 435.2 155.4 436.3 155.4 437.4C155.4 438.4 156.1 440.0 156.2 440.6" fill="none" stroke="#000" stroke-width="3.28" stroke-linecap="round" stroke-linejoin="round"/>
<path d="M167.1 412.3C167.2 412.8 167.9 414.4 167.9 415.5C167.9 416.6 167.1 417.7 167.1 418.7C167.1 419.8 167.9 420.9 167.9 422.0C167.9 423.1 167.1 424.1 167.1 425.2C167.1 426.3 167.9 427.4 167.9 428.4C167.9 429.5 167.1 430.6 167.1 431.7C167.1 432.8 167.9 433.8 167.9 434.9C167.9 436.0 167.1 437.1 167.1 438.1C167.1 439.2 167.8 440.8 167.9 441.4" fill="none" stroke="#000" stroke-width="3.27" stroke-linecap="round" stroke-linejoin="round"/>
<path d="M178.8 412.9C178.9 413.5 179.6 415.1 179.6 416.2C179.6 417.3 178.8 418.4 178.8 419.4C178.8 420.5 179.6 421.6 179.6 422.7C179.6 423.8 178.8 424.9 178.8 425.9C178.8 427.0 179.6 428.1 179.6 429.2C179.6 430.3 178.8 431.3 178.8 432.4C178.8 433.5 179.6 434.6 179.6 435.7C179.6 436.8 178.8 437.8 178.8 438.9C178.8 440.0 179.5 441.6 179.6 442.2" fill="none" stroke="#000" stroke-width="3.25" stroke-linecap="round" stroke-linejoin="round"/>
<path d="M190.3 413.6C190.5 414.2 191.2 415.8 191.2 416.9C191.2 418.0 190.3 419.0 190.3 420.1C190.3 421.2 191.2 422.3 191.2 423.4C191.2 424.5 190.3 425.6 190.3 426.7C190.3 427.7 191.2 428.8 191.2 429.9C191.2 431.0 190.3 432.1 190.3 433.2C190.3 434.3 191.2 435.4 191.2 436.4C191.2 437.5 190.3 438.6 190.3 439.7C190.3 440.8 191.0 442.4 191.2 443.0" fill="none" stroke="#000" stroke-width="3.24" stroke-linecap="round" stroke-linejoin="round"/>
<path d="M201.6 414.2C201.7 414.8 202.4 416.4 202.4 417.5C202.4 418.6 201.6 419.7 201.6 420.8C201.6 421.9 202.4 423.0 202.4 424.1C202.4 425.2 201.6 426.2 201.6 427.3C201.6 428.4 202.4 429.5 202.4 430.6C202.4 431.7 201.6 432.8 201.6 433.9C201.6 435.0 202.4 436.1 202.4 437.2C202.4 438.3 201.6 439.3 201.6 440.4C201.6 441.5 202.3 443.2 202.4 443.7" fill="none" stroke="#000" stroke-width="3.22" stroke-linecap="round" stroke-linejoin="round"/>
<path d="M213.2 414.8C213.4 415.4 214.1 417.0 214.1 418.1C214.1 419.2 213.2 420.3 213.2 421.4C213.2 422.5 214.1 423.6 214.1 424.7C214.1 425.8 213.2 426.9 213.2 428.0C213.2 429.1 214.1 430.2 214.1 431.3C214.1 432.3 213.2 433.4 213.2 434.5C213.2 435.6 214.1 436.7 214.1 437.8C214.1 438.9 213.2 440.0 213.2 441.1C213.2 442.2 214.0 443.9 214.1 444.4" fill="none" stroke="#000" stroke-width="3.21" stroke-linecap="round" stroke-linejoin="round"/>
<path d="M224.8 415.4C225.0 415.9 225.7 417.6 225.7 418.7C225.7 419.8 224.8 420.9 224.8 422.0C224.8 423.1 225.7 424.2 225.7 425.3C225.7 426.4 224.8 427.5 224.8 428.6C224.8 429.7 225.7 430.8 225.7 431.9C225.7 433.0 224.8 434.1 224.8 435.2C224.8 436.3 225.7 437.4 225.7 438.5C225.7 439.6 224.8 440.7 224.8 441.8C224.8 442.9 225.5 444.6 225.7 445.1" fill="none" stroke="#000" stroke-width="3.19" stroke-linecap="round" stroke-linejoin="round"/>
<path d="M236.1 415.9C236.2 416.5 236.9 418.1 236.9 419.2C236.9 420.3 236.1 421.5 236.1 422.6C236.1 423.7 236.9 424.8 236.9 425.9C236.9 427.0 236.1 428.1 236.1 429.2C236.1 430.3 236.9 431.4 236.9 432.5C236.9 433.6 236.1 434.7 236.1 435.8C236.1 436.9 236.9 438.0 236.9 439.1C236.9 440.2 236.1 441.4 236.1 442.5C236.1 443.6 236.8 445.2 236.9 445.8" fill="none" stroke="#000" stroke-width="3.18" stroke-linecap="round" stroke-linejoin="round"/>
<path d="M247.3 416.5C247.5 417.0 248.2 418.7 248.2 419.8C248.2 420.9 247.3 422.0 247.3 423.1C247.3 424.2 248.2 425.4 248.2 426.5C248.2 427.6 247.3 428.7 247.3 429.8C247.3 430.9 248.2 432.0 248.2 433.1C248.2 434.2 247.3 435.3 247.3 436.5C247.3 437.6 248.2 438.7 248.2 439.8C248.2 440.9 247.3 442.0 247.3 443.1C247.3 444.2 248.0 445.9 248.2 446.4" fill="none" stroke="#000" stroke-width="3.17" stroke-linecap="round" stroke-linejoin="round"/>
<path d="M259.6 416.9C259.7 417.5 260.4 419.2 260.4 420.3C260.4 421.4 259.6 422.5 259.6 423.6C259.6 424.7 260.4 425.9 260.4 427.0C260.4 428.1 259.6 429.2 259.6 430.3C259.6 431.4 260.4 432.5 260.4 433.7C260.4 434.8 259.6 435.9 259.6 437.0C259.6 438.1 260.4 439.2 260.4 440.4C260.4 441.5 259.6 442.6 259.6 443.7C259.6 444.8 260.3 446.5 260.4 447.0" fill="none" stroke="#000" stroke-width="3.15" stroke-linecap="round" stroke-linejoin="round"/>
<path d="M271.6 417.4C271.7 418.0 272.4 419.6 272.4 420.8C272.4 421.9 271.6 423.0 271.6 424.1C271.6 425.2 272.4 426.4 272.4 427.5C272.4 428.6 271.6 429.7 271.6 430.8C271.6 431.9 272.4 433.1 272.4 434.2C272.4 435.3 271.6 436.4 271.6 437.5C271.6 438.7 272.4 439.8 272.4 440.9C272.4 442.0 271.6 443.1 271.6 444.3C271.6 445.4 272.3 447.1 272.4 447.6" fill="none" stroke="#000" stroke-width="3.14" stroke-linecap="round" stroke-linejoin="round"/>
<path d="M283.6 417.9C283.7 418.4 284.4 420.1 284.4 421.2C284.4 422.3 283.6 423.5 283.6 424.6C283.6 425.7 284.4 426.8 284.4 428.0C284.4 429.1 283.6 430.2 283.6 431.3C283.6 432.5 284.4 433.6 284.4 434.7C284.4 435.8 283.6 437.0 283.6 438.1C283.6 439.2 284.4 440.3 284.4 441.4C284.4 442.6 283.6 443.7 283.6 444.8C283.6 445.9 284.3 447.6 284.4 448.2" fill="none" stroke="#000" stroke-width="3.12" stroke-linecap="round" stroke-linejoin="round"/>
<path d="M295.6 418.3C295.7 418.9 296.4 420.6 296.4 421.7C296.4 422.8 295.6 423.9 295.6 425.1C295.6 426.2 296.4 427.3 296.4 428.5C296.4 429.6 295.6 430.7 295.6 431.8C295.6 433.0 296.4 434.1 296.4 435.2C296.4 436.4 295.6 437.5 295.6 438.6C295.6 439.7 296.4 440.9 296.4 442.0C296.4 443.1 295.6 444.3 295.6 445.4C295.6 446.5 296.3 448.2 296.4 448.8" fill="none" stroke="#000" stroke-width="3.10" stroke-linecap="round" stroke-linejoin="round"/>
<path d="M309.1 418.8C309.2 419.3 309.9 421.0 309.9 422.2C309.9 423.3 309.1 424.4 309.1 425.6C309.1 426.7 309.9 427.8 309.9 429.0C309.9 430.1 309.1 431.2 309.1 432.4C309.1 433.5 309.9 434.6 309.9 435.8C309.9 436.9 309.1 438.0 309.1 439.2C309.1 440.3 309.9 441.4 309.9 442.6C309.9 443.7 309.1 444.8 309.1 446.0C309.1 447.1 309.8 448.8 309.9 449.4" fill="none" stroke="#000" stroke-width="3.09" stroke-linecap="round" stroke-linejoin="round"/>
<path d="M322.6 419.2C322.7 419.8 323.4 421.5 323.4 422.6C323.4 423.8 322.6 424.9 322.6 426.1C322.6 427.2 323.4 428.3 323.4 429.5C323.4 430.6 322.6 431.7 322.6 432.9C322.6 434.0 323.4 435.2 323.4 436.3C323.4 437.4 322.6 438.6 322.6 439.7C322.6 440.8 323.4 442.0 323.4 443.1C323.4 444.3 322.6 445.4 322.6 446.5C322.6 447.7 323.3 449.4 323.4 450.0" fill="none" stroke="#000" stroke-width="3.07" stroke-linecap="round" stroke-linejoin="round"/>
<path d="M336.3 419.7C336.4 420.3 337.2 422.0 337.2 423.1C337.2 424.3 336.3 425.4 336.3 426.5C336.3 427.7 337.2 428.8 337.2 430.0C337.2 431.1 336.3 432.3 336.3 433.4C336.3 434.6 337.2 435.7 337.2 436.8C337.2 438.0 336.3 439.1 336.3 440.3C336.3 441.4 337.2 442.6 337.2 443.7C337.2 444.8 336.3 446.0 336.3 447.1C336.3 448.3 337.1 450.0 337.2 450.6" fill="none" stroke="#000" stroke-width="3.05" stroke-linecap="round" stroke-linejoin="round"/>
<path d="M350.6 419.8C350.7 420.4 351.4 422.1 351.4 423.2C351.4 424.4 350.6 425.5 350.6 426.7C350.6 427.8 351.4 429.0 351.4 430.1C351.4 431.2 350.6 432.4 350.6 433.5C350.6 434.7 351.4 435.8 351.4 437.0C351.4 438.1 350.6 439.3 350.6 440.4C350.6 441.5 351.4 442.7 351.4 443.8C351.4 445.0 350.6 446.1 350.6 447.3C350.6 448.4 351.3 450.1 351.4 450.7" fill="none" stroke="#000" stroke-width="3.03" stroke-linecap="round" stroke-linejoin="round"/>
<path d="M364.8 419.8C364.9 420.4 365.7 422.1 365.7 423.2C365.7 424.4 364.8 425.5 364.8 426.7C364.8 427.8 365.7 429.0 365.7 430.1C365.7 431.2 364.8 432.4 364.8 433.5C364.8 434.7 365.7 435.8 365.7 437.0C365.7 438.1 364.8 439.3 364.8 440.4C364.8 441.5 365.7 442.7 365.7 443.8C365.7 445.0 364.8 446.1 364.8 447.3C364.8 448.4 365.6 450.1 365.7 450.7" fill="none" stroke="#000" stroke-width="3.01" stroke-linecap="round" stroke-linejoin="round"/>
<path d="M378.8 419.8C378.9 420.4 379.6 422.1 379.6 423.2C379.6 424.4 378.8 425.5 378.8 426.7C378.8 427.8 379.6 429.0 379.6 430.1C379.6 431.2 378.8 432.4 378.8 433.5C378.8 434.7 379.6 435.8 379.6 437.0C379.6 438.1 378.8 439.3 378.8 440.4C378.8 441.5 379.6 442.7 379.6 443.8C379.6 445.0 378.8 446.1 378.8 447.3C378.8 448.4 379.5 450.1 379.6 450.7" fill="none" stroke="#000" stroke-width="2.99" stroke-linecap="round" stroke-linejoin="round"/>
<path d="M392.6 419.8C392.7 420.4 393.4 422.1 393.4 423.2C393.4 424.4 392.6 425.5 392.6 426.7C392.6 427.8 393.4 429.0 393.4 430.1C393.4 431.2 392.6 432.4 392.6 433.5C392.6 434.7 393.4 435.8 393.4 437.0C393.4 438.1 392.6 439.3 392.6 440.4C392.6 441.5 393.4 442.7 393.4 443.8C393.4 445.0 392.6 446.1 392.6 447.3C392.6 448.4 393.3 450.1 393.4 450.7" fill="none" stroke="#000" stroke-width="2.98" stroke-linecap="round" stroke-linejoin="round"/>
<path d="M406.8 419.8C406.9 420.4 407.7 422.1 407.7 423.2C407.7 424.4 406.8 425.5 406.8 426.7C406.8 427.8 407.7 429.0 407.7 430.1C407.7 431.2 406.8 432.4 406.8 433.5C406.8 434.7 407.7 435.8 407.7 437.0C407.7 438.1 406.8 439.3 406.8 440.4C406.8 441.5 407.7 442.7 407.7 443.8C407.7 445.0 406.8 446.1 406.8 447.3C406.8 448.4 407.6 450.1 407.7 450.7" fill="none" stroke="#000" stroke-width="2.96" stroke-linecap="round" stroke-linejoin="round"/>
<path d="M421.1 419.8C421.2 420.4 421.9 422.1 421.9 423.2C421.9 424.4 421.1 425.5 421.1 426.7C421.1 427.8 421.9 429.0 421.9 430.1C421.9 431.2 421.1 432.4 421.1 433.5C421.1 434.7 421.9 435.8 421.9 437.0C421.9 438.1 421.1 439.3 421.1 440.4C421.1 441.5 421.9 442.7 421.9 443.8C421.9 445.0 421.1 446.1 421.1 447.3C421.1 448.4 421.8 450.1 421.9 450.7" fill="none" stroke="#000" stroke-width="2.94" stroke-linecap="round" stroke-linejoin="round"/>
<path d="M435.3 419.8C435.4 420.4 436.2 422.1 436.2 423.2C436.2 424.4 435.3 425.5 435.3 426.7C435.3 427.8 436.2 429.0 436.2 430.1C436.2 431.2 435.3 432.4 435.3 433.5C435.3 434.7 436.2 435.8 436.2 437.0C436.2 438.1 435.3 439.3 435.3 440.4C435.3 441.5 436.2 442.7 436.2 443.8C436.2 445.0 435.3 446.1 435.3 447.3C435.3 448.4 436.1 450.1 436.2 450.7" fill="none" stroke="#000" stroke-width="2.92" stroke-linecap="round" stroke-linejoin="round"/>
<path d="M448.4 419.6C448.5 420.2 449.2 421.9 449.2 423.0C449.2 424.2 448.4 425.3 448.4 426.4C448.4 427.6 449.2 428.7 449.2 429.9C449.2 431.0 448.4 432.2 448.4 433.3C448.4 434.5 449.2 435.6 449.2 436.7C449.2 437.9 448.4 439.0 448.4 440.2C448.4 441.3 449.2 442.5 449.2 443.6C449.2 444.8 448.4 445.9 448.4 447.0C448.4 448.2 449.1 449.9 449.2 450.5" fill="none" stroke="#000" stroke-width="2.90" stroke-linecap="round" stroke-linejoin="round"/>
<path d="M462.1 419.2C462.2 419.8 462.9 421.5 462.9 422.7C462.9 423.8 462.1 425.0 462.1 426.1C462.1 427.2 462.9 428.4 462.9 429.5C462.9 430.7 462.1 431.8 462.1 433.0C462.1 434.1 462.9 435.3 462.9 436.4C462.9 437.5 462.1 438.7 462.1 439.8C462.1 441.0 462.9 442.1 462.9 443.3C462.9 444.4 462.1 445.6 462.1 446.7C462.1 447.8 462.8 449.6 462.9 450.1" fill="none" stroke="#000" stroke-width="2.88" stroke-linecap="round" stroke-linejoin="round"/>
<path d="M477.1 418.9C477.2 419.4 477.9 421.2 477.9 422.3C477.9 423.4 477.1 424.6 477.1 425.7C477.1 426.9 477.9 428.0 477.9 429.2C477.9 430.3 477.1 431.5 477.1 432.6C477.1 433.7 477.9 434.9 477.9 436.0C477.9 437.2 477.1 438.3 477.1 439.5C477.1 440.6 477.9 441.8 477.9 442.9C477.9 444.0 477.1 445.2 477.1 446.3C477.1 447.5 477.8 449.2 477.9 449.8" fill="none" stroke="#000" stroke-width="2.85" stroke-linecap="round" stroke-linejoin="round"/>
<path d="M491.5 418.5C491.6 419.1 492.4 420.8 492.4 421.9C492.4 423.1 491.5 424.2 491.5 425.4C491.5 426.5 492.4 427.7 492.4 428.8C492.4 429.9 491.5 431.1 491.6 432.2C491.6 433.4 492.5 434.5 492.5 435.7C492.5 436.8 491.6 438.0 491.6 439.1C491.6 440.3 492.5 441.4 492.5 442.5C492.5 443.7 491.6 444.8 491.7 446.0C491.7 447.1 492.4 448.8 492.6 449.4" fill="none" stroke="#000" stroke-width="2.82" stroke-linecap="round" stroke-linejoin="round"/>
<path d="M503.9 414.2C504.0 414.8 504.8 416.5 504.8 417.7C504.8 418.8 504.0 420.0 504.0 421.1C504.0 422.3 504.9 423.4 504.9 424.6C504.9 425.7 504.1 426.9 504.1 428.0C504.1 429.2 505.0 430.3 505.0 431.4C505.0 432.6 504.2 433.7 504.2 434.9C504.2 436.0 505.1 437.2 505.1 438.3C505.1 439.5 504.3 440.6 504.3 441.8C504.3 442.9 505.1 444.6 505.2 445.2" fill="none" stroke="#000" stroke-width="2.80" stroke-linecap="round" stroke-linejoin="round"/>
<path d="M516.5 413.5C516.7 414.1 517.5 415.8 517.5 417.0C517.5 418.1 516.7 419.3 516.7 420.5C516.7 421.6 517.6 422.8 517.7 423.9C517.7 425.1 516.8 426.2 516.8 427.4C516.9 428.5 517.8 429.7 517.8 430.8C517.8 432.0 517.0 433.2 517.0 434.3C517.0 435.5 517.9 436.6 518.0 437.7C518.0 438.9 517.1 440.1 517.1 441.2C517.2 442.4 518.0 444.1 518.1 444.7" fill="none" stroke="#000" stroke-width="2.78" stroke-linecap="round" stroke-linejoin="round"/>
<path d="M531.0 413.1C531.1 413.6 532.0 415.4 532.0 416.5C532.0 417.7 531.2 418.9 531.2 420.0C531.2 421.2 532.2 422.3 532.2 423.5C532.2 424.6 531.4 425.8 531.4 427.0C531.4 428.2 532.4 429.3 532.4 430.5C532.4 431.6 531.6 432.8 531.6 434.0C531.7 435.1 532.6 436.3 532.6 437.4C532.7 438.6 531.8 439.8 531.8 440.9C531.9 442.1 532.7 443.8 532.8 444.4" fill="none" stroke="#000" stroke-width="2.75" stroke-linecap="round" stroke-linejoin="round"/>
<path d="M545.4 412.6C545.6 413.2 546.4 414.9 546.5 416.1C546.5 417.2 545.6 418.4 545.7 419.6C545.7 420.8 546.7 421.9 546.7 423.1C546.8 424.2 545.9 425.4 546.0 426.6C546.0 427.8 547.0 428.9 547.0 430.1C547.0 431.3 546.2 432.5 546.2 433.6C546.3 434.8 547.2 435.9 547.3 437.1C547.3 438.3 546.5 439.5 546.5 440.6C546.6 441.8 547.4 443.5 547.5 444.1" fill="none" stroke="#000" stroke-width="2.73" stroke-linecap="round" stroke-linejoin="round"/>
<path d="M558.1 412.2C558.3 412.8 559.1 414.5 559.2 415.7C559.2 416.8 558.4 418.0 558.4 419.2C558.5 420.4 559.4 421.5 559.5 422.7C559.5 423.9 558.7 425.1 558.7 426.3C558.8 427.4 559.7 428.6 559.8 429.8C559.9 430.9 559.0 432.1 559.1 433.3C559.1 434.5 560.1 435.6 560.1 436.8C560.2 438.0 559.3 439.2 559.4 440.4C559.4 441.5 560.3 443.3 560.4 443.9" fill="none" stroke="#000" stroke-width="2.70" stroke-linecap="round" stroke-linejoin="round"/>
<path d="M571.1 412.3C571.3 412.9 572.1 414.6 572.2 415.8C572.2 417.0 571.4 418.2 571.5 419.4C571.5 420.6 572.5 421.7 572.6 422.9C572.6 424.1 571.8 425.3 571.9 426.5C571.9 427.7 572.9 428.8 573.0 430.0C573.0 431.2 572.2 432.4 572.3 433.6C572.3 434.7 573.3 435.9 573.4 437.1C573.4 438.2 572.6 439.5 572.7 440.7C572.7 441.8 573.6 443.6 573.8 444.2" fill="none" stroke="#000" stroke-width="2.69" stroke-linecap="round" stroke-linejoin="round"/>
<path d="M583.3 412.1C583.5 412.7 584.4 414.4 584.4 415.6C584.5 416.8 583.7 418.0 583.8 419.2C583.9 420.4 584.8 421.6 584.9 422.7C585.0 423.9 584.2 425.2 584.3 426.4C584.3 427.6 585.3 428.7 585.4 429.9C585.5 431.1 584.6 432.3 584.7 433.5C584.8 434.7 585.8 435.8 585.9 437.0C585.9 438.2 585.1 439.4 585.2 440.6C585.3 441.8 586.1 443.6 586.3 444.1" fill="none" stroke="#000" stroke-width="2.68" stroke-linecap="round" stroke-linejoin="round"/>
<path d="M595.5 411.8C595.7 412.4 596.6 414.1 596.7 415.3C596.8 416.5 596.0 417.7 596.1 418.9C596.2 420.1 597.2 421.3 597.3 422.5C597.4 423.6 596.5 424.9 596.6 426.1C596.7 427.3 597.7 428.4 597.8 429.6C597.9 430.8 597.1 432.1 597.2 433.3C597.3 434.5 598.3 435.6 598.3 436.8C598.4 438.0 597.6 439.2 597.7 440.4C597.8 441.6 598.7 443.4 598.9 444.0" fill="none" stroke="#000" stroke-width="2.66" stroke-linecap="round" stroke-linejoin="round"/>
<path d="M608.5 410.9C608.7 411.5 609.7 413.2 609.8 414.4C609.9 415.6 609.1 416.9 609.2 418.1C609.3 419.3 610.3 420.4 610.4 421.6C610.5 422.8 609.7 424.1 609.8 425.3C609.9 426.5 610.9 427.6 611.0 428.8C611.1 430.0 610.3 431.3 610.4 432.5C610.5 433.7 611.5 434.8 611.6 436.0C611.7 437.2 610.9 438.5 611.0 439.7C611.1 440.9 612.0 442.6 612.2 443.2" fill="none" stroke="#000" stroke-width="2.65" stroke-linecap="round" stroke-linejoin="round"/>
<path d="M621.5 409.8C621.8 410.4 622.7 412.1 622.8 413.4C622.9 414.6 622.1 415.9 622.2 417.1C622.4 418.3 623.4 419.4 623.5 420.6C623.6 421.8 622.8 423.1 622.9 424.3C623.1 425.5 624.1 426.6 624.2 427.9C624.3 429.1 623.5 430.4 623.6 431.6C623.8 432.8 624.8 433.9 624.9 435.1C625.0 436.3 624.2 437.6 624.3 438.8C624.5 440.0 625.4 441.8 625.6 442.4" fill="none" stroke="#000" stroke-width="2.63" stroke-linecap="round" stroke-linejoin="round"/>
<path d="M634.5 408.4C634.8 409.0 635.7 410.8 635.8 412.0C636.0 413.2 635.2 414.5 635.3 415.7C635.5 416.9 636.5 418.0 636.6 419.3C636.7 420.5 636.0 421.8 636.1 423.0C636.2 424.2 637.3 425.3 637.4 426.6C637.5 427.8 636.8 429.1 636.9 430.3C637.0 431.5 638.0 432.6 638.2 433.8C638.3 435.1 637.5 436.4 637.7 437.6C637.8 438.8 638.7 440.5 638.9 441.1" fill="none" stroke="#000" stroke-width="2.62" stroke-linecap="round" stroke-linejoin="round"/>
<path d="M648.3 407.0C648.5 407.6 649.5 409.4 649.6 410.6C649.8 411.8 649.0 413.2 649.2 414.4C649.3 415.6 650.4 416.7 650.5 417.9C650.6 419.2 649.9 420.5 650.0 421.7C650.2 422.9 651.2 424.1 651.4 425.3C651.5 426.5 650.8 427.8 650.9 429.1C651.0 430.3 652.1 431.4 652.2 432.6C652.4 433.8 651.6 435.2 651.8 436.4C651.9 437.6 652.9 439.4 653.1 440.0" fill="none" stroke="#000" stroke-width="2.60" stroke-linecap="round" stroke-linejoin="round"/>
<path d="M62.0 580.0C62.7 579.6 64.2 578.3 66.0 577.6C67.8 576.9 68.3 576.7 73.0 575.6C77.7 574.5 86.2 572.4 94.0 571.0C101.8 569.6 111.3 568.1 120.0 567.0C128.7 565.9 137.3 565.2 146.0 564.5C154.7 563.8 164.7 563.2 172.0 563.0C179.3 562.8 182.7 562.9 190.0 563.2C197.3 563.5 205.3 563.9 216.0 564.6C226.7 565.3 240.7 566.5 254.0 567.4C267.3 568.3 283.3 569.5 296.0 570.3C308.7 571.1 322.8 571.9 330.0 572.4C337.2 572.9 337.5 572.9 339.0 573.0" fill="none" stroke="#1a1a1a" stroke-width="10.5" stroke-linecap="round" stroke-linejoin="round"/>
<path d="M65.00 583.20 C66.50 575.20 70.50 569.90 76.00 573.00" fill="none" stroke="#000" stroke-width="2.2" stroke-linecap="round"/>
<path d="M65.0 582.7C65.1 583.3 66.0 585.0 65.8 586.1C65.7 587.2 63.9 588.2 63.9 589.3C63.8 590.4 65.7 591.6 65.6 592.7C65.6 593.8 63.7 594.9 63.7 596.0C63.6 597.1 65.5 598.3 65.4 599.4C65.4 600.5 63.5 601.5 63.5 602.7C63.4 603.8 65.3 604.9 65.2 606.0C65.2 607.1 63.3 608.2 63.3 609.3C63.2 610.4 64.9 611.6 65.0 612.7C65.2 613.8 64.2 615.4 64.0 616.0" fill="none" stroke="#000" stroke-width="3.40" stroke-linecap="round" stroke-linejoin="round"/>
<path d="M64.0 616.0C63.8 616.5 63.0 617.6 62.6 618.9C62.1 620.1 61.7 621.4 61.2 623.5C60.8 625.5 60.3 627.8 59.9 631.1C59.5 634.3 59.1 637.7 58.7 642.9C58.2 648.2 57.5 656.4 57.1 662.5C56.6 668.6 56.3 674.6 56.0 679.5C55.8 684.5 55.6 689.1 55.5 692.3C55.5 695.6 55.6 697.5 55.8 698.8C56.0 700.1 56.3 700.2 56.6 700.2C56.9 700.2 57.2 700.2 57.6 699.0C58.0 697.7 58.4 695.8 59.0 692.7C59.5 689.5 60.1 684.9 60.7 680.0C61.3 675.0 62.0 669.1 62.7 663.0C63.3 656.9 64.1 648.7 64.5 643.5C65.0 638.2 65.2 634.8 65.4 631.5C65.5 628.3 65.5 625.9 65.4 623.8C65.4 621.8 65.2 620.4 64.9 619.1C64.7 617.8 64.2 616.5 64.0 616.0" fill="none" stroke="#000" stroke-width="1.90" stroke-linecap="round" stroke-linejoin="round"/>
<path d="M75.40 580.07 C76.90 572.07 80.90 566.77 86.40 569.87" fill="none" stroke="#000" stroke-width="2.2" stroke-linecap="round"/>
<path d="M75.4 579.6C75.5 580.1 76.4 581.7 76.2 582.8C76.0 583.8 74.2 584.8 74.2 585.8C74.1 586.9 76.0 588.0 75.9 589.0C75.9 590.1 73.9 591.1 73.9 592.1C73.8 593.1 75.7 594.3 75.6 595.3C75.6 596.4 73.7 597.3 73.6 598.4C73.6 599.4 75.4 600.6 75.4 601.6C75.3 602.7 73.4 603.6 73.3 604.7C73.3 605.7 75.0 606.8 75.1 607.9C75.2 609.0 74.2 610.5 74.0 611.0" fill="none" stroke="#000" stroke-width="3.40" stroke-linecap="round" stroke-linejoin="round"/>
<path d="M74.0 611.0C73.6 611.5 72.5 612.5 71.8 613.7C71.1 615.0 70.4 616.2 69.7 618.3C69.0 620.3 68.3 622.6 67.6 625.9C66.9 629.1 66.3 632.6 65.4 637.9C64.6 643.2 63.5 651.5 62.7 657.7C61.9 663.9 61.2 669.9 60.7 675.0C60.2 680.0 59.9 684.7 59.7 688.0C59.6 691.3 59.8 693.3 60.0 694.7C60.2 696.0 60.7 696.1 61.1 696.2C61.6 696.3 62.0 696.3 62.6 695.0C63.3 693.8 64.0 692.0 64.9 688.8C65.7 685.6 66.7 681.0 67.8 676.0C68.8 671.1 70.0 665.1 71.0 658.9C72.1 652.8 73.5 644.5 74.2 639.2C75.0 633.9 75.5 630.4 75.8 627.1C76.0 623.8 76.1 621.4 76.0 619.2C75.9 617.1 75.6 615.6 75.3 614.3C75.0 612.9 74.2 611.5 74.0 611.0" fill="none" stroke="#000" stroke-width="1.90" stroke-linecap="round" stroke-linejoin="round"/>
<path d="M87.80 577.36 C89.30 569.36 93.30 564.06 98.80 567.16" fill="none" stroke="#000" stroke-width="2.2" stroke-linecap="round"/>
<path d="M87.8 576.9C87.9 577.4 88.8 579.1 88.6 580.2C88.4 581.3 86.6 582.3 86.5 583.4C86.4 584.5 88.3 585.7 88.2 586.9C88.1 588.0 86.2 589.0 86.1 590.1C86.1 591.2 87.9 592.4 87.8 593.5C87.8 594.6 85.8 595.6 85.8 596.7C85.7 597.8 87.5 599.0 87.5 600.1C87.4 601.2 85.5 602.2 85.4 603.3C85.4 604.4 87.0 605.6 87.1 606.7C87.2 607.9 86.2 609.5 86.0 610.0" fill="none" stroke="#000" stroke-width="3.40" stroke-linecap="round" stroke-linejoin="round"/>
<path d="M86.0 610.0C85.7 610.5 84.6 611.6 84.0 612.9C83.3 614.2 82.7 615.5 82.2 617.6C81.6 619.7 81.0 622.1 80.5 625.5C80.0 628.8 79.5 632.3 79.0 637.7C78.5 643.2 77.7 651.7 77.3 658.0C76.8 664.3 76.4 670.5 76.2 675.7C76.0 680.8 75.8 685.6 75.9 689.0C75.9 692.3 76.1 694.3 76.4 695.7C76.7 697.0 77.1 697.2 77.6 697.2C78.0 697.2 78.5 697.2 79.0 695.9C79.5 694.6 80.2 692.7 80.8 689.4C81.5 686.2 82.3 681.4 83.0 676.3C83.8 671.2 84.6 665.1 85.4 658.8C86.1 652.5 87.1 644.0 87.6 638.6C88.1 633.1 88.3 629.6 88.5 626.2C88.6 622.8 88.5 620.4 88.3 618.2C88.1 616.1 87.8 614.6 87.4 613.2C87.0 611.9 86.2 610.5 86.0 610.0" fill="none" stroke="#000" stroke-width="1.90" stroke-linecap="round" stroke-linejoin="round"/>
<path d="M100.00 575.08 C101.50 567.08 105.50 561.78 111.00 564.88" fill="none" stroke="#000" stroke-width="2.2" stroke-linecap="round"/>
<path d="M100.0 574.6C100.1 575.1 101.0 576.7 100.8 577.8C100.5 578.8 98.7 579.7 98.7 580.8C98.6 581.8 100.5 583.0 100.4 584.0C100.3 585.1 98.4 586.0 98.3 587.0C98.3 588.1 100.1 589.2 100.0 590.3C100.0 591.3 98.0 592.3 98.0 593.3C97.9 594.3 99.7 595.5 99.7 596.5C99.6 597.6 97.7 598.5 97.6 599.6C97.5 600.6 99.4 601.8 99.3 602.8C99.3 603.8 97.5 604.8 97.2 605.8C97.0 606.8 97.9 608.5 98.0 609.0" fill="none" stroke="#000" stroke-width="3.40" stroke-linecap="round" stroke-linejoin="round"/>
<path d="M98.0 609.0C97.7 609.5 96.6 610.7 96.0 611.9C95.3 613.2 94.7 614.6 94.1 616.7C93.5 618.8 92.9 621.2 92.3 624.6C91.7 628.0 91.3 631.5 90.7 637.0C90.1 642.5 89.3 651.1 88.7 657.5C88.2 663.9 87.7 670.2 87.5 675.4C87.2 680.6 87.0 685.5 87.0 688.8C87.0 692.2 87.2 694.2 87.5 695.6C87.7 697.0 88.2 697.2 88.6 697.2C89.0 697.3 89.5 697.2 90.0 695.9C90.6 694.6 91.2 692.7 91.9 689.4C92.6 686.1 93.5 681.3 94.3 676.1C95.1 671.0 96.0 664.7 96.8 658.4C97.7 652.0 98.7 643.4 99.2 637.9C99.8 632.4 100.1 628.9 100.3 625.4C100.4 622.0 100.4 619.5 100.2 617.3C100.1 615.1 99.7 613.7 99.4 612.3C99.0 610.9 98.2 609.5 98.0 609.0" fill="none" stroke="#000" stroke-width="1.90" stroke-linecap="round" stroke-linejoin="round"/>
<path d="M112.50 573.15 C114.00 565.15 118.00 559.85 123.50 562.95" fill="none" stroke="#000" stroke-width="2.2" stroke-linecap="round"/>
<path d="M112.5 572.7C112.6 573.2 113.4 574.8 113.1 575.9C112.9 576.9 111.0 577.8 110.9 578.8C110.8 579.8 112.6 581.1 112.5 582.1C112.4 583.2 110.4 584.0 110.3 585.0C110.2 586.1 112.0 587.3 111.9 588.4C111.7 589.4 109.8 590.3 109.6 591.3C109.5 592.3 111.3 593.6 111.2 594.6C111.1 595.6 109.1 596.5 109.0 597.5C108.9 598.6 110.7 599.8 110.6 600.9C110.5 601.9 108.6 602.8 108.4 603.8C108.1 604.8 108.9 606.5 109.0 607.0" fill="none" stroke="#000" stroke-width="3.40" stroke-linecap="round" stroke-linejoin="round"/>
<path d="M109.0 607.0C108.7 607.5 107.7 608.7 107.0 610.0C106.4 611.4 105.8 612.8 105.2 614.9C104.7 617.1 104.2 619.6 103.7 623.1C103.2 626.5 102.8 630.2 102.3 635.8C101.8 641.4 101.2 650.2 100.8 656.7C100.4 663.2 100.1 669.6 99.9 675.0C99.8 680.3 99.7 685.3 99.8 688.7C99.8 692.1 100.1 694.2 100.4 695.6C100.7 697.0 101.1 697.2 101.6 697.2C102.0 697.2 102.4 697.2 103.0 695.8C103.5 694.5 104.1 692.5 104.7 689.1C105.4 685.7 106.1 680.8 106.8 675.5C107.5 670.2 108.3 663.9 108.9 657.4C109.6 650.9 110.4 642.1 110.9 636.5C111.3 630.9 111.5 627.2 111.6 623.7C111.7 620.2 111.6 617.7 111.4 615.4C111.2 613.2 110.9 611.7 110.5 610.3C110.0 608.9 109.2 607.6 109.0 607.0" fill="none" stroke="#000" stroke-width="1.90" stroke-linecap="round" stroke-linejoin="round"/>
<path d="M125.70 571.45 C127.20 563.45 131.20 558.15 136.70 561.25" fill="none" stroke="#000" stroke-width="2.2" stroke-linecap="round"/>
<path d="M125.7 571.0C125.8 571.5 126.6 573.2 126.3 574.2C126.0 575.3 124.2 576.2 124.1 577.2C124.0 578.3 125.7 579.5 125.6 580.6C125.5 581.7 123.5 582.5 123.4 583.6C123.3 584.7 125.1 585.9 125.0 587.0C124.9 588.0 122.8 588.9 122.7 590.0C122.6 591.0 124.4 592.3 124.3 593.4C124.2 594.4 122.2 595.3 122.1 596.3C122.0 597.4 123.7 598.7 123.6 599.7C123.5 600.8 121.7 601.7 121.4 602.7C121.1 603.8 121.9 605.5 122.0 606.0" fill="none" stroke="#000" stroke-width="3.40" stroke-linecap="round" stroke-linejoin="round"/>
<path d="M122.0 606.0C121.7 606.5 120.6 607.7 120.0 609.1C119.4 610.4 118.8 611.8 118.2 614.0C117.7 616.2 117.2 618.7 116.7 622.2C116.2 625.7 115.8 629.4 115.3 635.1C114.8 640.8 114.2 649.7 113.8 656.3C113.4 662.9 113.1 669.3 112.9 674.7C112.8 680.1 112.7 685.1 112.8 688.6C112.8 692.1 113.1 694.2 113.4 695.6C113.7 697.0 114.1 697.2 114.6 697.2C115.0 697.2 115.4 697.2 116.0 695.8C116.5 694.4 117.1 692.4 117.7 689.0C118.4 685.6 119.1 680.6 119.8 675.3C120.5 669.9 121.3 663.5 121.9 656.9C122.6 650.4 123.4 641.5 123.9 635.8C124.3 630.1 124.5 626.4 124.6 622.9C124.7 619.3 124.6 616.8 124.4 614.5C124.2 612.3 123.9 610.8 123.5 609.4C123.1 607.9 122.2 606.6 122.0 606.0" fill="none" stroke="#000" stroke-width="1.90" stroke-linecap="round" stroke-linejoin="round"/>
<path d="M138.00 570.27 C139.50 562.27 143.50 556.97 149.00 560.07" fill="none" stroke="#000" stroke-width="2.2" stroke-linecap="round"/>
<path d="M138.0 569.8C138.1 570.3 138.9 572.1 138.7 573.1C138.4 574.2 136.6 575.2 136.5 576.3C136.4 577.4 138.2 578.6 138.1 579.7C138.0 580.8 136.1 581.8 136.0 582.9C135.9 584.0 137.7 585.2 137.6 586.3C137.5 587.4 135.5 588.4 135.4 589.5C135.3 590.6 137.1 591.8 137.0 592.9C136.9 594.0 135.0 594.9 134.9 596.0C134.8 597.1 136.6 598.4 136.5 599.5C136.4 600.6 134.6 601.5 134.3 602.6C134.1 603.7 134.9 605.4 135.0 606.0" fill="none" stroke="#000" stroke-width="3.40" stroke-linecap="round" stroke-linejoin="round"/>
<path d="M135.0 606.0C134.7 606.5 133.6 607.7 133.0 609.1C132.4 610.4 131.8 611.8 131.2 614.0C130.7 616.2 130.2 618.7 129.7 622.2C129.2 625.7 128.8 629.4 128.3 635.1C127.8 640.8 127.2 649.7 126.8 656.3C126.4 662.9 126.1 669.3 125.9 674.7C125.8 680.1 125.7 685.1 125.8 688.6C125.8 692.1 126.1 694.2 126.4 695.6C126.7 697.0 127.1 697.2 127.6 697.2C128.0 697.2 128.4 697.2 129.0 695.8C129.5 694.4 130.1 692.4 130.7 689.0C131.4 685.6 132.1 680.6 132.8 675.3C133.5 669.9 134.3 663.5 134.9 656.9C135.6 650.4 136.4 641.5 136.9 635.8C137.3 630.1 137.5 626.4 137.6 622.9C137.7 619.3 137.6 616.8 137.4 614.5C137.2 612.3 136.9 610.8 136.5 609.4C136.1 607.9 135.2 606.6 135.0 606.0" fill="none" stroke="#000" stroke-width="1.90" stroke-linecap="round" stroke-linejoin="round"/>
<path d="M151.70 569.17 C153.20 561.17 157.20 555.87 162.70 558.97" fill="none" stroke="#000" stroke-width="2.2" stroke-linecap="round"/>
<path d="M151.7 568.7C151.8 569.2 152.6 571.0 152.4 572.0C152.2 573.1 150.3 574.1 150.3 575.2C150.2 576.3 152.0 577.5 151.9 578.6C151.8 579.8 149.9 580.7 149.8 581.8C149.7 582.9 151.5 584.2 151.4 585.3C151.3 586.4 149.4 587.3 149.3 588.4C149.2 589.5 151.0 590.8 150.9 591.9C150.8 593.0 148.9 593.9 148.8 595.0C148.7 596.1 150.5 597.4 150.4 598.5C150.4 599.6 148.5 600.5 148.3 601.6C148.1 602.7 148.9 604.4 149.0 605.0" fill="none" stroke="#000" stroke-width="3.40" stroke-linecap="round" stroke-linejoin="round"/>
<path d="M149.0 605.0C148.7 605.5 147.6 606.7 147.0 608.1C146.4 609.4 145.8 610.8 145.2 613.0C144.6 615.2 144.1 617.7 143.6 621.3C143.1 624.8 142.7 628.5 142.2 634.2C141.6 639.9 141.0 648.8 140.5 655.4C140.1 662.0 139.8 668.5 139.6 673.9C139.4 679.3 139.3 684.4 139.3 687.9C139.4 691.3 139.6 693.4 139.9 694.9C140.2 696.3 140.6 696.5 141.1 696.5C141.5 696.5 141.9 696.5 142.5 695.1C143.0 693.7 143.6 691.7 144.3 688.3C144.9 684.9 145.7 679.9 146.4 674.5C147.2 669.2 148.0 662.7 148.7 656.1C149.4 649.5 150.2 640.6 150.7 634.9C151.2 629.2 151.4 625.5 151.5 622.0C151.7 618.4 151.5 615.8 151.4 613.6C151.2 611.3 150.8 609.8 150.4 608.4C150.0 606.9 149.2 605.6 149.0 605.0" fill="none" stroke="#000" stroke-width="1.90" stroke-linecap="round" stroke-linejoin="round"/>
<path d="M164.00 568.46 C165.50 560.46 169.50 555.16 175.00 558.26" fill="none" stroke="#000" stroke-width="2.2" stroke-linecap="round"/>
<path d="M164.0 568.0C164.1 568.5 165.0 570.2 164.8 571.3C164.5 572.4 162.7 573.4 162.7 574.5C162.6 575.6 164.5 576.8 164.4 577.8C164.3 578.9 162.4 579.9 162.3 581.0C162.3 582.1 164.1 583.3 164.0 584.4C164.0 585.5 162.0 586.5 162.0 587.6C161.9 588.7 163.7 589.9 163.7 590.9C163.6 592.0 161.7 593.0 161.6 594.1C161.5 595.2 163.4 596.4 163.3 597.5C163.3 598.6 161.5 599.6 161.2 600.7C161.0 601.8 161.9 603.4 162.0 604.0" fill="none" stroke="#000" stroke-width="3.40" stroke-linecap="round" stroke-linejoin="round"/>
<path d="M162.0 604.0C161.7 604.5 160.6 605.8 160.0 607.1C159.4 608.5 158.8 609.9 158.2 612.1C157.6 614.3 157.1 616.8 156.6 620.4C156.1 623.9 155.7 627.7 155.2 633.4C154.6 639.1 154.0 648.1 153.5 654.8C153.1 661.5 152.8 668.0 152.6 673.5C152.4 678.9 152.3 684.0 152.3 687.5C152.4 691.0 152.6 693.1 152.9 694.6C153.2 696.0 153.6 696.2 154.1 696.2C154.5 696.2 154.9 696.2 155.5 694.8C156.0 693.4 156.6 691.4 157.3 687.9C157.9 684.5 158.7 679.4 159.4 674.0C160.2 668.6 161.0 662.2 161.7 655.5C162.4 648.8 163.2 639.9 163.7 634.1C164.2 628.4 164.4 624.7 164.5 621.1C164.7 617.5 164.5 614.9 164.4 612.6C164.2 610.4 163.8 608.8 163.4 607.4C163.0 606.0 162.2 604.6 162.0 604.0" fill="none" stroke="#000" stroke-width="1.90" stroke-linecap="round" stroke-linejoin="round"/>
<path d="M178.50 568.07 C180.00 560.07 184.00 554.77 189.50 557.87" fill="none" stroke="#000" stroke-width="2.2" stroke-linecap="round"/>
<path d="M178.5 567.6C178.6 568.1 179.5 569.9 179.2 570.9C179.0 572.0 177.2 573.0 177.1 574.1C177.0 575.2 178.8 576.5 178.8 577.6C178.7 578.7 176.7 579.6 176.6 580.8C176.6 581.9 178.4 583.1 178.3 584.2C178.2 585.3 176.3 586.3 176.2 587.4C176.1 588.5 177.9 589.7 177.9 590.8C177.8 591.9 175.8 592.9 175.7 594.0C175.7 595.1 177.5 596.3 177.4 597.4C177.3 598.5 175.5 599.5 175.3 600.6C175.0 601.7 175.9 603.4 176.0 604.0" fill="none" stroke="#000" stroke-width="3.40" stroke-linecap="round" stroke-linejoin="round"/>
<path d="M176.0 604.0C175.7 604.5 174.6 605.7 174.0 607.1C173.3 608.4 172.7 609.9 172.1 612.1C171.5 614.3 170.9 616.8 170.4 620.4C169.9 623.9 169.4 627.6 168.8 633.3C168.3 639.1 167.5 648.1 167.0 654.8C166.5 661.4 166.1 668.0 165.8 673.4C165.6 678.9 165.4 683.9 165.4 687.5C165.4 691.0 165.7 693.1 165.9 694.6C166.2 696.0 166.6 696.2 167.1 696.2C167.5 696.2 168.0 696.2 168.5 694.8C169.1 693.4 169.7 691.4 170.4 687.9C171.1 684.5 171.9 679.5 172.7 674.1C173.5 668.7 174.3 662.2 175.1 655.5C175.9 648.9 176.9 639.9 177.4 634.2C177.9 628.4 178.2 624.7 178.4 621.1C178.5 617.5 178.4 615.0 178.3 612.7C178.1 610.4 177.8 608.9 177.4 607.4C177.0 606.0 176.2 604.6 176.0 604.0" fill="none" stroke="#000" stroke-width="1.90" stroke-linecap="round" stroke-linejoin="round"/>
<path d="M195.00 568.47 C196.50 560.47 200.50 555.17 206.00 558.27" fill="none" stroke="#000" stroke-width="2.2" stroke-linecap="round"/>
<path d="M195.0 568.0C195.1 568.5 196.0 570.1 195.8 571.1C195.5 572.1 193.7 573.1 193.7 574.1C193.6 575.1 195.5 576.3 195.4 577.3C195.3 578.3 193.4 579.3 193.3 580.3C193.3 581.3 195.1 582.5 195.0 583.5C195.0 584.5 193.0 585.4 193.0 586.5C192.9 587.5 194.7 588.6 194.7 589.7C194.6 590.7 192.7 591.6 192.6 592.7C192.5 593.7 194.4 594.8 194.3 595.9C194.3 596.9 192.5 597.8 192.2 598.9C192.0 599.9 192.9 601.5 193.0 602.0" fill="none" stroke="#000" stroke-width="3.40" stroke-linecap="round" stroke-linejoin="round"/>
<path d="M193.0 602.0C192.7 602.5 191.9 603.8 191.4 605.2C191.0 606.6 190.5 608.1 190.1 610.4C189.6 612.7 189.2 615.3 188.9 618.9C188.5 622.5 188.2 626.3 187.8 632.2C187.5 638.1 187.0 647.2 186.8 654.1C186.5 660.9 186.3 667.5 186.2 673.1C186.0 678.6 186.0 683.8 186.1 687.4C186.2 691.0 186.4 693.1 186.6 694.6C186.9 696.0 187.2 696.2 187.5 696.2C187.9 696.2 188.2 696.1 188.7 694.7C189.1 693.3 189.5 691.2 190.0 687.6C190.5 684.1 191.1 678.9 191.6 673.4C192.1 667.9 192.7 661.2 193.2 654.4C193.7 647.6 194.3 638.5 194.6 632.6C195.0 626.7 195.1 622.9 195.2 619.3C195.2 615.6 195.1 613.0 194.9 610.7C194.8 608.4 194.5 606.9 194.2 605.4C193.8 604.0 193.2 602.6 193.0 602.0" fill="none" stroke="#000" stroke-width="2.20" stroke-linecap="round" stroke-linejoin="round"/>
<path d="M209.50 569.25 C211.00 561.25 215.00 555.95 220.50 559.05" fill="none" stroke="#000" stroke-width="2.2" stroke-linecap="round"/>
<path d="M209.5 568.8C209.6 569.3 210.4 570.9 210.2 571.9C209.9 572.9 208.1 573.8 208.0 574.8C207.9 575.8 209.7 577.0 209.6 578.0C209.5 579.1 207.6 579.9 207.5 580.9C207.4 582.0 209.2 583.2 209.1 584.2C209.0 585.2 207.0 586.1 206.9 587.1C206.8 588.1 208.6 589.3 208.5 590.3C208.4 591.3 206.5 592.2 206.4 593.2C206.3 594.2 208.1 595.4 208.0 596.4C207.9 597.5 206.1 598.3 205.8 599.3C205.6 600.4 206.4 602.0 206.5 602.5" fill="none" stroke="#000" stroke-width="3.40" stroke-linecap="round" stroke-linejoin="round"/>
<path d="M206.5 602.5C206.2 603.0 205.5 604.3 205.0 605.7C204.5 607.1 204.1 608.5 203.6 610.8C203.2 613.0 202.8 615.6 202.4 619.1C202.1 622.7 201.8 626.5 201.4 632.2C201.1 638.0 200.6 647.0 200.3 653.7C200.1 660.4 199.9 667.0 199.7 672.5C199.6 677.9 199.6 683.0 199.6 686.5C199.7 690.1 199.9 692.2 200.1 693.6C200.4 695.0 200.7 695.2 201.0 695.2C201.4 695.2 201.7 695.1 202.1 693.7C202.5 692.3 203.0 690.3 203.5 686.8C203.9 683.3 204.5 678.2 205.0 672.8C205.5 667.3 206.1 660.8 206.6 654.1C207.1 647.4 207.7 638.4 208.0 632.6C208.4 626.8 208.5 623.1 208.6 619.5C208.6 615.9 208.5 613.3 208.4 611.1C208.2 608.8 207.9 607.3 207.6 605.9C207.3 604.4 206.7 603.1 206.5 602.5" fill="none" stroke="#000" stroke-width="2.20" stroke-linecap="round" stroke-linejoin="round"/>
<path d="M224.00 570.19 C225.50 562.19 229.50 556.89 235.00 559.99" fill="none" stroke="#000" stroke-width="2.2" stroke-linecap="round"/>
<path d="M224.0 569.7C224.1 570.3 225.0 572.0 224.8 573.1C224.6 574.2 222.8 575.2 222.8 576.3C222.7 577.4 224.5 578.6 224.5 579.7C224.4 580.8 222.5 581.9 222.5 583.0C222.4 584.1 224.2 585.3 224.2 586.4C224.1 587.5 222.2 588.5 222.2 589.6C222.1 590.7 223.9 591.9 223.9 593.0C223.8 594.2 221.9 595.2 221.9 596.3C221.8 597.4 223.5 598.6 223.6 599.7C223.7 600.8 222.7 602.5 222.5 603.0" fill="none" stroke="#000" stroke-width="3.40" stroke-linecap="round" stroke-linejoin="round"/>
<path d="M222.5 603.0C222.3 603.5 221.6 604.8 221.2 606.2C220.8 607.6 220.4 609.0 220.1 611.3C219.7 613.5 219.4 616.1 219.1 619.6C218.8 623.2 218.6 626.9 218.3 632.6C218.0 638.4 217.6 647.4 217.4 654.0C217.1 660.7 217.0 667.2 216.9 672.6C216.8 678.1 216.8 683.1 216.8 686.6C216.9 690.1 217.1 692.2 217.3 693.6C217.5 695.1 217.8 695.2 218.0 695.2C218.3 695.2 218.6 695.1 219.0 693.7C219.3 692.3 219.7 690.3 220.1 686.8C220.5 683.3 220.9 678.3 221.4 672.9C221.8 667.4 222.3 660.9 222.7 654.3C223.1 647.6 223.6 638.6 223.9 632.9C224.1 627.2 224.2 623.4 224.3 619.9C224.3 616.3 224.2 613.7 224.1 611.5C224.0 609.2 223.7 607.7 223.5 606.3C223.2 604.9 222.7 603.6 222.5 603.0" fill="none" stroke="#000" stroke-width="2.20" stroke-linecap="round" stroke-linejoin="round"/>
<path d="M238.30 571.24 C239.80 563.24 243.80 557.94 249.30 561.04" fill="none" stroke="#000" stroke-width="2.2" stroke-linecap="round"/>
<path d="M238.3 570.7C238.4 571.3 239.1 573.1 238.9 574.1C238.6 575.2 236.7 576.1 236.6 577.2C236.5 578.3 238.2 579.6 238.1 580.7C238.0 581.8 236.0 582.6 235.8 583.7C235.7 584.8 237.5 586.1 237.3 587.2C237.2 588.3 235.2 589.2 235.1 590.3C234.9 591.4 236.7 592.7 236.6 593.8C236.5 594.9 234.4 595.7 234.3 596.8C234.2 597.9 235.8 599.2 235.8 600.3C235.9 601.4 234.7 603.0 234.5 603.5" fill="none" stroke="#000" stroke-width="3.40" stroke-linecap="round" stroke-linejoin="round"/>
<path d="M234.5 603.5C234.3 604.0 233.9 605.3 233.6 606.7C233.3 608.1 233.0 609.5 232.7 611.8C232.5 614.0 232.2 616.5 231.9 620.1C231.7 623.6 231.4 627.3 231.2 633.0C230.9 638.7 230.5 647.7 230.2 654.3C230.0 660.9 229.8 667.4 229.6 672.8C229.5 678.2 229.4 683.2 229.3 686.7C229.3 690.2 229.4 692.2 229.5 693.7C229.7 695.1 229.8 695.2 230.0 695.2C230.2 695.2 230.4 695.1 230.7 693.7C230.9 692.3 231.2 690.3 231.6 686.8C231.9 683.3 232.3 678.3 232.6 672.9C233.0 667.6 233.4 661.1 233.8 654.5C234.2 647.8 234.7 638.9 235.0 633.2C235.2 627.5 235.4 623.8 235.5 620.2C235.5 616.7 235.5 614.1 235.5 611.9C235.4 609.6 235.3 608.2 235.1 606.8C234.9 605.4 234.6 604.0 234.5 603.5" fill="none" stroke="#000" stroke-width="2.20" stroke-linecap="round" stroke-linejoin="round"/>
<path d="M252.80 572.31 C254.30 564.31 258.30 559.01 263.80 562.11" fill="none" stroke="#000" stroke-width="2.2" stroke-linecap="round"/>
<path d="M252.8 571.8C252.9 572.4 253.7 574.1 253.5 575.1C253.2 576.2 251.4 577.1 251.3 578.2C251.2 579.2 253.0 580.5 252.9 581.6C252.8 582.6 250.8 583.5 250.7 584.6C250.6 585.7 252.4 586.9 252.3 588.0C252.3 589.1 250.3 590.0 250.2 591.0C250.1 592.1 251.9 593.4 251.8 594.4C251.7 595.5 249.7 596.4 249.6 597.5C249.5 598.6 251.2 599.8 251.2 600.9C251.3 602.0 250.2 603.5 250.0 604.0" fill="none" stroke="#000" stroke-width="3.40" stroke-linecap="round" stroke-linejoin="round"/>
<path d="M250.00 604.00 L246.00 695.30" stroke="#111" stroke-width="3.50" stroke-linecap="round" fill="none"/>
<path d="M268.40 573.39 C269.90 565.39 273.90 560.09 279.40 563.19" fill="none" stroke="#000" stroke-width="2.2" stroke-linecap="round"/>
<path d="M268.4 572.9C268.5 573.4 269.4 575.1 269.2 576.1C269.0 577.1 267.2 578.1 267.2 579.2C267.1 580.2 269.0 581.4 268.9 582.4C268.9 583.5 266.9 584.4 266.9 585.5C266.8 586.5 268.7 587.7 268.6 588.7C268.6 589.8 266.7 590.8 266.6 591.8C266.6 592.9 268.4 594.0 268.4 595.1C268.3 596.1 266.4 597.1 266.3 598.1C266.3 599.2 268.0 600.3 268.1 601.4C268.2 602.4 267.2 604.0 267.0 604.5" fill="none" stroke="#000" stroke-width="3.40" stroke-linecap="round" stroke-linejoin="round"/>
<path d="M267.00 604.50 L265.00 696.80" stroke="#111" stroke-width="3.30" stroke-linecap="round" fill="none"/>
<path d="M282.50 574.37 C284.00 566.37 288.00 561.07 293.50 564.17" fill="none" stroke="#000" stroke-width="2.2" stroke-linecap="round"/>
<path d="M282.5 573.9C282.6 574.4 283.6 576.0 283.4 577.0C283.2 578.1 281.5 579.1 281.5 580.2C281.4 581.2 283.3 582.3 283.3 583.4C283.3 584.4 281.4 585.5 281.4 586.5C281.3 587.6 283.2 588.6 283.2 589.7C283.2 590.8 281.3 591.8 281.3 592.8C281.2 593.9 283.1 595.0 283.1 596.0C283.1 597.1 281.2 598.1 281.2 599.2C281.1 600.2 282.9 601.3 283.0 602.4C283.1 603.4 282.2 605.0 282.0 605.5" fill="none" stroke="#000" stroke-width="3.40" stroke-linecap="round" stroke-linejoin="round"/>
<path d="M282.00 605.50 L282.00 697.80" stroke="#111" stroke-width="3.10" stroke-linecap="round" fill="none"/>
<path d="M297.30 575.38 C298.80 567.38 302.80 562.08 308.30 565.18" fill="none" stroke="#000" stroke-width="2.2" stroke-linecap="round"/>
<path d="M297.3 574.9C297.4 575.4 298.3 577.0 298.1 578.1C297.9 579.1 296.1 580.1 296.1 581.2C296.0 582.2 297.9 583.4 297.9 584.4C297.8 585.5 295.9 586.4 295.8 587.5C295.8 588.5 297.6 589.7 297.6 590.7C297.6 591.8 295.6 592.8 295.6 593.8C295.5 594.9 297.4 596.0 297.3 597.1C297.3 598.1 295.4 599.1 295.3 600.1C295.3 601.2 297.0 602.3 297.1 603.4C297.2 604.4 296.2 606.0 296.0 606.5" fill="none" stroke="#000" stroke-width="3.40" stroke-linecap="round" stroke-linejoin="round"/>
<path d="M296.00 606.50 L298.00 698.30" stroke="#111" stroke-width="3.00" stroke-linecap="round" fill="none"/>
<path d="M312.60 576.33 C314.10 568.33 318.10 563.03 323.60 566.13" fill="none" stroke="#000" stroke-width="2.2" stroke-linecap="round"/>
<path d="M312.6 575.8C312.7 576.4 313.6 578.0 313.4 579.0C313.2 580.1 311.4 581.1 311.3 582.1C311.3 583.2 313.1 584.3 313.1 585.4C313.0 586.4 311.1 587.4 311.0 588.4C311.0 589.5 312.8 590.7 312.7 591.7C312.7 592.8 310.7 593.7 310.7 594.8C310.6 595.8 312.5 597.0 312.4 598.0C312.4 599.1 310.4 600.1 310.4 601.1C310.3 602.2 312.0 603.3 312.1 604.4C312.2 605.4 311.2 607.0 311.0 607.5" fill="none" stroke="#000" stroke-width="3.40" stroke-linecap="round" stroke-linejoin="round"/>
<path d="M311.00 607.50 L313.00 699.30" stroke="#111" stroke-width="2.90" stroke-linecap="round" fill="none"/>
<path d="M325.00 577.09 C326.50 569.09 330.50 563.79 336.00 566.89" fill="none" stroke="#000" stroke-width="2.2" stroke-linecap="round"/>
<path d="M325.0 576.6C325.1 577.1 326.0 578.8 325.8 579.8C325.7 580.9 323.9 581.9 323.9 582.9C323.8 584.0 325.7 585.1 325.6 586.2C325.6 587.3 323.7 588.3 323.7 589.3C323.6 590.4 325.5 591.5 325.4 592.6C325.4 593.6 323.5 594.6 323.5 595.7C323.4 596.8 325.3 597.9 325.2 599.0C325.2 600.0 323.3 601.0 323.3 602.1C323.2 603.2 324.9 604.3 325.0 605.3C325.2 606.4 324.2 608.0 324.0 608.5" fill="none" stroke="#000" stroke-width="3.40" stroke-linecap="round" stroke-linejoin="round"/>
<path d="M324.00 608.50 L323.00 701.80" stroke="#111" stroke-width="2.90" stroke-linecap="round" fill="none"/>
<path d="M335 567.5 q3 -1.5 4.5 1 M337.5 579 q3 0.5 4 -3" fill="none" stroke="#000" stroke-width="1.6" stroke-linecap="round"/>
<g transform="translate(120.60 329.20) rotate(16.689)"><line x1="10.85" y1="0.00" x2="93.96" y2="0.00" stroke="#000" stroke-width="1.40"/><path d="M0.00 0.00 L15.50 -4.00 L13.64 0.00 L15.50 4.00 Z" fill="#000"/><path d="M104.81 0.00 L89.31 -4.00 L91.17 0.00 L89.31 4.00 Z" fill="#000"/></g>
<line x1="149.79" y1="370.50" x2="651.91" y2="370.50" stroke="#000" stroke-width="1.50"/><path d="M139.50 370.50 L154.20 366.75 L152.44 370.50 L154.20 374.25 Z" fill="#000"/><path d="M662.20 370.50 L647.50 366.75 L649.26 370.50 L647.50 374.25 Z" fill="#000"/>
<g transform="translate(662.50 378.00) rotate(90.000)"><line x1="9.94" y1="0.00" x2="80.06" y2="0.00" stroke="#000" stroke-width="1.25"/><path d="M0.00 0.00 L14.20 -4.10 L12.50 0.00 L14.20 4.10 Z" fill="#000"/><path d="M90.00 0.00 L75.80 -4.10 L77.50 0.00 L75.80 4.10 Z" fill="#000"/></g>
<line x1="384.25" y1="503.50" x2="727.50" y2="503.50" stroke="#000" stroke-width="1.50"/><path d="M373.75 503.50 L388.75 499.90 L386.95 503.50 L388.75 507.10 Z" fill="#000"/><path d="M738.00 503.50 L723.00 499.90 L724.80 503.50 L723.00 507.10 Z" fill="#000"/>
<g transform="translate(743.50 515.40) rotate(90.000)"><line x1="10.50" y1="0.00" x2="91.10" y2="0.00" stroke="#000" stroke-width="1.60"/><path d="M0.00 0.00 L15.00 -4.60 L13.20 0.00 L15.00 4.60 Z" fill="#000"/><path d="M101.60 0.00 L86.60 -4.60 L88.40 0.00 L86.60 4.60 Z" fill="#000"/></g>
<line x1="597.05" y1="750.00" x2="699.70" y2="750.00" stroke="#000" stroke-width="2.00"/><path d="M583.75 750.00 L602.75 745.40 L600.47 750.00 L602.75 754.60 Z" fill="#000"/><path d="M713.00 750.00 L694.00 745.40 L696.28 750.00 L694.00 754.60 Z" fill="#000"/>
<g transform="translate(712.00 650.00) rotate(90.000)"><line x1="12.25" y1="0.00" x2="80.25" y2="0.00" stroke="#000" stroke-width="2.00"/><path d="M0.00 0.00 L17.50 -5.00 L15.40 0.00 L17.50 5.00 Z" fill="#000"/><path d="M92.50 0.00 L75.00 -5.00 L77.10 0.00 L75.00 5.00 Z" fill="#000"/></g>
<line x1="61.10" y1="537.40" x2="322.70" y2="537.40" stroke="#000" stroke-width="1.60"/><path d="M50.60 537.40 L65.60 533.60 L63.80 537.40 L65.60 541.20 Z" fill="#000"/><path d="M333.20 537.40 L318.20 533.60 L320.00 537.40 L318.20 541.20 Z" fill="#000"/>
<g transform="translate(43.40 569.40) rotate(90.000)"><line x1="10.50" y1="0.00" x2="124.50" y2="0.00" stroke="#000" stroke-width="1.50"/><path d="M0.00 0.00 L15.00 -5.00 L13.20 0.00 L15.00 5.00 Z" fill="#000"/><path d="M135.00 0.00 L120.00 -5.00 L121.80 0.00 L120.00 5.00 Z" fill="#000"/></g>
<text x="0" y="0" font-size="15.70" text-anchor="middle" transform="translate(598.50 42.90) scale(0.965 1)">30cm/11.81in</text>
<text x="0" y="0" font-size="15.70" text-anchor="middle" transform="translate(161.00 356.50) rotate(16.00) scale(0.965 1)">2.8cm/1.1in</text>
<text x="0" y="0" font-size="15.70" text-anchor="middle" transform="translate(412.00 362.80) scale(0.965 1)">20cm/7.87in</text>
<text x="0" y="0" font-size="15.70" text-anchor="middle" transform="translate(671.50 419.60) rotate(90.00) scale(0.965 1)">2.8cm/1.1in</text>
<text x="0" y="0" font-size="15.70" text-anchor="middle" transform="translate(557.00 497.70) scale(0.965 1)">10cm/3.94in</text>
<text x="0" y="0" font-size="15.70" text-anchor="middle" transform="translate(747.60 568.00) rotate(90.00) scale(0.965 1)">2.8cm/1.1in</text>
<text x="0" y="0" font-size="15.70" text-anchor="middle" transform="translate(647.50 765.30) scale(0.965 1)">3cm/1.18in</text>
<text x="0" y="0" font-size="15.70" text-anchor="middle" transform="translate(721.50 702.00) rotate(90.00) scale(0.965 1)">2.8cm/1.1in</text>
<text x="0" y="0" font-size="15.70" text-anchor="middle" transform="translate(185.60 529.50) scale(0.965 1)">7.5cm/2.95in</text>
<text x="0" y="0" font-size="15.70" text-anchor="middle" transform="translate(38.50 636.00) rotate(-90.00) scale(0.965 1)">3.5cm/1.38in</text>
<text x="0" y="0" font-size="52.50" text-anchor="middle" class="ser" transform="translate(392.50 213.90) scale(0.770 1)">E</text>
<text x="0" y="0" font-size="51.50" text-anchor="middle" class="ser" transform="translate(91.00 441.00) scale(0.730 1)">C</text>
<text x="0" y="0" font-size="50.80" text-anchor="middle" class="ser" transform="translate(360.50 575.70) scale(0.720 1)">B</text>
<text x="0" y="0" font-size="50.80" text-anchor="middle" class="ser" transform="translate(185.00 759.20) scale(0.640 1)">D</text>
<text x="0" y="0" font-size="50.70" text-anchor="middle" class="ser" transform="translate(572.10 791.00) scale(0.640 1)">A</text>
</g>
</svg>
</body></html>
